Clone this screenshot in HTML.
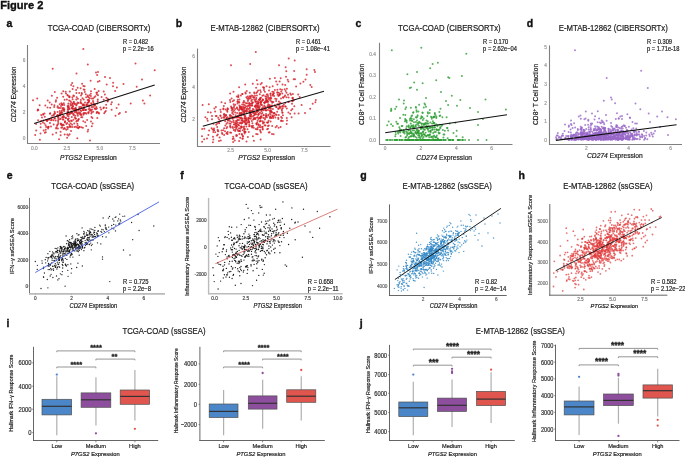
<!DOCTYPE html>
<html><head><meta charset="utf-8"><title>Figure 2</title>
<style>
html,body{margin:0;padding:0;background:#fff;}
body{width:685px;height:458px;overflow:hidden;}
svg{display:block;font-family:"Liberation Sans", sans-serif;will-change:transform;}
</style></head><body>
<svg width="685" height="458" viewBox="0 0 685 458">
<rect width="685" height="458" fill="#fff"/>
<text x="0.20" y="8.80" font-size="11.1" font-weight="bold" fill="#111" stroke="#111" stroke-width="0.35">Figure 2</text>
<text x="6.50" y="26.60" font-size="10.5" font-weight="bold" fill="#111" stroke="#111" stroke-width="0.35">a</text>
<text x="175.70" y="26.60" font-size="10.5" font-weight="bold" fill="#111" stroke="#111" stroke-width="0.35">b</text>
<text x="355.60" y="26.60" font-size="10.5" font-weight="bold" fill="#111" stroke="#111" stroke-width="0.35">c</text>
<text x="526.80" y="26.60" font-size="10.5" font-weight="bold" fill="#111" stroke="#111" stroke-width="0.35">d</text>
<text x="6.70" y="178.70" font-size="10.5" font-weight="bold" fill="#111" stroke="#111" stroke-width="0.35">e</text>
<text x="180.30" y="178.60" font-size="10.5" font-weight="bold" fill="#111" stroke="#111" stroke-width="0.35">f</text>
<text x="360.30" y="178.50" font-size="10.5" font-weight="bold" fill="#111" stroke="#111" stroke-width="0.35">g</text>
<text x="518.50" y="178.50" font-size="10.5" font-weight="bold" fill="#111" stroke="#111" stroke-width="0.35">h</text>
<text x="6.50" y="326.80" font-size="10.5" font-weight="bold" fill="#111" stroke="#111" stroke-width="0.35">i</text>
<text x="359.80" y="326.60" font-size="10.5" font-weight="bold" fill="#111" stroke="#111" stroke-width="0.35">j</text>
<text x="0.00" y="0.00" font-size="7.75" text-anchor="middle" fill="#1a1a1a" stroke="#1a1a1a" stroke-width="0.18" transform="translate(99.00 31.00) scale(1 1.2)">TCGA-COAD (CIBERSORTx)</text>
<text x="0.00" y="0.00" font-size="7.75" text-anchor="middle" fill="#1a1a1a" stroke="#1a1a1a" stroke-width="0.18" transform="translate(265.00 31.00) scale(1 1.2)">E-MTAB-12862 (CIBERSORTx)</text>
<text x="0.00" y="0.00" font-size="7.75" text-anchor="middle" fill="#1a1a1a" stroke="#1a1a1a" stroke-width="0.18" transform="translate(449.40 31.00) scale(1 1.2)">TCGA-COAD (CIBERSORTx)</text>
<text x="0.00" y="0.00" font-size="7.75" text-anchor="middle" fill="#1a1a1a" stroke="#1a1a1a" stroke-width="0.18" transform="translate(613.30 31.00) scale(1 1.2)">E-MTAB-12862 (CIBERSORTx)</text>
<g fill="#d41f28" fill-opacity="0.8"><circle cx="59.8" cy="111.0" r="1.0"/><circle cx="76.6" cy="111.8" r="1.0"/><circle cx="48.5" cy="127.1" r="1.0"/><circle cx="69.3" cy="124.4" r="1.0"/><circle cx="93.4" cy="104.2" r="1.0"/><circle cx="74.8" cy="117.4" r="1.0"/><circle cx="77.0" cy="120.5" r="1.0"/><circle cx="66.0" cy="117.9" r="1.0"/><circle cx="75.0" cy="109.0" r="1.0"/><circle cx="40.5" cy="133.5" r="1.0"/><circle cx="43.2" cy="114.0" r="1.0"/><circle cx="80.6" cy="88.3" r="1.0"/><circle cx="40.7" cy="123.8" r="1.0"/><circle cx="97.1" cy="92.6" r="1.0"/><circle cx="88.6" cy="100.1" r="1.0"/><circle cx="51.0" cy="126.4" r="1.0"/><circle cx="33.0" cy="100.3" r="1.0"/><circle cx="78.7" cy="109.4" r="1.0"/><circle cx="71.3" cy="111.6" r="1.0"/><circle cx="97.7" cy="101.3" r="1.0"/><circle cx="81.6" cy="103.6" r="1.0"/><circle cx="101.6" cy="96.9" r="1.0"/><circle cx="89.1" cy="106.8" r="1.0"/><circle cx="55.6" cy="120.6" r="1.0"/><circle cx="69.6" cy="97.3" r="1.0"/><circle cx="57.5" cy="115.1" r="1.0"/><circle cx="67.2" cy="127.0" r="1.0"/><circle cx="63.5" cy="115.7" r="1.0"/><circle cx="68.7" cy="107.2" r="1.0"/><circle cx="97.8" cy="99.5" r="1.0"/><circle cx="62.8" cy="119.4" r="1.0"/><circle cx="51.0" cy="120.3" r="1.0"/><circle cx="61.3" cy="127.7" r="1.0"/><circle cx="64.1" cy="111.3" r="1.0"/><circle cx="62.2" cy="107.9" r="1.0"/><circle cx="69.8" cy="91.4" r="1.0"/><circle cx="65.0" cy="122.5" r="1.0"/><circle cx="93.3" cy="102.3" r="1.0"/><circle cx="89.7" cy="105.5" r="1.0"/><circle cx="59.0" cy="139.3" r="1.0"/><circle cx="91.0" cy="91.3" r="1.0"/><circle cx="98.7" cy="91.1" r="1.0"/><circle cx="73.1" cy="106.1" r="1.0"/><circle cx="57.6" cy="112.1" r="1.0"/><circle cx="81.1" cy="111.1" r="1.0"/><circle cx="71.6" cy="108.0" r="1.0"/><circle cx="79.3" cy="107.1" r="1.0"/><circle cx="53.7" cy="114.5" r="1.0"/><circle cx="111.6" cy="109.8" r="1.0"/><circle cx="69.6" cy="134.2" r="1.0"/><circle cx="82.9" cy="127.7" r="1.0"/><circle cx="62.3" cy="104.4" r="1.0"/><circle cx="76.1" cy="89.9" r="1.0"/><circle cx="49.4" cy="119.0" r="1.0"/><circle cx="91.5" cy="104.2" r="1.0"/><circle cx="47.9" cy="127.2" r="1.0"/><circle cx="44.8" cy="116.7" r="1.0"/><circle cx="94.1" cy="104.0" r="1.0"/><circle cx="64.4" cy="128.1" r="1.0"/><circle cx="70.4" cy="103.9" r="1.0"/><circle cx="93.2" cy="98.5" r="1.0"/><circle cx="82.5" cy="98.2" r="1.0"/><circle cx="79.3" cy="108.5" r="1.0"/><circle cx="85.6" cy="112.9" r="1.0"/><circle cx="37.9" cy="109.6" r="1.0"/><circle cx="97.3" cy="103.5" r="1.0"/><circle cx="98.0" cy="95.2" r="1.0"/><circle cx="107.6" cy="101.5" r="1.0"/><circle cx="35.2" cy="135.0" r="1.0"/><circle cx="58.1" cy="120.6" r="1.0"/><circle cx="63.4" cy="128.9" r="1.0"/><circle cx="105.0" cy="111.9" r="1.0"/><circle cx="84.1" cy="112.9" r="1.0"/><circle cx="106.3" cy="108.1" r="1.0"/><circle cx="82.1" cy="83.8" r="1.0"/><circle cx="62.0" cy="125.2" r="1.0"/><circle cx="50.0" cy="123.1" r="1.0"/><circle cx="63.4" cy="110.1" r="1.0"/><circle cx="99.5" cy="80.9" r="1.0"/><circle cx="58.2" cy="115.4" r="1.0"/><circle cx="41.2" cy="115.0" r="1.0"/><circle cx="79.0" cy="112.3" r="1.0"/><circle cx="99.0" cy="113.6" r="1.0"/><circle cx="118.6" cy="104.5" r="1.0"/><circle cx="96.8" cy="94.2" r="1.0"/><circle cx="91.7" cy="107.0" r="1.0"/><circle cx="41.1" cy="121.1" r="1.0"/><circle cx="67.0" cy="113.8" r="1.0"/><circle cx="66.9" cy="99.6" r="1.0"/><circle cx="76.4" cy="93.0" r="1.0"/><circle cx="56.8" cy="116.0" r="1.0"/><circle cx="88.4" cy="112.3" r="1.0"/><circle cx="96.9" cy="108.5" r="1.0"/><circle cx="75.9" cy="126.8" r="1.0"/><circle cx="68.5" cy="116.2" r="1.0"/><circle cx="77.3" cy="103.7" r="1.0"/><circle cx="80.8" cy="103.0" r="1.0"/><circle cx="88.4" cy="113.2" r="1.0"/><circle cx="58.0" cy="116.4" r="1.0"/><circle cx="100.3" cy="107.6" r="1.0"/><circle cx="74.4" cy="110.7" r="1.0"/><circle cx="70.5" cy="101.3" r="1.0"/><circle cx="86.4" cy="104.5" r="1.0"/><circle cx="60.9" cy="123.4" r="1.0"/><circle cx="89.8" cy="110.8" r="1.0"/><circle cx="150.1" cy="95.4" r="1.0"/><circle cx="81.7" cy="107.6" r="1.0"/><circle cx="77.4" cy="113.9" r="1.0"/><circle cx="64.9" cy="128.7" r="1.0"/><circle cx="101.1" cy="109.5" r="1.0"/><circle cx="94.4" cy="97.3" r="1.0"/><circle cx="45.8" cy="132.3" r="1.0"/><circle cx="91.5" cy="117.1" r="1.0"/><circle cx="61.3" cy="112.1" r="1.0"/><circle cx="51.9" cy="95.8" r="1.0"/><circle cx="72.1" cy="108.5" r="1.0"/><circle cx="61.2" cy="124.4" r="1.0"/><circle cx="94.8" cy="108.4" r="1.0"/><circle cx="50.2" cy="113.3" r="1.0"/><circle cx="49.7" cy="102.4" r="1.0"/><circle cx="56.0" cy="100.2" r="1.0"/><circle cx="70.8" cy="123.5" r="1.0"/><circle cx="84.2" cy="113.6" r="1.0"/><circle cx="53.3" cy="120.3" r="1.0"/><circle cx="60.0" cy="115.5" r="1.0"/><circle cx="44.5" cy="113.5" r="1.0"/><circle cx="69.7" cy="108.9" r="1.0"/><circle cx="54.5" cy="118.5" r="1.0"/><circle cx="113.1" cy="82.8" r="1.0"/><circle cx="108.6" cy="99.7" r="1.0"/><circle cx="56.2" cy="132.7" r="1.0"/><circle cx="75.8" cy="110.6" r="1.0"/><circle cx="81.0" cy="114.3" r="1.0"/><circle cx="63.2" cy="116.7" r="1.0"/><circle cx="66.0" cy="93.4" r="1.0"/><circle cx="85.0" cy="102.4" r="1.0"/><circle cx="68.2" cy="127.3" r="1.0"/><circle cx="67.7" cy="111.6" r="1.0"/><circle cx="72.6" cy="106.6" r="1.0"/><circle cx="95.9" cy="109.3" r="1.0"/><circle cx="68.4" cy="103.5" r="1.0"/><circle cx="80.3" cy="114.6" r="1.0"/><circle cx="77.6" cy="102.6" r="1.0"/><circle cx="86.3" cy="113.8" r="1.0"/><circle cx="69.6" cy="121.4" r="1.0"/><circle cx="64.2" cy="104.9" r="1.0"/><circle cx="60.6" cy="131.7" r="1.0"/><circle cx="77.6" cy="87.8" r="1.0"/><circle cx="75.8" cy="112.3" r="1.0"/><circle cx="68.5" cy="135.4" r="1.0"/><circle cx="77.3" cy="123.7" r="1.0"/><circle cx="116.6" cy="108.0" r="1.0"/><circle cx="87.7" cy="131.4" r="1.0"/><circle cx="39.6" cy="105.2" r="1.0"/><circle cx="97.1" cy="75.0" r="1.0"/><circle cx="75.9" cy="118.4" r="1.0"/><circle cx="54.6" cy="111.8" r="1.0"/><circle cx="97.9" cy="81.7" r="1.0"/><circle cx="71.8" cy="116.9" r="1.0"/><circle cx="91.9" cy="98.4" r="1.0"/><circle cx="62.0" cy="104.2" r="1.0"/><circle cx="92.6" cy="123.4" r="1.0"/><circle cx="68.1" cy="109.7" r="1.0"/><circle cx="90.8" cy="93.8" r="1.0"/><circle cx="88.3" cy="105.5" r="1.0"/><circle cx="52.1" cy="115.8" r="1.0"/><circle cx="81.9" cy="94.0" r="1.0"/><circle cx="72.2" cy="112.5" r="1.0"/><circle cx="78.4" cy="113.4" r="1.0"/><circle cx="67.4" cy="113.8" r="1.0"/><circle cx="95.2" cy="104.4" r="1.0"/><circle cx="53.7" cy="115.4" r="1.0"/><circle cx="91.3" cy="113.6" r="1.0"/><circle cx="75.7" cy="110.3" r="1.0"/><circle cx="119.9" cy="113.0" r="1.0"/><circle cx="54.8" cy="92.1" r="1.0"/><circle cx="90.8" cy="109.8" r="1.0"/><circle cx="63.4" cy="119.4" r="1.0"/><circle cx="55.8" cy="101.7" r="1.0"/><circle cx="93.0" cy="107.1" r="1.0"/><circle cx="84.3" cy="105.8" r="1.0"/><circle cx="43.7" cy="130.5" r="1.0"/><circle cx="51.3" cy="117.8" r="1.0"/><circle cx="84.0" cy="104.4" r="1.0"/><circle cx="57.7" cy="106.3" r="1.0"/><circle cx="97.5" cy="112.2" r="1.0"/><circle cx="103.9" cy="107.4" r="1.0"/><circle cx="71.0" cy="130.9" r="1.0"/><circle cx="73.9" cy="101.7" r="1.0"/><circle cx="73.9" cy="115.3" r="1.0"/><circle cx="68.0" cy="119.0" r="1.0"/><circle cx="72.7" cy="108.4" r="1.0"/><circle cx="69.1" cy="100.5" r="1.0"/><circle cx="81.2" cy="117.3" r="1.0"/><circle cx="67.3" cy="134.4" r="1.0"/><circle cx="63.8" cy="125.2" r="1.0"/><circle cx="67.9" cy="107.3" r="1.0"/><circle cx="62.2" cy="112.5" r="1.0"/><circle cx="71.9" cy="120.9" r="1.0"/><circle cx="83.3" cy="104.9" r="1.0"/><circle cx="111.1" cy="104.2" r="1.0"/><circle cx="43.5" cy="120.4" r="1.0"/><circle cx="48.1" cy="128.6" r="1.0"/><circle cx="72.1" cy="127.1" r="1.0"/><circle cx="74.0" cy="109.1" r="1.0"/><circle cx="72.6" cy="106.7" r="1.0"/><circle cx="107.7" cy="101.0" r="1.0"/><circle cx="39.9" cy="139.7" r="1.0"/><circle cx="70.6" cy="105.4" r="1.0"/><circle cx="50.1" cy="107.7" r="1.0"/><circle cx="67.9" cy="119.8" r="1.0"/><circle cx="82.8" cy="110.1" r="1.0"/><circle cx="46.9" cy="120.8" r="1.0"/><circle cx="92.2" cy="109.6" r="1.0"/><circle cx="57.9" cy="116.6" r="1.0"/><circle cx="54.2" cy="107.1" r="1.0"/><circle cx="43.2" cy="114.8" r="1.0"/><circle cx="60.6" cy="135.3" r="1.0"/><circle cx="59.8" cy="119.2" r="1.0"/><circle cx="88.6" cy="109.2" r="1.0"/><circle cx="44.8" cy="132.7" r="1.0"/><circle cx="77.3" cy="138.2" r="1.0"/><circle cx="88.8" cy="97.6" r="1.0"/><circle cx="68.8" cy="108.8" r="1.0"/><circle cx="87.5" cy="102.7" r="1.0"/><circle cx="60.7" cy="118.8" r="1.0"/><circle cx="81.0" cy="95.6" r="1.0"/><circle cx="67.3" cy="94.9" r="1.0"/><circle cx="113.0" cy="86.2" r="1.0"/><circle cx="68.2" cy="105.5" r="1.0"/><circle cx="67.9" cy="95.4" r="1.0"/><circle cx="80.8" cy="107.0" r="1.0"/><circle cx="63.7" cy="107.9" r="1.0"/><circle cx="69.8" cy="126.1" r="1.0"/><circle cx="79.6" cy="113.6" r="1.0"/><circle cx="89.5" cy="95.3" r="1.0"/><circle cx="62.5" cy="104.9" r="1.0"/><circle cx="74.5" cy="103.9" r="1.0"/><circle cx="70.3" cy="113.0" r="1.0"/><circle cx="86.2" cy="126.1" r="1.0"/><circle cx="88.5" cy="112.5" r="1.0"/><circle cx="80.8" cy="99.9" r="1.0"/><circle cx="78.3" cy="127.7" r="1.0"/><circle cx="106.3" cy="97.7" r="1.0"/><circle cx="57.4" cy="124.8" r="1.0"/><circle cx="103.4" cy="108.2" r="1.0"/><circle cx="83.3" cy="121.2" r="1.0"/><circle cx="45.3" cy="105.6" r="1.0"/><circle cx="75.8" cy="108.9" r="1.0"/><circle cx="47.5" cy="119.7" r="1.0"/><circle cx="71.2" cy="85.0" r="1.0"/><circle cx="36.2" cy="130.6" r="1.0"/><circle cx="86.8" cy="104.7" r="1.0"/><circle cx="58.9" cy="108.1" r="1.0"/><circle cx="103.7" cy="99.8" r="1.0"/><circle cx="60.1" cy="114.0" r="1.0"/><circle cx="74.4" cy="126.9" r="1.0"/><circle cx="48.5" cy="126.7" r="1.0"/><circle cx="71.1" cy="120.6" r="1.0"/><circle cx="74.2" cy="123.5" r="1.0"/><circle cx="82.7" cy="105.3" r="1.0"/><circle cx="118.8" cy="114.0" r="1.0"/><circle cx="103.7" cy="91.4" r="1.0"/><circle cx="87.9" cy="96.8" r="1.0"/><circle cx="67.5" cy="115.7" r="1.0"/><circle cx="68.3" cy="112.4" r="1.0"/><circle cx="67.9" cy="109.0" r="1.0"/><circle cx="57.9" cy="128.6" r="1.0"/><circle cx="85.9" cy="109.9" r="1.0"/><circle cx="72.6" cy="99.3" r="1.0"/><circle cx="83.4" cy="110.2" r="1.0"/><circle cx="69.2" cy="97.0" r="1.0"/><circle cx="80.6" cy="101.9" r="1.0"/><circle cx="106.1" cy="104.7" r="1.0"/><circle cx="80.3" cy="113.0" r="1.0"/><circle cx="90.9" cy="96.1" r="1.0"/><circle cx="58.4" cy="117.6" r="1.0"/><circle cx="71.3" cy="102.4" r="1.0"/><circle cx="67.1" cy="137.8" r="1.0"/><circle cx="83.3" cy="113.4" r="1.0"/><circle cx="79.6" cy="126.9" r="1.0"/><circle cx="61.9" cy="110.5" r="1.0"/><circle cx="80.7" cy="110.2" r="1.0"/><circle cx="76.7" cy="97.2" r="1.0"/><circle cx="45.7" cy="129.8" r="1.0"/><circle cx="74.0" cy="96.0" r="1.0"/><circle cx="96.4" cy="92.7" r="1.0"/><circle cx="58.3" cy="123.7" r="1.0"/><circle cx="94.7" cy="89.0" r="1.0"/><circle cx="87.6" cy="95.5" r="1.0"/><circle cx="78.0" cy="120.7" r="1.0"/><circle cx="83.0" cy="104.6" r="1.0"/><circle cx="60.2" cy="114.3" r="1.0"/><circle cx="87.9" cy="102.8" r="1.0"/><circle cx="48.9" cy="119.7" r="1.0"/><circle cx="54.4" cy="105.2" r="1.0"/><circle cx="84.9" cy="109.9" r="1.0"/><circle cx="54.9" cy="113.0" r="1.0"/><circle cx="111.9" cy="102.3" r="1.0"/><circle cx="81.3" cy="115.2" r="1.0"/><circle cx="91.8" cy="126.3" r="1.0"/><circle cx="93.0" cy="101.1" r="1.0"/><circle cx="68.0" cy="114.3" r="1.0"/><circle cx="75.7" cy="108.2" r="1.0"/><circle cx="84.0" cy="108.1" r="1.0"/><circle cx="75.4" cy="118.4" r="1.0"/><circle cx="104.2" cy="113.3" r="1.0"/><circle cx="94.3" cy="105.5" r="1.0"/><circle cx="79.4" cy="126.9" r="1.0"/><circle cx="98.7" cy="112.8" r="1.0"/><circle cx="76.8" cy="109.9" r="1.0"/><circle cx="89.7" cy="108.8" r="1.0"/><circle cx="78.4" cy="110.0" r="1.0"/><circle cx="70.5" cy="126.7" r="1.0"/><circle cx="58.2" cy="122.1" r="1.0"/><circle cx="62.2" cy="127.2" r="1.0"/><circle cx="76.3" cy="99.6" r="1.0"/><circle cx="83.1" cy="109.1" r="1.0"/><circle cx="36.1" cy="124.1" r="1.0"/><circle cx="67.6" cy="106.2" r="1.0"/><circle cx="85.8" cy="94.3" r="1.0"/><circle cx="72.1" cy="124.7" r="1.0"/><circle cx="54.7" cy="113.7" r="1.0"/><circle cx="56.4" cy="127.4" r="1.0"/><circle cx="105.8" cy="111.0" r="1.0"/><circle cx="45.6" cy="125.2" r="1.0"/><circle cx="68.7" cy="121.1" r="1.0"/><circle cx="89.9" cy="98.2" r="1.0"/><circle cx="38.1" cy="120.2" r="1.0"/><circle cx="87.1" cy="120.1" r="1.0"/><circle cx="46.2" cy="127.0" r="1.0"/><circle cx="93.2" cy="111.7" r="1.0"/><circle cx="123.5" cy="84.0" r="1.0"/><circle cx="51.7" cy="104.4" r="1.0"/><circle cx="73.4" cy="86.3" r="1.0"/><circle cx="81.4" cy="127.3" r="1.0"/><circle cx="64.2" cy="117.1" r="1.0"/><circle cx="84.6" cy="86.2" r="1.0"/><circle cx="61.6" cy="113.7" r="1.0"/><circle cx="64.2" cy="109.8" r="1.0"/><circle cx="59.6" cy="114.2" r="1.0"/><circle cx="73.7" cy="113.9" r="1.0"/><circle cx="83.3" cy="86.0" r="1.0"/><circle cx="92.4" cy="118.1" r="1.0"/><circle cx="72.6" cy="89.0" r="1.0"/><circle cx="54.9" cy="118.3" r="1.0"/><circle cx="65.7" cy="91.7" r="1.0"/><circle cx="65.1" cy="121.2" r="1.0"/><circle cx="67.3" cy="114.3" r="1.0"/><circle cx="85.2" cy="122.2" r="1.0"/><circle cx="71.9" cy="112.9" r="1.0"/><circle cx="76.2" cy="104.6" r="1.0"/><circle cx="75.4" cy="108.0" r="1.0"/><circle cx="72.8" cy="108.8" r="1.0"/><circle cx="65.7" cy="118.1" r="1.0"/><circle cx="87.7" cy="99.9" r="1.0"/><circle cx="72.7" cy="103.6" r="1.0"/><circle cx="72.2" cy="82.9" r="1.0"/><circle cx="53.7" cy="124.6" r="1.0"/><circle cx="61.3" cy="103.3" r="1.0"/><circle cx="63.2" cy="96.7" r="1.0"/><circle cx="84.6" cy="89.8" r="1.0"/><circle cx="42.0" cy="117.5" r="1.0"/><circle cx="87.5" cy="105.4" r="1.0"/><circle cx="76.3" cy="105.6" r="1.0"/><circle cx="61.0" cy="106.1" r="1.0"/><circle cx="58.3" cy="119.0" r="1.0"/><circle cx="83.3" cy="105.6" r="1.0"/><circle cx="77.9" cy="98.8" r="1.0"/><circle cx="37.6" cy="110.5" r="1.0"/><circle cx="61.2" cy="112.8" r="1.0"/><circle cx="57.1" cy="125.8" r="1.0"/><circle cx="72.6" cy="104.0" r="1.0"/><circle cx="62.2" cy="117.2" r="1.0"/><circle cx="82.3" cy="117.3" r="1.0"/><circle cx="64.3" cy="109.3" r="1.0"/><circle cx="68.8" cy="118.5" r="1.0"/><circle cx="96.6" cy="113.1" r="1.0"/><circle cx="69.5" cy="114.0" r="1.0"/><circle cx="64.7" cy="134.4" r="1.0"/><circle cx="74.5" cy="111.9" r="1.0"/><circle cx="50.0" cy="113.7" r="1.0"/><circle cx="44.5" cy="123.5" r="1.0"/><circle cx="73.2" cy="114.6" r="1.0"/><circle cx="62.9" cy="117.4" r="1.0"/><circle cx="47.5" cy="107.4" r="1.0"/><circle cx="90.6" cy="80.8" r="1.0"/><circle cx="142.9" cy="100.6" r="1.0"/><circle cx="77.7" cy="125.6" r="1.0"/><circle cx="63.8" cy="103.2" r="1.0"/><circle cx="69.9" cy="126.9" r="1.0"/><circle cx="63.0" cy="124.5" r="1.0"/><circle cx="89.2" cy="100.4" r="1.0"/><circle cx="47.1" cy="121.0" r="1.0"/><circle cx="78.4" cy="119.6" r="1.0"/><circle cx="73.8" cy="102.8" r="1.0"/><circle cx="52.7" cy="134.5" r="1.0"/><circle cx="84.8" cy="92.0" r="1.0"/><circle cx="67.2" cy="123.0" r="1.0"/><circle cx="107.7" cy="98.8" r="1.0"/><circle cx="94.9" cy="108.5" r="1.0"/><circle cx="72.4" cy="97.3" r="1.0"/><circle cx="66.5" cy="124.1" r="1.0"/><circle cx="60.9" cy="124.2" r="1.0"/><circle cx="60.2" cy="108.1" r="1.0"/><circle cx="79.2" cy="93.0" r="1.0"/><circle cx="47.1" cy="120.4" r="1.0"/><circle cx="91.2" cy="103.2" r="1.0"/><circle cx="86.2" cy="97.3" r="1.0"/><circle cx="71.0" cy="112.7" r="1.0"/><circle cx="115.1" cy="91.0" r="1.0"/><circle cx="115.5" cy="115.7" r="1.0"/><circle cx="78.8" cy="119.0" r="1.0"/><circle cx="104.9" cy="94.5" r="1.0"/><circle cx="68.0" cy="111.6" r="1.0"/><circle cx="62.3" cy="125.2" r="1.0"/><circle cx="91.8" cy="112.3" r="1.0"/><circle cx="38.3" cy="109.9" r="1.0"/><circle cx="91.0" cy="121.6" r="1.0"/><circle cx="73.4" cy="119.8" r="1.0"/><circle cx="64.6" cy="99.7" r="1.0"/><circle cx="75.0" cy="103.7" r="1.0"/><circle cx="75.4" cy="115.8" r="1.0"/><circle cx="96.3" cy="107.0" r="1.0"/><circle cx="88.8" cy="102.0" r="1.0"/><circle cx="77.1" cy="127.6" r="1.0"/><circle cx="69.4" cy="96.2" r="1.0"/><circle cx="56.1" cy="128.5" r="1.0"/><circle cx="77.1" cy="112.9" r="1.0"/><circle cx="91.1" cy="110.7" r="1.0"/><circle cx="73.4" cy="95.5" r="1.0"/><circle cx="42.9" cy="122.4" r="1.0"/><circle cx="83.8" cy="108.3" r="1.0"/><circle cx="57.1" cy="97.8" r="1.0"/><circle cx="64.9" cy="121.7" r="1.0"/><circle cx="40.6" cy="127.2" r="1.0"/><circle cx="59.7" cy="104.2" r="1.0"/><circle cx="76.3" cy="121.6" r="1.0"/><circle cx="71.9" cy="112.5" r="1.0"/><circle cx="78.7" cy="103.1" r="1.0"/><circle cx="60.0" cy="113.0" r="1.0"/><circle cx="83.7" cy="99.6" r="1.0"/><circle cx="46.2" cy="120.1" r="1.0"/><circle cx="62.9" cy="109.0" r="1.0"/><circle cx="67.6" cy="128.9" r="1.0"/><circle cx="63.2" cy="91.3" r="1.0"/><circle cx="69.7" cy="114.2" r="1.0"/><circle cx="83.7" cy="89.6" r="1.0"/><circle cx="97.3" cy="117.9" r="1.0"/><circle cx="51.6" cy="119.8" r="1.0"/><circle cx="68.8" cy="106.9" r="1.0"/><circle cx="37.2" cy="98.4" r="1.0"/><circle cx="106.7" cy="84.6" r="1.0"/><circle cx="97.0" cy="112.0" r="1.0"/><circle cx="81.7" cy="93.0" r="1.0"/><circle cx="95.4" cy="96.2" r="1.0"/><circle cx="88.9" cy="101.6" r="1.0"/><circle cx="61.6" cy="93.5" r="1.0"/><circle cx="86.4" cy="105.5" r="1.0"/><circle cx="94.8" cy="105.5" r="1.0"/><circle cx="88.1" cy="129.8" r="1.0"/><circle cx="71.8" cy="105.0" r="1.0"/><circle cx="66.3" cy="129.8" r="1.0"/><circle cx="116.9" cy="87.5" r="1.0"/><circle cx="78.4" cy="128.3" r="1.0"/><circle cx="83.4" cy="114.8" r="1.0"/><circle cx="47.7" cy="100.5" r="1.0"/><circle cx="85.9" cy="109.7" r="1.0"/><circle cx="77.9" cy="115.8" r="1.0"/><circle cx="57.6" cy="107.5" r="1.0"/><circle cx="83.3" cy="49.0" r="1.0"/><circle cx="87.8" cy="64.4" r="1.0"/><circle cx="52.7" cy="68.8" r="1.0"/><circle cx="76.5" cy="73.4" r="1.0"/><circle cx="135.5" cy="63.5" r="1.0"/><circle cx="154.7" cy="70.3" r="1.0"/><circle cx="142.0" cy="79.6" r="1.0"/><circle cx="136.7" cy="86.8" r="1.0"/><circle cx="130.7" cy="103.6" r="1.0"/><circle cx="144.4" cy="103.6" r="1.0"/><circle cx="125.9" cy="112.0" r="1.0"/><circle cx="90.0" cy="140.5" r="1.0"/><circle cx="96.0" cy="72.5" r="1.0"/><circle cx="98.0" cy="72.0" r="1.0"/><circle cx="110.0" cy="78.0" r="1.0"/><circle cx="105.0" cy="77.0" r="1.0"/></g>
<line x1="27.50" y1="45.00" x2="27.50" y2="144.00" stroke="#808080" stroke-width="1.1"/>
<line x1="27.00" y1="143.50" x2="160.00" y2="143.50" stroke="#808080" stroke-width="1.1"/>
<line x1="34.10" y1="123.60" x2="154.70" y2="85.10" stroke="#111" stroke-width="1.1"/>
<text x="34.40" y="149.60" font-size="4.8" text-anchor="middle" fill="#999" stroke="#999" stroke-width="0.18">0.0</text>
<text x="66.80" y="149.60" font-size="4.8" text-anchor="middle" fill="#999" stroke="#999" stroke-width="0.18">2.5</text>
<text x="99.80" y="149.60" font-size="4.8" text-anchor="middle" fill="#999" stroke="#999" stroke-width="0.18">5.0</text>
<text x="132.30" y="149.60" font-size="4.8" text-anchor="middle" fill="#999" stroke="#999" stroke-width="0.18">7.5</text>
<text x="25.40" y="140.23" font-size="4.8" text-anchor="end" fill="#999" stroke="#999" stroke-width="0.18">0</text>
<text x="25.40" y="114.13" font-size="4.8" text-anchor="end" fill="#999" stroke="#999" stroke-width="0.18">2</text>
<text x="25.40" y="87.73" font-size="4.8" text-anchor="end" fill="#999" stroke="#999" stroke-width="0.18">4</text>
<text x="25.40" y="61.63" font-size="4.8" text-anchor="end" fill="#999" stroke="#999" stroke-width="0.18">6</text>
<text x="88.40" y="159.75" font-size="6.7" text-anchor="middle" fill="#1a1a1a" stroke="#1a1a1a" stroke-width="0.18"><tspan font-style="italic">PTGS2</tspan> Expression</text>
<text x="16.50" y="94.30" font-size="6.7" text-anchor="middle" fill="#1a1a1a" stroke="#1a1a1a" stroke-width="0.18" transform="rotate(-90 16.50 94.30)"><tspan font-style="italic">CD274</tspan> Expression</text>
<text x="0.00" y="0.00" font-size="5.75" fill="#1a1a1a" stroke="#1a1a1a" stroke-width="0.18" transform="translate(123.10 44.35) scale(1 1.1)">R = 0.482</text>
<text x="0.00" y="0.00" font-size="5.75" fill="#1a1a1a" stroke="#1a1a1a" stroke-width="0.18" transform="translate(123.10 51.35) scale(1 1.1)">p = 2.2e−16</text>
<g fill="#d41f28" fill-opacity="0.8"><circle cx="258.2" cy="115.1" r="1.0"/><circle cx="243.0" cy="136.4" r="1.0"/><circle cx="245.3" cy="118.4" r="1.0"/><circle cx="202.0" cy="136.2" r="1.0"/><circle cx="292.7" cy="101.1" r="1.0"/><circle cx="278.6" cy="127.8" r="1.0"/><circle cx="247.2" cy="98.6" r="1.0"/><circle cx="270.7" cy="95.4" r="1.0"/><circle cx="260.2" cy="90.3" r="1.0"/><circle cx="242.3" cy="123.0" r="1.0"/><circle cx="275.1" cy="105.7" r="1.0"/><circle cx="247.5" cy="129.3" r="1.0"/><circle cx="247.1" cy="103.3" r="1.0"/><circle cx="237.2" cy="120.2" r="1.0"/><circle cx="263.9" cy="88.1" r="1.0"/><circle cx="252.1" cy="103.6" r="1.0"/><circle cx="265.8" cy="98.7" r="1.0"/><circle cx="241.2" cy="109.3" r="1.0"/><circle cx="256.9" cy="129.3" r="1.0"/><circle cx="235.1" cy="109.0" r="1.0"/><circle cx="272.2" cy="126.0" r="1.0"/><circle cx="258.2" cy="106.9" r="1.0"/><circle cx="261.2" cy="102.3" r="1.0"/><circle cx="263.0" cy="123.4" r="1.0"/><circle cx="232.6" cy="126.7" r="1.0"/><circle cx="270.9" cy="108.7" r="1.0"/><circle cx="298.2" cy="94.5" r="1.0"/><circle cx="219.1" cy="119.6" r="1.0"/><circle cx="217.2" cy="123.4" r="1.0"/><circle cx="222.0" cy="133.1" r="1.0"/><circle cx="272.2" cy="102.7" r="1.0"/><circle cx="256.9" cy="80.3" r="1.0"/><circle cx="277.2" cy="111.7" r="1.0"/><circle cx="269.6" cy="87.3" r="1.0"/><circle cx="258.7" cy="125.3" r="1.0"/><circle cx="260.2" cy="118.0" r="1.0"/><circle cx="250.5" cy="96.7" r="1.0"/><circle cx="272.7" cy="95.5" r="1.0"/><circle cx="230.0" cy="99.9" r="1.0"/><circle cx="245.2" cy="107.5" r="1.0"/><circle cx="259.4" cy="117.9" r="1.0"/><circle cx="292.7" cy="98.8" r="1.0"/><circle cx="237.8" cy="122.8" r="1.0"/><circle cx="231.1" cy="106.6" r="1.0"/><circle cx="242.1" cy="108.4" r="1.0"/><circle cx="274.9" cy="90.0" r="1.0"/><circle cx="249.1" cy="122.2" r="1.0"/><circle cx="282.5" cy="106.1" r="1.0"/><circle cx="214.1" cy="130.3" r="1.0"/><circle cx="278.3" cy="108.9" r="1.0"/><circle cx="276.3" cy="107.0" r="1.0"/><circle cx="223.8" cy="106.1" r="1.0"/><circle cx="257.5" cy="109.3" r="1.0"/><circle cx="280.2" cy="89.2" r="1.0"/><circle cx="256.1" cy="108.9" r="1.0"/><circle cx="275.6" cy="127.3" r="1.0"/><circle cx="305.0" cy="113.0" r="1.0"/><circle cx="260.0" cy="112.5" r="1.0"/><circle cx="248.2" cy="99.7" r="1.0"/><circle cx="237.7" cy="117.3" r="1.0"/><circle cx="268.0" cy="125.9" r="1.0"/><circle cx="250.0" cy="112.0" r="1.0"/><circle cx="250.4" cy="116.5" r="1.0"/><circle cx="251.9" cy="105.6" r="1.0"/><circle cx="268.1" cy="97.4" r="1.0"/><circle cx="231.4" cy="116.0" r="1.0"/><circle cx="221.5" cy="130.6" r="1.0"/><circle cx="202.1" cy="141.7" r="1.0"/><circle cx="279.8" cy="108.3" r="1.0"/><circle cx="255.8" cy="112.6" r="1.0"/><circle cx="286.5" cy="97.3" r="1.0"/><circle cx="254.0" cy="117.9" r="1.0"/><circle cx="238.3" cy="125.1" r="1.0"/><circle cx="264.4" cy="102.8" r="1.0"/><circle cx="252.5" cy="102.6" r="1.0"/><circle cx="227.4" cy="117.3" r="1.0"/><circle cx="235.2" cy="130.9" r="1.0"/><circle cx="292.0" cy="103.8" r="1.0"/><circle cx="261.8" cy="83.0" r="1.0"/><circle cx="263.1" cy="122.5" r="1.0"/><circle cx="248.3" cy="118.5" r="1.0"/><circle cx="239.4" cy="105.6" r="1.0"/><circle cx="273.2" cy="117.9" r="1.0"/><circle cx="251.9" cy="116.7" r="1.0"/><circle cx="237.9" cy="101.5" r="1.0"/><circle cx="251.3" cy="101.0" r="1.0"/><circle cx="234.8" cy="140.6" r="1.0"/><circle cx="258.2" cy="103.4" r="1.0"/><circle cx="278.3" cy="108.3" r="1.0"/><circle cx="236.3" cy="135.0" r="1.0"/><circle cx="284.7" cy="89.2" r="1.0"/><circle cx="239.9" cy="123.2" r="1.0"/><circle cx="257.5" cy="111.6" r="1.0"/><circle cx="236.3" cy="128.5" r="1.0"/><circle cx="249.4" cy="103.9" r="1.0"/><circle cx="255.2" cy="100.6" r="1.0"/><circle cx="244.9" cy="105.3" r="1.0"/><circle cx="239.1" cy="87.3" r="1.0"/><circle cx="239.7" cy="108.9" r="1.0"/><circle cx="236.6" cy="121.4" r="1.0"/><circle cx="220.6" cy="115.9" r="1.0"/><circle cx="248.6" cy="109.1" r="1.0"/><circle cx="262.8" cy="99.7" r="1.0"/><circle cx="273.6" cy="134.2" r="1.0"/><circle cx="268.0" cy="96.1" r="1.0"/><circle cx="306.7" cy="69.2" r="1.0"/><circle cx="261.0" cy="97.8" r="1.0"/><circle cx="244.4" cy="121.5" r="1.0"/><circle cx="294.2" cy="71.1" r="1.0"/><circle cx="231.8" cy="108.0" r="1.0"/><circle cx="274.9" cy="78.1" r="1.0"/><circle cx="233.7" cy="104.2" r="1.0"/><circle cx="261.7" cy="111.0" r="1.0"/><circle cx="273.4" cy="101.9" r="1.0"/><circle cx="250.8" cy="103.8" r="1.0"/><circle cx="233.5" cy="120.7" r="1.0"/><circle cx="290.1" cy="113.8" r="1.0"/><circle cx="270.5" cy="93.5" r="1.0"/><circle cx="255.2" cy="117.9" r="1.0"/><circle cx="238.2" cy="96.8" r="1.0"/><circle cx="253.2" cy="116.1" r="1.0"/><circle cx="250.7" cy="105.5" r="1.0"/><circle cx="269.7" cy="108.0" r="1.0"/><circle cx="271.2" cy="98.5" r="1.0"/><circle cx="239.9" cy="106.9" r="1.0"/><circle cx="242.4" cy="138.8" r="1.0"/><circle cx="242.8" cy="121.2" r="1.0"/><circle cx="225.3" cy="125.4" r="1.0"/><circle cx="241.5" cy="120.5" r="1.0"/><circle cx="252.2" cy="110.8" r="1.0"/><circle cx="269.0" cy="90.5" r="1.0"/><circle cx="282.4" cy="112.7" r="1.0"/><circle cx="236.9" cy="108.2" r="1.0"/><circle cx="266.0" cy="110.5" r="1.0"/><circle cx="244.7" cy="121.1" r="1.0"/><circle cx="298.6" cy="113.6" r="1.0"/><circle cx="253.1" cy="119.4" r="1.0"/><circle cx="264.9" cy="119.6" r="1.0"/><circle cx="234.2" cy="110.5" r="1.0"/><circle cx="236.8" cy="96.5" r="1.0"/><circle cx="258.5" cy="101.7" r="1.0"/><circle cx="246.0" cy="103.3" r="1.0"/><circle cx="261.7" cy="117.4" r="1.0"/><circle cx="220.8" cy="111.9" r="1.0"/><circle cx="268.3" cy="115.6" r="1.0"/><circle cx="234.9" cy="127.3" r="1.0"/><circle cx="291.0" cy="94.8" r="1.0"/><circle cx="248.0" cy="119.8" r="1.0"/><circle cx="277.6" cy="94.7" r="1.0"/><circle cx="224.3" cy="117.7" r="1.0"/><circle cx="263.3" cy="110.3" r="1.0"/><circle cx="235.2" cy="123.1" r="1.0"/><circle cx="243.8" cy="110.9" r="1.0"/><circle cx="254.7" cy="106.5" r="1.0"/><circle cx="247.4" cy="111.1" r="1.0"/><circle cx="259.8" cy="94.3" r="1.0"/><circle cx="270.2" cy="111.8" r="1.0"/><circle cx="268.1" cy="122.3" r="1.0"/><circle cx="252.3" cy="126.7" r="1.0"/><circle cx="225.0" cy="131.2" r="1.0"/><circle cx="237.0" cy="126.7" r="1.0"/><circle cx="250.0" cy="112.9" r="1.0"/><circle cx="208.8" cy="104.3" r="1.0"/><circle cx="270.3" cy="117.1" r="1.0"/><circle cx="249.0" cy="121.9" r="1.0"/><circle cx="248.8" cy="118.2" r="1.0"/><circle cx="274.5" cy="115.5" r="1.0"/><circle cx="268.5" cy="114.7" r="1.0"/><circle cx="258.9" cy="99.8" r="1.0"/><circle cx="232.8" cy="101.2" r="1.0"/><circle cx="260.8" cy="116.5" r="1.0"/><circle cx="261.6" cy="108.4" r="1.0"/><circle cx="235.3" cy="104.8" r="1.0"/><circle cx="276.5" cy="98.9" r="1.0"/><circle cx="265.0" cy="108.7" r="1.0"/><circle cx="212.0" cy="119.2" r="1.0"/><circle cx="256.8" cy="110.4" r="1.0"/><circle cx="227.1" cy="126.9" r="1.0"/><circle cx="278.5" cy="96.0" r="1.0"/><circle cx="271.4" cy="112.2" r="1.0"/><circle cx="230.6" cy="123.7" r="1.0"/><circle cx="235.2" cy="112.5" r="1.0"/><circle cx="256.4" cy="123.4" r="1.0"/><circle cx="249.1" cy="103.1" r="1.0"/><circle cx="286.8" cy="108.4" r="1.0"/><circle cx="270.0" cy="116.9" r="1.0"/><circle cx="248.1" cy="105.5" r="1.0"/><circle cx="266.5" cy="98.2" r="1.0"/><circle cx="210.7" cy="112.6" r="1.0"/><circle cx="260.8" cy="91.9" r="1.0"/><circle cx="272.7" cy="116.3" r="1.0"/><circle cx="250.3" cy="114.6" r="1.0"/><circle cx="239.0" cy="128.2" r="1.0"/><circle cx="266.3" cy="115.5" r="1.0"/><circle cx="296.1" cy="86.5" r="1.0"/><circle cx="258.6" cy="105.3" r="1.0"/><circle cx="230.2" cy="114.9" r="1.0"/><circle cx="285.1" cy="95.5" r="1.0"/><circle cx="214.0" cy="128.4" r="1.0"/><circle cx="264.9" cy="91.8" r="1.0"/><circle cx="241.7" cy="126.5" r="1.0"/><circle cx="274.1" cy="96.1" r="1.0"/><circle cx="236.0" cy="123.5" r="1.0"/><circle cx="282.5" cy="112.5" r="1.0"/><circle cx="260.6" cy="84.3" r="1.0"/><circle cx="217.2" cy="127.0" r="1.0"/><circle cx="212.0" cy="115.9" r="1.0"/><circle cx="247.4" cy="122.4" r="1.0"/><circle cx="281.9" cy="110.7" r="1.0"/><circle cx="256.9" cy="95.5" r="1.0"/><circle cx="255.6" cy="105.3" r="1.0"/><circle cx="249.1" cy="111.6" r="1.0"/><circle cx="270.0" cy="100.1" r="1.0"/><circle cx="262.2" cy="100.8" r="1.0"/><circle cx="260.2" cy="98.7" r="1.0"/><circle cx="233.1" cy="111.8" r="1.0"/><circle cx="279.6" cy="94.4" r="1.0"/><circle cx="283.3" cy="97.7" r="1.0"/><circle cx="226.3" cy="118.2" r="1.0"/><circle cx="303.4" cy="81.7" r="1.0"/><circle cx="269.6" cy="132.2" r="1.0"/><circle cx="243.7" cy="104.4" r="1.0"/><circle cx="213.4" cy="123.8" r="1.0"/><circle cx="268.2" cy="104.3" r="1.0"/><circle cx="266.1" cy="110.3" r="1.0"/><circle cx="241.4" cy="123.6" r="1.0"/><circle cx="215.9" cy="116.1" r="1.0"/><circle cx="278.2" cy="117.8" r="1.0"/><circle cx="241.6" cy="127.2" r="1.0"/><circle cx="244.1" cy="126.5" r="1.0"/><circle cx="315.0" cy="72.1" r="1.0"/><circle cx="299.7" cy="96.9" r="1.0"/><circle cx="274.6" cy="105.2" r="1.0"/><circle cx="244.4" cy="131.7" r="1.0"/><circle cx="268.1" cy="106.3" r="1.0"/><circle cx="205.4" cy="117.2" r="1.0"/><circle cx="256.5" cy="124.1" r="1.0"/><circle cx="237.9" cy="116.2" r="1.0"/><circle cx="226.7" cy="118.3" r="1.0"/><circle cx="220.3" cy="115.4" r="1.0"/><circle cx="265.4" cy="96.6" r="1.0"/><circle cx="256.1" cy="87.7" r="1.0"/><circle cx="257.6" cy="110.9" r="1.0"/><circle cx="272.2" cy="105.9" r="1.0"/><circle cx="236.1" cy="125.5" r="1.0"/><circle cx="227.7" cy="109.0" r="1.0"/><circle cx="216.2" cy="124.7" r="1.0"/><circle cx="247.0" cy="108.8" r="1.0"/><circle cx="270.4" cy="98.5" r="1.0"/><circle cx="251.0" cy="114.9" r="1.0"/><circle cx="267.9" cy="109.9" r="1.0"/><circle cx="228.9" cy="118.3" r="1.0"/><circle cx="244.1" cy="113.7" r="1.0"/><circle cx="237.8" cy="116.7" r="1.0"/><circle cx="227.5" cy="122.5" r="1.0"/><circle cx="293.9" cy="99.9" r="1.0"/><circle cx="272.4" cy="91.8" r="1.0"/><circle cx="237.9" cy="124.6" r="1.0"/><circle cx="237.8" cy="116.3" r="1.0"/><circle cx="253.0" cy="112.4" r="1.0"/><circle cx="223.3" cy="109.2" r="1.0"/><circle cx="263.5" cy="115.3" r="1.0"/><circle cx="226.5" cy="123.8" r="1.0"/><circle cx="246.3" cy="120.7" r="1.0"/><circle cx="232.3" cy="109.5" r="1.0"/><circle cx="243.9" cy="107.7" r="1.0"/><circle cx="225.7" cy="116.0" r="1.0"/><circle cx="220.5" cy="121.1" r="1.0"/><circle cx="233.5" cy="91.8" r="1.0"/><circle cx="239.6" cy="113.0" r="1.0"/><circle cx="247.9" cy="136.9" r="1.0"/><circle cx="255.7" cy="128.9" r="1.0"/><circle cx="286.8" cy="118.1" r="1.0"/><circle cx="271.5" cy="111.6" r="1.0"/><circle cx="248.8" cy="131.9" r="1.0"/><circle cx="269.7" cy="107.0" r="1.0"/><circle cx="239.4" cy="134.0" r="1.0"/><circle cx="285.2" cy="102.9" r="1.0"/><circle cx="265.9" cy="116.0" r="1.0"/><circle cx="225.2" cy="115.5" r="1.0"/><circle cx="270.3" cy="105.5" r="1.0"/><circle cx="271.6" cy="118.1" r="1.0"/><circle cx="238.2" cy="130.9" r="1.0"/><circle cx="244.0" cy="121.9" r="1.0"/><circle cx="212.9" cy="142.2" r="1.0"/><circle cx="231.4" cy="107.9" r="1.0"/><circle cx="233.9" cy="107.5" r="1.0"/><circle cx="265.0" cy="109.9" r="1.0"/><circle cx="260.6" cy="139.6" r="1.0"/><circle cx="310.3" cy="84.9" r="1.0"/><circle cx="245.7" cy="93.6" r="1.0"/><circle cx="278.8" cy="114.9" r="1.0"/><circle cx="255.9" cy="106.1" r="1.0"/><circle cx="260.0" cy="99.7" r="1.0"/><circle cx="229.4" cy="119.8" r="1.0"/><circle cx="213.3" cy="139.5" r="1.0"/><circle cx="237.8" cy="120.0" r="1.0"/><circle cx="270.5" cy="114.8" r="1.0"/><circle cx="288.0" cy="94.8" r="1.0"/><circle cx="267.1" cy="129.2" r="1.0"/><circle cx="264.8" cy="102.7" r="1.0"/><circle cx="236.2" cy="117.2" r="1.0"/><circle cx="287.0" cy="120.6" r="1.0"/><circle cx="282.9" cy="115.2" r="1.0"/><circle cx="242.8" cy="109.5" r="1.0"/><circle cx="253.2" cy="97.3" r="1.0"/><circle cx="232.9" cy="108.9" r="1.0"/><circle cx="285.6" cy="67.2" r="1.0"/><circle cx="262.9" cy="107.3" r="1.0"/><circle cx="252.1" cy="127.5" r="1.0"/><circle cx="262.9" cy="109.2" r="1.0"/><circle cx="263.6" cy="118.1" r="1.0"/><circle cx="227.6" cy="108.2" r="1.0"/><circle cx="226.7" cy="133.1" r="1.0"/><circle cx="217.0" cy="135.6" r="1.0"/><circle cx="264.0" cy="87.4" r="1.0"/><circle cx="301.6" cy="105.0" r="1.0"/><circle cx="217.8" cy="134.4" r="1.0"/><circle cx="257.1" cy="101.3" r="1.0"/><circle cx="263.0" cy="87.3" r="1.0"/><circle cx="233.1" cy="141.9" r="1.0"/><circle cx="258.5" cy="124.3" r="1.0"/><circle cx="230.7" cy="127.6" r="1.0"/><circle cx="279.8" cy="94.7" r="1.0"/><circle cx="241.5" cy="113.5" r="1.0"/><circle cx="256.3" cy="98.0" r="1.0"/><circle cx="268.8" cy="125.5" r="1.0"/><circle cx="245.0" cy="116.8" r="1.0"/><circle cx="215.9" cy="107.0" r="1.0"/><circle cx="242.8" cy="138.4" r="1.0"/><circle cx="270.5" cy="94.1" r="1.0"/><circle cx="252.4" cy="123.2" r="1.0"/><circle cx="259.1" cy="107.5" r="1.0"/><circle cx="231.1" cy="132.7" r="1.0"/><circle cx="257.2" cy="103.8" r="1.0"/><circle cx="269.7" cy="98.0" r="1.0"/><circle cx="255.0" cy="114.1" r="1.0"/><circle cx="295.0" cy="79.3" r="1.0"/><circle cx="249.7" cy="126.1" r="1.0"/><circle cx="231.9" cy="107.7" r="1.0"/><circle cx="219.6" cy="137.5" r="1.0"/><circle cx="278.8" cy="92.8" r="1.0"/><circle cx="252.9" cy="102.6" r="1.0"/><circle cx="275.8" cy="114.2" r="1.0"/><circle cx="264.0" cy="90.0" r="1.0"/><circle cx="288.9" cy="101.7" r="1.0"/><circle cx="281.3" cy="120.4" r="1.0"/><circle cx="246.1" cy="118.9" r="1.0"/><circle cx="260.0" cy="99.4" r="1.0"/><circle cx="277.4" cy="104.3" r="1.0"/><circle cx="227.7" cy="109.6" r="1.0"/><circle cx="285.2" cy="85.0" r="1.0"/><circle cx="280.1" cy="93.8" r="1.0"/><circle cx="275.2" cy="98.8" r="1.0"/><circle cx="249.9" cy="111.0" r="1.0"/><circle cx="260.6" cy="104.3" r="1.0"/><circle cx="230.3" cy="102.1" r="1.0"/><circle cx="255.4" cy="119.0" r="1.0"/><circle cx="241.6" cy="118.5" r="1.0"/><circle cx="256.0" cy="101.8" r="1.0"/><circle cx="243.6" cy="127.5" r="1.0"/><circle cx="260.2" cy="98.0" r="1.0"/><circle cx="279.4" cy="103.6" r="1.0"/><circle cx="226.2" cy="115.1" r="1.0"/><circle cx="274.0" cy="113.1" r="1.0"/><circle cx="211.6" cy="128.3" r="1.0"/><circle cx="208.0" cy="112.2" r="1.0"/><circle cx="251.6" cy="126.1" r="1.0"/><circle cx="254.3" cy="99.6" r="1.0"/><circle cx="263.6" cy="95.3" r="1.0"/><circle cx="218.9" cy="122.2" r="1.0"/><circle cx="252.9" cy="136.2" r="1.0"/><circle cx="256.9" cy="124.6" r="1.0"/><circle cx="281.0" cy="98.6" r="1.0"/><circle cx="252.0" cy="99.8" r="1.0"/><circle cx="265.5" cy="125.4" r="1.0"/><circle cx="233.3" cy="114.3" r="1.0"/><circle cx="250.2" cy="110.4" r="1.0"/><circle cx="244.6" cy="133.5" r="1.0"/><circle cx="269.2" cy="105.0" r="1.0"/><circle cx="233.0" cy="128.1" r="1.0"/><circle cx="236.3" cy="136.1" r="1.0"/><circle cx="266.5" cy="86.3" r="1.0"/><circle cx="292.4" cy="109.0" r="1.0"/><circle cx="262.4" cy="126.9" r="1.0"/><circle cx="260.7" cy="127.3" r="1.0"/><circle cx="246.8" cy="90.9" r="1.0"/><circle cx="277.5" cy="92.6" r="1.0"/><circle cx="265.7" cy="101.7" r="1.0"/><circle cx="291.2" cy="110.3" r="1.0"/><circle cx="261.2" cy="105.1" r="1.0"/><circle cx="233.9" cy="117.7" r="1.0"/><circle cx="242.0" cy="107.0" r="1.0"/><circle cx="233.1" cy="136.7" r="1.0"/><circle cx="227.4" cy="111.8" r="1.0"/><circle cx="281.2" cy="91.4" r="1.0"/><circle cx="271.4" cy="117.5" r="1.0"/><circle cx="227.7" cy="132.1" r="1.0"/><circle cx="292.3" cy="101.3" r="1.0"/><circle cx="259.4" cy="126.9" r="1.0"/><circle cx="233.7" cy="122.2" r="1.0"/><circle cx="262.4" cy="113.1" r="1.0"/><circle cx="252.7" cy="95.8" r="1.0"/><circle cx="237.6" cy="129.8" r="1.0"/><circle cx="212.6" cy="129.5" r="1.0"/><circle cx="255.0" cy="95.8" r="1.0"/><circle cx="260.4" cy="131.2" r="1.0"/><circle cx="266.0" cy="114.0" r="1.0"/><circle cx="267.4" cy="100.8" r="1.0"/><circle cx="244.1" cy="115.6" r="1.0"/><circle cx="256.6" cy="103.6" r="1.0"/><circle cx="236.3" cy="126.7" r="1.0"/><circle cx="246.5" cy="141.5" r="1.0"/><circle cx="283.1" cy="106.6" r="1.0"/><circle cx="223.1" cy="130.3" r="1.0"/><circle cx="259.2" cy="109.8" r="1.0"/><circle cx="258.1" cy="90.4" r="1.0"/><circle cx="239.0" cy="110.5" r="1.0"/><circle cx="244.8" cy="110.2" r="1.0"/><circle cx="224.2" cy="113.9" r="1.0"/><circle cx="236.0" cy="120.9" r="1.0"/><circle cx="254.5" cy="93.4" r="1.0"/><circle cx="261.2" cy="101.6" r="1.0"/><circle cx="235.0" cy="117.6" r="1.0"/><circle cx="242.0" cy="120.4" r="1.0"/><circle cx="256.9" cy="117.4" r="1.0"/><circle cx="249.2" cy="124.3" r="1.0"/><circle cx="245.6" cy="132.1" r="1.0"/><circle cx="282.0" cy="118.0" r="1.0"/><circle cx="243.9" cy="100.9" r="1.0"/><circle cx="282.7" cy="108.2" r="1.0"/><circle cx="278.6" cy="104.7" r="1.0"/><circle cx="231.8" cy="110.4" r="1.0"/><circle cx="276.3" cy="106.9" r="1.0"/><circle cx="240.3" cy="128.7" r="1.0"/><circle cx="312.7" cy="103.7" r="1.0"/><circle cx="245.9" cy="120.4" r="1.0"/><circle cx="234.1" cy="106.1" r="1.0"/><circle cx="213.3" cy="131.9" r="1.0"/><circle cx="226.5" cy="128.2" r="1.0"/><circle cx="241.8" cy="109.8" r="1.0"/><circle cx="232.8" cy="118.8" r="1.0"/><circle cx="227.9" cy="120.0" r="1.0"/><circle cx="239.3" cy="114.3" r="1.0"/><circle cx="249.8" cy="92.8" r="1.0"/><circle cx="285.2" cy="106.5" r="1.0"/><circle cx="217.7" cy="129.7" r="1.0"/><circle cx="242.4" cy="94.0" r="1.0"/><circle cx="233.8" cy="130.0" r="1.0"/><circle cx="227.1" cy="110.4" r="1.0"/><circle cx="234.8" cy="124.5" r="1.0"/><circle cx="269.5" cy="107.6" r="1.0"/><circle cx="250.0" cy="112.6" r="1.0"/><circle cx="242.7" cy="130.2" r="1.0"/><circle cx="267.2" cy="102.0" r="1.0"/><circle cx="260.2" cy="125.3" r="1.0"/><circle cx="249.4" cy="103.6" r="1.0"/><circle cx="262.4" cy="95.7" r="1.0"/><circle cx="236.5" cy="126.6" r="1.0"/><circle cx="267.6" cy="94.6" r="1.0"/><circle cx="264.2" cy="106.9" r="1.0"/><circle cx="245.4" cy="92.6" r="1.0"/><circle cx="228.1" cy="120.4" r="1.0"/><circle cx="286.7" cy="124.0" r="1.0"/><circle cx="256.2" cy="134.1" r="1.0"/><circle cx="240.2" cy="122.5" r="1.0"/><circle cx="272.4" cy="101.8" r="1.0"/><circle cx="244.9" cy="129.1" r="1.0"/><circle cx="259.6" cy="117.7" r="1.0"/><circle cx="272.0" cy="134.0" r="1.0"/><circle cx="237.1" cy="113.1" r="1.0"/><circle cx="252.0" cy="103.4" r="1.0"/><circle cx="257.6" cy="120.8" r="1.0"/><circle cx="256.6" cy="105.5" r="1.0"/><circle cx="266.9" cy="117.3" r="1.0"/><circle cx="276.1" cy="101.0" r="1.0"/><circle cx="272.0" cy="112.4" r="1.0"/><circle cx="259.8" cy="121.6" r="1.0"/><circle cx="246.7" cy="109.3" r="1.0"/><circle cx="238.4" cy="95.3" r="1.0"/><circle cx="242.9" cy="135.9" r="1.0"/><circle cx="268.8" cy="132.5" r="1.0"/><circle cx="246.4" cy="111.9" r="1.0"/><circle cx="227.6" cy="134.1" r="1.0"/><circle cx="267.6" cy="101.0" r="1.0"/><circle cx="237.0" cy="135.6" r="1.0"/><circle cx="237.8" cy="99.8" r="1.0"/><circle cx="249.3" cy="98.6" r="1.0"/><circle cx="264.3" cy="122.5" r="1.0"/><circle cx="202.6" cy="104.9" r="1.0"/><circle cx="230.2" cy="125.8" r="1.0"/><circle cx="257.9" cy="111.5" r="1.0"/><circle cx="246.4" cy="123.3" r="1.0"/><circle cx="235.7" cy="115.3" r="1.0"/><circle cx="242.6" cy="111.6" r="1.0"/><circle cx="283.8" cy="104.8" r="1.0"/><circle cx="244.4" cy="112.1" r="1.0"/><circle cx="269.4" cy="106.2" r="1.0"/><circle cx="271.1" cy="101.3" r="1.0"/><circle cx="244.5" cy="132.0" r="1.0"/><circle cx="263.7" cy="114.9" r="1.0"/><circle cx="244.5" cy="130.1" r="1.0"/><circle cx="241.1" cy="117.6" r="1.0"/><circle cx="230.1" cy="121.3" r="1.0"/><circle cx="272.9" cy="109.1" r="1.0"/><circle cx="245.7" cy="123.9" r="1.0"/><circle cx="242.4" cy="94.0" r="1.0"/><circle cx="230.1" cy="132.4" r="1.0"/><circle cx="292.9" cy="93.9" r="1.0"/><circle cx="270.0" cy="113.2" r="1.0"/><circle cx="251.3" cy="95.5" r="1.0"/><circle cx="239.3" cy="102.6" r="1.0"/><circle cx="221.5" cy="117.9" r="1.0"/><circle cx="260.4" cy="102.3" r="1.0"/><circle cx="260.3" cy="121.1" r="1.0"/><circle cx="224.1" cy="135.0" r="1.0"/><circle cx="279.0" cy="95.2" r="1.0"/><circle cx="270.8" cy="107.1" r="1.0"/><circle cx="233.6" cy="138.4" r="1.0"/><circle cx="242.3" cy="118.6" r="1.0"/><circle cx="245.0" cy="131.7" r="1.0"/><circle cx="257.6" cy="129.3" r="1.0"/><circle cx="251.1" cy="114.5" r="1.0"/><circle cx="219.1" cy="123.2" r="1.0"/><circle cx="285.7" cy="106.5" r="1.0"/><circle cx="260.9" cy="116.7" r="1.0"/><circle cx="281.1" cy="117.0" r="1.0"/><circle cx="281.0" cy="106.7" r="1.0"/><circle cx="249.7" cy="115.8" r="1.0"/><circle cx="261.5" cy="116.3" r="1.0"/><circle cx="269.9" cy="78.7" r="1.0"/><circle cx="270.6" cy="111.0" r="1.0"/><circle cx="250.7" cy="112.5" r="1.0"/><circle cx="241.0" cy="126.6" r="1.0"/><circle cx="254.9" cy="114.7" r="1.0"/><circle cx="237.0" cy="117.6" r="1.0"/><circle cx="242.3" cy="109.6" r="1.0"/><circle cx="256.0" cy="99.2" r="1.0"/><circle cx="232.2" cy="113.1" r="1.0"/><circle cx="242.3" cy="113.5" r="1.0"/><circle cx="253.0" cy="125.8" r="1.0"/><circle cx="260.9" cy="132.4" r="1.0"/><circle cx="294.6" cy="113.6" r="1.0"/><circle cx="258.5" cy="102.8" r="1.0"/><circle cx="223.9" cy="114.4" r="1.0"/><circle cx="257.0" cy="111.8" r="1.0"/><circle cx="241.4" cy="107.9" r="1.0"/><circle cx="262.7" cy="121.3" r="1.0"/><circle cx="239.5" cy="130.8" r="1.0"/><circle cx="239.0" cy="102.0" r="1.0"/><circle cx="243.2" cy="102.5" r="1.0"/><circle cx="240.8" cy="107.2" r="1.0"/><circle cx="215.1" cy="111.5" r="1.0"/><circle cx="239.9" cy="117.5" r="1.0"/><circle cx="253.9" cy="140.8" r="1.0"/><circle cx="279.9" cy="107.4" r="1.0"/><circle cx="247.9" cy="100.9" r="1.0"/><circle cx="246.2" cy="118.0" r="1.0"/><circle cx="266.6" cy="99.9" r="1.0"/><circle cx="265.7" cy="101.1" r="1.0"/><circle cx="288.4" cy="112.5" r="1.0"/><circle cx="266.7" cy="102.0" r="1.0"/><circle cx="253.8" cy="111.4" r="1.0"/><circle cx="282.8" cy="120.9" r="1.0"/><circle cx="286.9" cy="88.7" r="1.0"/><circle cx="244.0" cy="128.8" r="1.0"/><circle cx="257.6" cy="105.6" r="1.0"/><circle cx="218.2" cy="117.7" r="1.0"/><circle cx="246.4" cy="124.2" r="1.0"/><circle cx="235.3" cy="129.8" r="1.0"/><circle cx="249.6" cy="108.4" r="1.0"/><circle cx="243.9" cy="112.8" r="1.0"/><circle cx="250.6" cy="98.6" r="1.0"/><circle cx="252.0" cy="110.9" r="1.0"/><circle cx="264.7" cy="102.6" r="1.0"/><circle cx="259.1" cy="108.6" r="1.0"/><circle cx="242.2" cy="104.6" r="1.0"/><circle cx="226.6" cy="133.4" r="1.0"/><circle cx="280.6" cy="126.9" r="1.0"/><circle cx="284.5" cy="96.5" r="1.0"/><circle cx="244.5" cy="117.9" r="1.0"/><circle cx="266.2" cy="116.2" r="1.0"/><circle cx="221.5" cy="102.3" r="1.0"/><circle cx="220.8" cy="140.4" r="1.0"/><circle cx="248.4" cy="117.7" r="1.0"/><circle cx="285.7" cy="91.1" r="1.0"/><circle cx="231.8" cy="121.9" r="1.0"/><circle cx="236.3" cy="123.3" r="1.0"/><circle cx="288.6" cy="97.4" r="1.0"/><circle cx="213.7" cy="129.9" r="1.0"/><circle cx="268.0" cy="128.8" r="1.0"/><circle cx="264.6" cy="125.2" r="1.0"/><circle cx="249.8" cy="105.5" r="1.0"/><circle cx="258.2" cy="102.9" r="1.0"/><circle cx="310.2" cy="108.8" r="1.0"/><circle cx="230.1" cy="116.9" r="1.0"/><circle cx="247.5" cy="106.7" r="1.0"/><circle cx="249.1" cy="105.8" r="1.0"/><circle cx="239.4" cy="99.4" r="1.0"/><circle cx="225.5" cy="109.6" r="1.0"/><circle cx="288.3" cy="102.1" r="1.0"/><circle cx="258.9" cy="113.8" r="1.0"/><circle cx="216.6" cy="116.1" r="1.0"/><circle cx="239.1" cy="131.1" r="1.0"/><circle cx="262.8" cy="129.4" r="1.0"/><circle cx="262.8" cy="99.6" r="1.0"/><circle cx="223.4" cy="108.4" r="1.0"/><circle cx="252.2" cy="105.5" r="1.0"/><circle cx="259.8" cy="106.6" r="1.0"/><circle cx="262.6" cy="128.8" r="1.0"/><circle cx="262.6" cy="126.8" r="1.0"/><circle cx="215.2" cy="132.3" r="1.0"/><circle cx="293.7" cy="79.3" r="1.0"/><circle cx="258.7" cy="114.3" r="1.0"/><circle cx="292.8" cy="97.7" r="1.0"/><circle cx="315.4" cy="102.2" r="1.0"/><circle cx="250.7" cy="97.0" r="1.0"/><circle cx="272.7" cy="86.2" r="1.0"/><circle cx="250.3" cy="113.3" r="1.0"/><circle cx="232.1" cy="118.2" r="1.0"/><circle cx="290.3" cy="93.4" r="1.0"/><circle cx="244.7" cy="108.1" r="1.0"/><circle cx="224.2" cy="116.0" r="1.0"/><circle cx="244.6" cy="118.8" r="1.0"/><circle cx="229.4" cy="123.5" r="1.0"/><circle cx="257.6" cy="109.6" r="1.0"/><circle cx="245.2" cy="122.4" r="1.0"/><circle cx="231.6" cy="98.4" r="1.0"/><circle cx="267.0" cy="122.4" r="1.0"/><circle cx="240.4" cy="114.8" r="1.0"/><circle cx="269.7" cy="110.6" r="1.0"/><circle cx="281.1" cy="121.1" r="1.0"/><circle cx="246.4" cy="97.2" r="1.0"/><circle cx="240.3" cy="113.2" r="1.0"/><circle cx="258.4" cy="119.1" r="1.0"/><circle cx="273.2" cy="116.5" r="1.0"/><circle cx="254.1" cy="115.3" r="1.0"/><circle cx="257.2" cy="91.9" r="1.0"/><circle cx="253.6" cy="109.5" r="1.0"/><circle cx="260.8" cy="121.1" r="1.0"/><circle cx="267.6" cy="106.0" r="1.0"/><circle cx="239.1" cy="125.5" r="1.0"/><circle cx="243.9" cy="108.9" r="1.0"/><circle cx="255.1" cy="106.3" r="1.0"/><circle cx="239.9" cy="107.3" r="1.0"/><circle cx="257.1" cy="107.0" r="1.0"/><circle cx="265.6" cy="106.9" r="1.0"/><circle cx="253.7" cy="127.7" r="1.0"/><circle cx="241.3" cy="113.0" r="1.0"/><circle cx="237.6" cy="103.5" r="1.0"/><circle cx="291.6" cy="117.3" r="1.0"/><circle cx="273.0" cy="94.5" r="1.0"/><circle cx="230.2" cy="126.8" r="1.0"/><circle cx="236.2" cy="125.2" r="1.0"/><circle cx="294.3" cy="106.3" r="1.0"/><circle cx="286.5" cy="92.7" r="1.0"/><circle cx="256.9" cy="110.3" r="1.0"/><circle cx="278.9" cy="101.4" r="1.0"/><circle cx="222.4" cy="134.1" r="1.0"/><circle cx="254.2" cy="92.4" r="1.0"/><circle cx="270.0" cy="118.2" r="1.0"/><circle cx="214.4" cy="108.5" r="1.0"/><circle cx="237.4" cy="101.8" r="1.0"/><circle cx="270.9" cy="97.3" r="1.0"/><circle cx="278.4" cy="119.0" r="1.0"/><circle cx="241.5" cy="114.9" r="1.0"/><circle cx="260.4" cy="118.7" r="1.0"/><circle cx="288.4" cy="81.5" r="1.0"/><circle cx="246.0" cy="110.8" r="1.0"/><circle cx="225.7" cy="115.3" r="1.0"/><circle cx="252.9" cy="109.1" r="1.0"/><circle cx="245.8" cy="110.9" r="1.0"/><circle cx="282.0" cy="89.7" r="1.0"/><circle cx="257.6" cy="84.2" r="1.0"/><circle cx="237.0" cy="107.5" r="1.0"/><circle cx="305.5" cy="79.6" r="1.0"/><circle cx="243.5" cy="106.4" r="1.0"/><circle cx="264.3" cy="102.6" r="1.0"/><circle cx="268.6" cy="120.7" r="1.0"/><circle cx="270.9" cy="110.5" r="1.0"/><circle cx="257.9" cy="117.3" r="1.0"/><circle cx="266.7" cy="99.9" r="1.0"/><circle cx="249.5" cy="118.6" r="1.0"/><circle cx="249.9" cy="107.5" r="1.0"/><circle cx="250.4" cy="116.6" r="1.0"/><circle cx="257.1" cy="111.2" r="1.0"/><circle cx="240.8" cy="106.4" r="1.0"/><circle cx="282.5" cy="84.4" r="1.0"/><circle cx="287.7" cy="79.7" r="1.0"/><circle cx="207.1" cy="118.8" r="1.0"/><circle cx="254.4" cy="97.4" r="1.0"/><circle cx="239.0" cy="119.9" r="1.0"/><circle cx="262.9" cy="100.1" r="1.0"/><circle cx="240.9" cy="95.5" r="1.0"/><circle cx="246.1" cy="106.2" r="1.0"/><circle cx="240.2" cy="137.8" r="1.0"/><circle cx="277.4" cy="89.7" r="1.0"/><circle cx="280.7" cy="78.3" r="1.0"/><circle cx="260.1" cy="99.1" r="1.0"/><circle cx="269.0" cy="108.3" r="1.0"/><circle cx="251.8" cy="120.9" r="1.0"/><circle cx="257.2" cy="122.4" r="1.0"/><circle cx="238.3" cy="97.0" r="1.0"/><circle cx="254.9" cy="112.9" r="1.0"/><circle cx="238.9" cy="117.4" r="1.0"/><circle cx="262.2" cy="109.3" r="1.0"/><circle cx="271.9" cy="105.6" r="1.0"/><circle cx="260.8" cy="103.0" r="1.0"/><circle cx="279.5" cy="106.2" r="1.0"/><circle cx="311.7" cy="86.9" r="1.0"/><circle cx="209.1" cy="130.5" r="1.0"/><circle cx="254.5" cy="118.8" r="1.0"/><circle cx="242.0" cy="134.8" r="1.0"/><circle cx="244.4" cy="111.2" r="1.0"/><circle cx="225.1" cy="103.2" r="1.0"/><circle cx="255.3" cy="101.8" r="1.0"/><circle cx="248.7" cy="98.1" r="1.0"/><circle cx="240.6" cy="118.5" r="1.0"/><circle cx="248.7" cy="120.5" r="1.0"/><circle cx="241.5" cy="123.0" r="1.0"/><circle cx="204.1" cy="139.2" r="1.0"/><circle cx="277.2" cy="92.5" r="1.0"/><circle cx="247.7" cy="96.6" r="1.0"/><circle cx="233.9" cy="124.6" r="1.0"/><circle cx="260.7" cy="102.3" r="1.0"/><circle cx="240.0" cy="131.2" r="1.0"/><circle cx="207.7" cy="120.8" r="1.0"/><circle cx="273.1" cy="94.1" r="1.0"/><circle cx="218.3" cy="131.3" r="1.0"/><circle cx="249.5" cy="96.2" r="1.0"/><circle cx="256.7" cy="114.3" r="1.0"/><circle cx="283.0" cy="97.3" r="1.0"/><circle cx="279.6" cy="81.6" r="1.0"/><circle cx="257.7" cy="127.5" r="1.0"/><circle cx="237.8" cy="109.4" r="1.0"/><circle cx="245.3" cy="115.9" r="1.0"/><circle cx="277.4" cy="84.5" r="1.0"/><circle cx="292.4" cy="98.1" r="1.0"/><circle cx="265.8" cy="108.3" r="1.0"/><circle cx="240.4" cy="108.4" r="1.0"/><circle cx="276.2" cy="81.6" r="1.0"/><circle cx="246.1" cy="119.8" r="1.0"/><circle cx="245.5" cy="124.3" r="1.0"/><circle cx="248.2" cy="121.5" r="1.0"/><circle cx="266.8" cy="94.5" r="1.0"/><circle cx="260.1" cy="130.1" r="1.0"/><circle cx="275.4" cy="117.5" r="1.0"/><circle cx="281.9" cy="109.3" r="1.0"/><circle cx="265.2" cy="118.1" r="1.0"/><circle cx="204.3" cy="128.8" r="1.0"/><circle cx="217.9" cy="131.1" r="1.0"/><circle cx="257.6" cy="134.2" r="1.0"/><circle cx="252.8" cy="83.7" r="1.0"/><circle cx="300.4" cy="83.4" r="1.0"/><circle cx="253.5" cy="113.2" r="1.0"/><circle cx="250.9" cy="118.8" r="1.0"/><circle cx="274.4" cy="112.9" r="1.0"/><circle cx="276.9" cy="126.1" r="1.0"/><circle cx="249.1" cy="126.3" r="1.0"/><circle cx="264.3" cy="105.5" r="1.0"/><circle cx="229.9" cy="115.5" r="1.0"/><circle cx="234.0" cy="100.3" r="1.0"/><circle cx="280.5" cy="102.7" r="1.0"/><circle cx="224.1" cy="128.3" r="1.0"/><circle cx="273.9" cy="93.4" r="1.0"/><circle cx="268.7" cy="99.1" r="1.0"/><circle cx="270.6" cy="121.4" r="1.0"/><circle cx="273.7" cy="113.5" r="1.0"/><circle cx="266.2" cy="96.4" r="1.0"/><circle cx="208.4" cy="135.1" r="1.0"/><circle cx="232.7" cy="116.9" r="1.0"/><circle cx="241.3" cy="127.4" r="1.0"/><circle cx="273.7" cy="92.1" r="1.0"/><circle cx="230.1" cy="93.6" r="1.0"/><circle cx="239.1" cy="141.0" r="1.0"/><circle cx="246.4" cy="126.4" r="1.0"/><circle cx="282.3" cy="93.5" r="1.0"/><circle cx="223.4" cy="117.5" r="1.0"/><circle cx="225.2" cy="121.2" r="1.0"/><circle cx="267.6" cy="122.7" r="1.0"/><circle cx="261.3" cy="113.7" r="1.0"/><circle cx="244.5" cy="102.2" r="1.0"/><circle cx="220.4" cy="109.7" r="1.0"/><circle cx="245.2" cy="84.6" r="1.0"/><circle cx="232.7" cy="139.1" r="1.0"/><circle cx="257.8" cy="107.1" r="1.0"/><circle cx="262.0" cy="104.9" r="1.0"/><circle cx="286.0" cy="76.8" r="1.0"/><circle cx="253.9" cy="119.1" r="1.0"/><circle cx="256.3" cy="92.9" r="1.0"/><circle cx="241.8" cy="134.0" r="1.0"/><circle cx="253.7" cy="97.5" r="1.0"/><circle cx="276.6" cy="114.9" r="1.0"/><circle cx="213.0" cy="136.8" r="1.0"/><circle cx="268.3" cy="101.8" r="1.0"/><circle cx="242.7" cy="120.3" r="1.0"/><circle cx="255.8" cy="107.3" r="1.0"/><circle cx="261.1" cy="110.5" r="1.0"/><circle cx="272.4" cy="115.4" r="1.0"/><circle cx="259.3" cy="99.7" r="1.0"/><circle cx="255.8" cy="52.0" r="1.0"/><circle cx="231.0" cy="65.2" r="1.0"/><circle cx="250.2" cy="64.0" r="1.0"/><circle cx="279.0" cy="65.2" r="1.0"/><circle cx="288.7" cy="58.5" r="1.0"/><circle cx="294.7" cy="60.4" r="1.0"/><circle cx="314.4" cy="70.0" r="1.0"/><circle cx="306.7" cy="74.8" r="1.0"/><circle cx="286.3" cy="71.2" r="1.0"/><circle cx="315.8" cy="100.0" r="1.0"/><circle cx="202.2" cy="128.9" r="1.0"/><circle cx="207.0" cy="138.5" r="1.0"/><circle cx="219.0" cy="140.9" r="1.0"/></g>
<line x1="197.50" y1="48.60" x2="197.50" y2="147.00" stroke="#808080" stroke-width="1.1"/>
<line x1="197.00" y1="146.50" x2="330.50" y2="146.50" stroke="#808080" stroke-width="1.1"/>
<line x1="202.80" y1="126.30" x2="324.00" y2="91.20" stroke="#111" stroke-width="1.1"/>
<text x="230.60" y="151.60" font-size="4.8" text-anchor="middle" fill="#999" stroke="#999" stroke-width="0.18">2.5</text>
<text x="267.60" y="151.60" font-size="4.8" text-anchor="middle" fill="#999" stroke="#999" stroke-width="0.18">5.0</text>
<text x="304.30" y="151.60" font-size="4.8" text-anchor="middle" fill="#999" stroke="#999" stroke-width="0.18">7.5</text>
<text x="194.80" y="120.73" font-size="4.8" text-anchor="end" fill="#999" stroke="#999" stroke-width="0.18">2</text>
<text x="194.80" y="89.33" font-size="4.8" text-anchor="end" fill="#999" stroke="#999" stroke-width="0.18">4</text>
<text x="194.80" y="57.63" font-size="4.8" text-anchor="end" fill="#999" stroke="#999" stroke-width="0.18">6</text>
<text x="266.60" y="159.75" font-size="6.7" text-anchor="middle" fill="#1a1a1a" stroke="#1a1a1a" stroke-width="0.18"><tspan font-style="italic">PTGS2</tspan> Expression</text>
<text x="186.20" y="94.50" font-size="6.7" text-anchor="middle" fill="#1a1a1a" stroke="#1a1a1a" stroke-width="0.18" transform="rotate(-90 186.20 94.50)"><tspan font-style="italic">CD274</tspan> Expression</text>
<text x="0.00" y="0.00" font-size="5.75" fill="#1a1a1a" stroke="#1a1a1a" stroke-width="0.18" transform="translate(296.00 44.35) scale(1 1.1)">R = 0.461</text>
<text x="0.00" y="0.00" font-size="5.75" fill="#1a1a1a" stroke="#1a1a1a" stroke-width="0.18" transform="translate(296.00 51.35) scale(1 1.1)">p = 1.08e−41</text>
<g fill="#2e9e34" fill-opacity="0.8"><circle cx="395.4" cy="140.0" r="1.0"/><circle cx="457.9" cy="140.0" r="1.0"/><circle cx="406.1" cy="107.2" r="1.0"/><circle cx="431.3" cy="127.3" r="1.0"/><circle cx="428.8" cy="140.0" r="1.0"/><circle cx="428.5" cy="123.5" r="1.0"/><circle cx="406.7" cy="122.4" r="1.0"/><circle cx="427.2" cy="140.0" r="1.0"/><circle cx="421.8" cy="135.1" r="1.0"/><circle cx="423.2" cy="140.0" r="1.0"/><circle cx="410.2" cy="130.6" r="1.0"/><circle cx="410.9" cy="131.5" r="1.0"/><circle cx="428.0" cy="129.7" r="1.0"/><circle cx="432.9" cy="121.3" r="1.0"/><circle cx="442.4" cy="117.3" r="1.0"/><circle cx="416.0" cy="107.8" r="1.0"/><circle cx="443.5" cy="140.0" r="1.0"/><circle cx="431.7" cy="117.3" r="1.0"/><circle cx="424.1" cy="134.2" r="1.0"/><circle cx="432.1" cy="140.0" r="1.0"/><circle cx="425.0" cy="140.0" r="1.0"/><circle cx="432.6" cy="129.8" r="1.0"/><circle cx="417.2" cy="140.0" r="1.0"/><circle cx="411.4" cy="140.0" r="1.0"/><circle cx="415.9" cy="122.1" r="1.0"/><circle cx="408.4" cy="126.3" r="1.0"/><circle cx="423.0" cy="131.4" r="1.0"/><circle cx="413.4" cy="127.5" r="1.0"/><circle cx="443.6" cy="140.0" r="1.0"/><circle cx="440.2" cy="115.4" r="1.0"/><circle cx="413.4" cy="127.0" r="1.0"/><circle cx="406.2" cy="140.0" r="1.0"/><circle cx="423.8" cy="107.4" r="1.0"/><circle cx="418.3" cy="130.8" r="1.0"/><circle cx="449.2" cy="140.0" r="1.0"/><circle cx="419.0" cy="137.5" r="1.0"/><circle cx="422.1" cy="140.0" r="1.0"/><circle cx="447.4" cy="127.9" r="1.0"/><circle cx="422.3" cy="116.9" r="1.0"/><circle cx="469.0" cy="140.0" r="1.0"/><circle cx="437.7" cy="138.6" r="1.0"/><circle cx="430.6" cy="132.5" r="1.0"/><circle cx="410.3" cy="128.0" r="1.0"/><circle cx="432.9" cy="127.7" r="1.0"/><circle cx="416.5" cy="129.9" r="1.0"/><circle cx="424.5" cy="103.4" r="1.0"/><circle cx="431.2" cy="137.3" r="1.0"/><circle cx="423.6" cy="140.0" r="1.0"/><circle cx="418.4" cy="123.3" r="1.0"/><circle cx="400.2" cy="132.6" r="1.0"/><circle cx="452.4" cy="140.0" r="1.0"/><circle cx="425.8" cy="140.0" r="1.0"/><circle cx="418.0" cy="124.7" r="1.0"/><circle cx="437.4" cy="140.0" r="1.0"/><circle cx="410.0" cy="119.1" r="1.0"/><circle cx="395.7" cy="134.2" r="1.0"/><circle cx="418.4" cy="133.5" r="1.0"/><circle cx="439.1" cy="140.0" r="1.0"/><circle cx="422.0" cy="140.0" r="1.0"/><circle cx="432.3" cy="129.5" r="1.0"/><circle cx="413.1" cy="112.7" r="1.0"/><circle cx="404.7" cy="131.7" r="1.0"/><circle cx="437.8" cy="138.8" r="1.0"/><circle cx="445.5" cy="140.0" r="1.0"/><circle cx="435.8" cy="132.0" r="1.0"/><circle cx="424.2" cy="140.0" r="1.0"/><circle cx="436.6" cy="129.3" r="1.0"/><circle cx="413.6" cy="136.4" r="1.0"/><circle cx="396.3" cy="121.8" r="1.0"/><circle cx="412.7" cy="130.4" r="1.0"/><circle cx="421.9" cy="123.4" r="1.0"/><circle cx="405.7" cy="140.0" r="1.0"/><circle cx="427.0" cy="127.5" r="1.0"/><circle cx="402.1" cy="140.0" r="1.0"/><circle cx="406.6" cy="140.0" r="1.0"/><circle cx="417.7" cy="140.0" r="1.0"/><circle cx="434.0" cy="136.4" r="1.0"/><circle cx="399.9" cy="140.0" r="1.0"/><circle cx="430.9" cy="140.0" r="1.0"/><circle cx="427.0" cy="127.9" r="1.0"/><circle cx="433.7" cy="123.2" r="1.0"/><circle cx="418.3" cy="132.7" r="1.0"/><circle cx="418.4" cy="132.9" r="1.0"/><circle cx="452.1" cy="140.0" r="1.0"/><circle cx="424.8" cy="129.8" r="1.0"/><circle cx="395.6" cy="132.0" r="1.0"/><circle cx="396.8" cy="140.0" r="1.0"/><circle cx="415.3" cy="136.8" r="1.0"/><circle cx="419.1" cy="121.8" r="1.0"/><circle cx="410.8" cy="132.8" r="1.0"/><circle cx="434.6" cy="117.1" r="1.0"/><circle cx="430.8" cy="130.5" r="1.0"/><circle cx="421.4" cy="133.3" r="1.0"/><circle cx="462.7" cy="137.2" r="1.0"/><circle cx="408.1" cy="140.0" r="1.0"/><circle cx="438.7" cy="130.3" r="1.0"/><circle cx="394.4" cy="140.0" r="1.0"/><circle cx="429.2" cy="137.3" r="1.0"/><circle cx="435.5" cy="115.2" r="1.0"/><circle cx="410.9" cy="107.8" r="1.0"/><circle cx="399.9" cy="131.1" r="1.0"/><circle cx="397.2" cy="123.8" r="1.0"/><circle cx="424.9" cy="140.0" r="1.0"/><circle cx="417.1" cy="129.6" r="1.0"/><circle cx="411.8" cy="136.1" r="1.0"/><circle cx="422.2" cy="126.7" r="1.0"/><circle cx="442.9" cy="130.1" r="1.0"/><circle cx="432.1" cy="123.6" r="1.0"/><circle cx="391.1" cy="124.2" r="1.0"/><circle cx="412.1" cy="115.5" r="1.0"/><circle cx="423.6" cy="125.1" r="1.0"/><circle cx="413.2" cy="140.0" r="1.0"/><circle cx="411.6" cy="126.4" r="1.0"/><circle cx="435.8" cy="137.1" r="1.0"/><circle cx="420.3" cy="137.5" r="1.0"/><circle cx="412.5" cy="125.8" r="1.0"/><circle cx="401.4" cy="130.1" r="1.0"/><circle cx="434.4" cy="131.9" r="1.0"/><circle cx="455.4" cy="122.8" r="1.0"/><circle cx="409.3" cy="133.1" r="1.0"/><circle cx="436.1" cy="140.0" r="1.0"/><circle cx="421.5" cy="117.8" r="1.0"/><circle cx="405.3" cy="114.9" r="1.0"/><circle cx="459.0" cy="140.0" r="1.0"/><circle cx="425.6" cy="132.8" r="1.0"/><circle cx="387.4" cy="140.0" r="1.0"/><circle cx="410.5" cy="136.2" r="1.0"/><circle cx="424.2" cy="129.6" r="1.0"/><circle cx="434.1" cy="140.0" r="1.0"/><circle cx="457.0" cy="105.7" r="1.0"/><circle cx="419.1" cy="104.8" r="1.0"/><circle cx="410.3" cy="126.9" r="1.0"/><circle cx="427.0" cy="140.0" r="1.0"/><circle cx="445.6" cy="140.0" r="1.0"/><circle cx="432.4" cy="136.6" r="1.0"/><circle cx="434.8" cy="114.1" r="1.0"/><circle cx="422.7" cy="138.2" r="1.0"/><circle cx="458.6" cy="140.0" r="1.0"/><circle cx="414.2" cy="127.9" r="1.0"/><circle cx="397.2" cy="140.0" r="1.0"/><circle cx="417.7" cy="140.0" r="1.0"/><circle cx="428.6" cy="140.0" r="1.0"/><circle cx="444.1" cy="140.0" r="1.0"/><circle cx="437.6" cy="129.9" r="1.0"/><circle cx="413.1" cy="133.6" r="1.0"/><circle cx="436.5" cy="140.0" r="1.0"/><circle cx="401.7" cy="125.9" r="1.0"/><circle cx="420.0" cy="133.3" r="1.0"/><circle cx="416.7" cy="117.5" r="1.0"/><circle cx="402.4" cy="125.9" r="1.0"/><circle cx="422.3" cy="140.0" r="1.0"/><circle cx="408.5" cy="130.6" r="1.0"/><circle cx="412.4" cy="140.0" r="1.0"/><circle cx="425.0" cy="123.7" r="1.0"/><circle cx="407.5" cy="140.0" r="1.0"/><circle cx="387.2" cy="125.2" r="1.0"/><circle cx="410.7" cy="123.6" r="1.0"/><circle cx="458.7" cy="140.0" r="1.0"/><circle cx="437.6" cy="140.0" r="1.0"/><circle cx="430.1" cy="130.9" r="1.0"/><circle cx="435.4" cy="137.4" r="1.0"/><circle cx="409.5" cy="140.0" r="1.0"/><circle cx="437.4" cy="126.2" r="1.0"/><circle cx="434.8" cy="112.9" r="1.0"/><circle cx="421.5" cy="140.0" r="1.0"/><circle cx="433.1" cy="133.0" r="1.0"/><circle cx="413.2" cy="140.0" r="1.0"/><circle cx="423.4" cy="134.2" r="1.0"/><circle cx="405.8" cy="119.9" r="1.0"/><circle cx="411.4" cy="116.3" r="1.0"/><circle cx="422.5" cy="112.5" r="1.0"/><circle cx="440.2" cy="127.3" r="1.0"/><circle cx="427.5" cy="140.0" r="1.0"/><circle cx="429.7" cy="127.9" r="1.0"/><circle cx="439.6" cy="115.9" r="1.0"/><circle cx="430.6" cy="131.3" r="1.0"/><circle cx="434.9" cy="140.0" r="1.0"/><circle cx="434.6" cy="129.4" r="1.0"/><circle cx="425.2" cy="135.5" r="1.0"/><circle cx="419.0" cy="125.9" r="1.0"/><circle cx="444.9" cy="130.7" r="1.0"/><circle cx="420.9" cy="128.3" r="1.0"/><circle cx="411.7" cy="118.7" r="1.0"/><circle cx="399.1" cy="131.8" r="1.0"/><circle cx="433.3" cy="117.5" r="1.0"/><circle cx="420.4" cy="140.0" r="1.0"/><circle cx="403.7" cy="103.5" r="1.0"/><circle cx="403.5" cy="132.5" r="1.0"/><circle cx="434.0" cy="116.7" r="1.0"/><circle cx="395.1" cy="109.0" r="1.0"/><circle cx="425.7" cy="140.0" r="1.0"/><circle cx="407.1" cy="133.9" r="1.0"/><circle cx="416.5" cy="133.4" r="1.0"/><circle cx="436.4" cy="116.8" r="1.0"/><circle cx="446.6" cy="117.3" r="1.0"/><circle cx="396.4" cy="106.7" r="1.0"/><circle cx="405.4" cy="137.5" r="1.0"/><circle cx="456.7" cy="130.8" r="1.0"/><circle cx="406.1" cy="140.0" r="1.0"/><circle cx="449.7" cy="123.4" r="1.0"/><circle cx="448.1" cy="130.6" r="1.0"/><circle cx="422.2" cy="135.5" r="1.0"/><circle cx="408.8" cy="140.0" r="1.0"/><circle cx="392.3" cy="140.0" r="1.0"/><circle cx="427.3" cy="116.1" r="1.0"/><circle cx="443.4" cy="137.6" r="1.0"/><circle cx="453.1" cy="140.0" r="1.0"/><circle cx="456.4" cy="136.3" r="1.0"/><circle cx="398.0" cy="123.7" r="1.0"/><circle cx="453.2" cy="140.0" r="1.0"/><circle cx="414.0" cy="135.1" r="1.0"/><circle cx="404.6" cy="133.5" r="1.0"/><circle cx="422.6" cy="113.0" r="1.0"/><circle cx="439.5" cy="140.0" r="1.0"/><circle cx="423.2" cy="128.8" r="1.0"/><circle cx="427.3" cy="123.6" r="1.0"/><circle cx="413.2" cy="136.1" r="1.0"/><circle cx="390.8" cy="140.0" r="1.0"/><circle cx="415.5" cy="131.7" r="1.0"/><circle cx="399.8" cy="140.0" r="1.0"/><circle cx="424.8" cy="124.6" r="1.0"/><circle cx="415.2" cy="140.0" r="1.0"/><circle cx="414.0" cy="122.3" r="1.0"/><circle cx="411.5" cy="125.4" r="1.0"/><circle cx="437.8" cy="125.1" r="1.0"/><circle cx="408.7" cy="140.0" r="1.0"/><circle cx="395.3" cy="136.3" r="1.0"/><circle cx="418.4" cy="131.8" r="1.0"/><circle cx="396.3" cy="140.0" r="1.0"/><circle cx="427.2" cy="127.2" r="1.0"/><circle cx="433.0" cy="138.1" r="1.0"/><circle cx="431.8" cy="118.7" r="1.0"/><circle cx="427.8" cy="112.3" r="1.0"/><circle cx="440.5" cy="127.9" r="1.0"/><circle cx="415.8" cy="107.0" r="1.0"/><circle cx="428.6" cy="131.4" r="1.0"/><circle cx="423.6" cy="137.1" r="1.0"/><circle cx="426.6" cy="136.1" r="1.0"/><circle cx="428.0" cy="128.2" r="1.0"/><circle cx="416.5" cy="110.3" r="1.0"/><circle cx="417.4" cy="132.3" r="1.0"/><circle cx="421.5" cy="136.5" r="1.0"/><circle cx="388.7" cy="121.5" r="1.0"/><circle cx="394.9" cy="140.0" r="1.0"/><circle cx="422.9" cy="140.0" r="1.0"/><circle cx="424.4" cy="140.0" r="1.0"/><circle cx="415.1" cy="132.9" r="1.0"/><circle cx="417.5" cy="131.6" r="1.0"/><circle cx="413.5" cy="140.0" r="1.0"/><circle cx="450.1" cy="140.0" r="1.0"/><circle cx="441.2" cy="140.0" r="1.0"/><circle cx="400.0" cy="117.9" r="1.0"/><circle cx="411.7" cy="133.1" r="1.0"/><circle cx="442.4" cy="125.0" r="1.0"/><circle cx="420.6" cy="140.0" r="1.0"/><circle cx="399.9" cy="129.1" r="1.0"/><circle cx="424.5" cy="124.3" r="1.0"/><circle cx="413.8" cy="119.3" r="1.0"/><circle cx="419.5" cy="136.1" r="1.0"/><circle cx="428.3" cy="135.4" r="1.0"/><circle cx="413.7" cy="135.7" r="1.0"/><circle cx="426.9" cy="127.4" r="1.0"/><circle cx="416.7" cy="137.7" r="1.0"/><circle cx="431.4" cy="140.0" r="1.0"/><circle cx="416.7" cy="133.7" r="1.0"/><circle cx="401.0" cy="130.5" r="1.0"/><circle cx="408.1" cy="133.4" r="1.0"/><circle cx="422.5" cy="140.0" r="1.0"/><circle cx="431.4" cy="136.7" r="1.0"/><circle cx="435.9" cy="140.0" r="1.0"/><circle cx="399.2" cy="140.0" r="1.0"/><circle cx="440.9" cy="140.0" r="1.0"/><circle cx="430.7" cy="127.4" r="1.0"/><circle cx="421.9" cy="128.2" r="1.0"/><circle cx="415.8" cy="126.5" r="1.0"/><circle cx="426.6" cy="125.6" r="1.0"/><circle cx="436.1" cy="124.3" r="1.0"/><circle cx="416.7" cy="111.8" r="1.0"/><circle cx="416.0" cy="140.0" r="1.0"/><circle cx="415.3" cy="140.0" r="1.0"/><circle cx="411.0" cy="136.4" r="1.0"/><circle cx="422.5" cy="126.9" r="1.0"/><circle cx="418.4" cy="111.6" r="1.0"/><circle cx="427.7" cy="134.9" r="1.0"/><circle cx="423.3" cy="131.8" r="1.0"/><circle cx="413.9" cy="134.8" r="1.0"/><circle cx="411.7" cy="120.5" r="1.0"/><circle cx="462.8" cy="140.0" r="1.0"/><circle cx="416.4" cy="140.0" r="1.0"/><circle cx="427.6" cy="129.1" r="1.0"/><circle cx="426.9" cy="140.0" r="1.0"/><circle cx="400.6" cy="136.0" r="1.0"/><circle cx="407.0" cy="132.6" r="1.0"/><circle cx="438.6" cy="140.0" r="1.0"/><circle cx="419.5" cy="140.0" r="1.0"/><circle cx="418.2" cy="135.6" r="1.0"/><circle cx="424.5" cy="140.0" r="1.0"/><circle cx="433.7" cy="122.9" r="1.0"/><circle cx="405.2" cy="119.1" r="1.0"/><circle cx="400.8" cy="130.4" r="1.0"/><circle cx="406.8" cy="140.0" r="1.0"/><circle cx="434.4" cy="123.1" r="1.0"/><circle cx="438.6" cy="140.0" r="1.0"/><circle cx="425.2" cy="127.5" r="1.0"/><circle cx="409.1" cy="136.9" r="1.0"/><circle cx="421.0" cy="128.9" r="1.0"/><circle cx="432.9" cy="140.0" r="1.0"/><circle cx="443.5" cy="134.4" r="1.0"/><circle cx="408.6" cy="127.2" r="1.0"/><circle cx="444.4" cy="134.5" r="1.0"/><circle cx="417.4" cy="123.1" r="1.0"/><circle cx="411.4" cy="140.0" r="1.0"/><circle cx="430.1" cy="127.2" r="1.0"/><circle cx="422.6" cy="132.6" r="1.0"/><circle cx="436.9" cy="140.0" r="1.0"/><circle cx="406.7" cy="126.3" r="1.0"/><circle cx="421.0" cy="133.8" r="1.0"/><circle cx="462.6" cy="140.0" r="1.0"/><circle cx="434.4" cy="140.0" r="1.0"/><circle cx="436.3" cy="118.1" r="1.0"/><circle cx="407.4" cy="140.0" r="1.0"/><circle cx="389.7" cy="140.0" r="1.0"/><circle cx="386.2" cy="140.0" r="1.0"/><circle cx="422.0" cy="140.0" r="1.0"/><circle cx="415.9" cy="117.2" r="1.0"/><circle cx="417.4" cy="116.4" r="1.0"/><circle cx="425.5" cy="122.9" r="1.0"/><circle cx="436.4" cy="136.9" r="1.0"/><circle cx="457.7" cy="140.0" r="1.0"/><circle cx="417.8" cy="140.0" r="1.0"/><circle cx="424.0" cy="140.0" r="1.0"/><circle cx="448.6" cy="140.0" r="1.0"/><circle cx="429.9" cy="134.6" r="1.0"/><circle cx="414.5" cy="128.1" r="1.0"/><circle cx="409.0" cy="140.0" r="1.0"/><circle cx="413.4" cy="127.2" r="1.0"/><circle cx="439.4" cy="112.0" r="1.0"/><circle cx="423.7" cy="118.4" r="1.0"/><circle cx="409.8" cy="140.0" r="1.0"/><circle cx="428.9" cy="140.0" r="1.0"/><circle cx="410.8" cy="132.9" r="1.0"/><circle cx="412.3" cy="121.0" r="1.0"/><circle cx="447.1" cy="127.9" r="1.0"/><circle cx="426.6" cy="123.2" r="1.0"/><circle cx="413.3" cy="127.5" r="1.0"/><circle cx="441.0" cy="140.0" r="1.0"/><circle cx="406.5" cy="121.0" r="1.0"/><circle cx="439.4" cy="129.3" r="1.0"/><circle cx="413.4" cy="125.3" r="1.0"/><circle cx="428.9" cy="135.2" r="1.0"/><circle cx="441.1" cy="140.0" r="1.0"/><circle cx="426.0" cy="127.6" r="1.0"/><circle cx="449.9" cy="140.0" r="1.0"/><circle cx="426.5" cy="120.5" r="1.0"/><circle cx="406.2" cy="128.2" r="1.0"/><circle cx="404.9" cy="121.2" r="1.0"/><circle cx="428.7" cy="126.2" r="1.0"/><circle cx="433.9" cy="140.0" r="1.0"/><circle cx="437.8" cy="140.0" r="1.0"/><circle cx="411.3" cy="140.0" r="1.0"/><circle cx="403.6" cy="130.0" r="1.0"/><circle cx="417.9" cy="140.0" r="1.0"/><circle cx="407.5" cy="140.0" r="1.0"/><circle cx="441.9" cy="140.0" r="1.0"/><circle cx="420.2" cy="122.8" r="1.0"/><circle cx="424.0" cy="140.0" r="1.0"/><circle cx="405.2" cy="140.0" r="1.0"/><circle cx="435.0" cy="127.2" r="1.0"/><circle cx="434.0" cy="135.5" r="1.0"/><circle cx="421.0" cy="127.0" r="1.0"/><circle cx="423.6" cy="140.0" r="1.0"/><circle cx="406.1" cy="137.0" r="1.0"/><circle cx="407.1" cy="135.6" r="1.0"/><circle cx="409.1" cy="134.1" r="1.0"/><circle cx="403.5" cy="130.9" r="1.0"/><circle cx="448.1" cy="105.0" r="1.0"/><circle cx="439.0" cy="133.6" r="1.0"/><circle cx="397.9" cy="132.0" r="1.0"/><circle cx="417.0" cy="140.0" r="1.0"/><circle cx="434.8" cy="140.0" r="1.0"/><circle cx="426.2" cy="136.6" r="1.0"/><circle cx="426.0" cy="106.7" r="1.0"/><circle cx="433.7" cy="116.7" r="1.0"/><circle cx="403.3" cy="114.7" r="1.0"/><circle cx="387.6" cy="140.0" r="1.0"/><circle cx="414.0" cy="130.3" r="1.0"/><circle cx="435.3" cy="140.0" r="1.0"/><circle cx="420.6" cy="118.6" r="1.0"/><circle cx="411.6" cy="140.0" r="1.0"/><circle cx="417.0" cy="120.6" r="1.0"/><circle cx="415.9" cy="140.0" r="1.0"/><circle cx="401.5" cy="140.0" r="1.0"/><circle cx="440.5" cy="108.7" r="1.0"/><circle cx="447.7" cy="138.3" r="1.0"/><circle cx="429.8" cy="109.9" r="1.0"/><circle cx="408.4" cy="138.3" r="1.0"/><circle cx="403.2" cy="131.9" r="1.0"/><circle cx="420.7" cy="140.0" r="1.0"/><circle cx="410.8" cy="140.0" r="1.0"/><circle cx="421.4" cy="127.1" r="1.0"/><circle cx="425.2" cy="104.7" r="1.0"/><circle cx="421.4" cy="116.2" r="1.0"/><circle cx="439.9" cy="124.8" r="1.0"/><circle cx="420.3" cy="139.1" r="1.0"/><circle cx="438.5" cy="132.6" r="1.0"/><circle cx="417.7" cy="140.0" r="1.0"/><circle cx="415.9" cy="132.6" r="1.0"/><circle cx="423.8" cy="140.0" r="1.0"/><circle cx="428.6" cy="140.0" r="1.0"/><circle cx="428.1" cy="140.0" r="1.0"/><circle cx="396.6" cy="140.0" r="1.0"/><circle cx="421.7" cy="124.0" r="1.0"/><circle cx="434.4" cy="127.3" r="1.0"/><circle cx="436.6" cy="129.9" r="1.0"/><circle cx="410.6" cy="117.9" r="1.0"/><circle cx="417.3" cy="140.0" r="1.0"/><circle cx="428.9" cy="140.0" r="1.0"/><circle cx="419.3" cy="122.5" r="1.0"/><circle cx="416.1" cy="124.7" r="1.0"/><circle cx="424.5" cy="134.7" r="1.0"/><circle cx="437.4" cy="140.0" r="1.0"/><circle cx="439.7" cy="133.1" r="1.0"/><circle cx="392.8" cy="125.9" r="1.0"/><circle cx="415.3" cy="126.0" r="1.0"/><circle cx="391.2" cy="108.7" r="1.0"/><circle cx="410.1" cy="120.4" r="1.0"/><circle cx="398.2" cy="133.6" r="1.0"/><circle cx="412.1" cy="134.0" r="1.0"/><circle cx="423.6" cy="123.7" r="1.0"/><circle cx="427.7" cy="121.3" r="1.0"/><circle cx="430.0" cy="140.0" r="1.0"/><circle cx="429.6" cy="113.1" r="1.0"/><circle cx="465.1" cy="140.0" r="1.0"/><circle cx="417.6" cy="115.2" r="1.0"/><circle cx="419.0" cy="130.7" r="1.0"/><circle cx="408.5" cy="129.9" r="1.0"/><circle cx="406.4" cy="120.5" r="1.0"/><circle cx="415.8" cy="140.0" r="1.0"/><circle cx="441.5" cy="125.9" r="1.0"/><circle cx="421.6" cy="126.3" r="1.0"/><circle cx="460.6" cy="140.0" r="1.0"/><circle cx="408.7" cy="125.4" r="1.0"/><circle cx="436.9" cy="140.0" r="1.0"/><circle cx="401.9" cy="140.0" r="1.0"/><circle cx="406.5" cy="131.6" r="1.0"/><circle cx="435.6" cy="140.0" r="1.0"/><circle cx="435.0" cy="140.0" r="1.0"/><circle cx="399.3" cy="127.3" r="1.0"/><circle cx="405.4" cy="108.9" r="1.0"/><circle cx="428.0" cy="113.6" r="1.0"/><circle cx="432.7" cy="140.0" r="1.0"/><circle cx="423.5" cy="140.0" r="1.0"/><circle cx="436.8" cy="135.6" r="1.0"/><circle cx="431.0" cy="116.8" r="1.0"/><circle cx="440.5" cy="140.0" r="1.0"/><circle cx="450.3" cy="140.0" r="1.0"/><circle cx="462.4" cy="140.0" r="1.0"/><circle cx="419.1" cy="135.0" r="1.0"/><circle cx="404.1" cy="140.0" r="1.0"/><circle cx="430.4" cy="122.5" r="1.0"/><circle cx="429.8" cy="135.1" r="1.0"/><circle cx="434.7" cy="125.2" r="1.0"/><circle cx="418.4" cy="132.6" r="1.0"/><circle cx="433.9" cy="140.0" r="1.0"/><circle cx="432.7" cy="127.0" r="1.0"/><circle cx="427.8" cy="140.0" r="1.0"/><circle cx="422.8" cy="119.9" r="1.0"/><circle cx="413.5" cy="112.2" r="1.0"/><circle cx="418.1" cy="130.5" r="1.0"/><circle cx="453.5" cy="132.9" r="1.0"/><circle cx="391.8" cy="50.3" r="1.0"/><circle cx="421.3" cy="47.7" r="1.0"/><circle cx="466.3" cy="53.7" r="1.0"/><circle cx="432.6" cy="64.0" r="1.0"/><circle cx="437.9" cy="62.8" r="1.0"/><circle cx="430.2" cy="68.3" r="1.0"/><circle cx="407.4" cy="74.3" r="1.0"/><circle cx="417.0" cy="72.0" r="1.0"/><circle cx="448.2" cy="77.2" r="1.0"/><circle cx="449.4" cy="77.9" r="1.0"/><circle cx="461.9" cy="76.0" r="1.0"/><circle cx="414.1" cy="82.5" r="1.0"/><circle cx="422.6" cy="83.2" r="1.0"/><circle cx="436.2" cy="80.3" r="1.0"/><circle cx="409.8" cy="88.0" r="1.0"/><circle cx="411.0" cy="87.5" r="1.0"/><circle cx="417.0" cy="89.7" r="1.0"/><circle cx="441.0" cy="92.1" r="1.0"/><circle cx="399.0" cy="99.6" r="1.0"/><circle cx="485.5" cy="99.6" r="1.0"/><circle cx="505.9" cy="109.6" r="1.0"/><circle cx="391.3" cy="110.1" r="1.0"/><circle cx="451.8" cy="95.7" r="1.0"/><circle cx="460.3" cy="100.0" r="1.0"/><circle cx="391.0" cy="111.0" r="1.0"/><circle cx="404.0" cy="100.5" r="1.0"/><circle cx="426.0" cy="98.0" r="1.0"/><circle cx="446.0" cy="101.0" r="1.0"/><circle cx="470.0" cy="108.0" r="1.0"/><circle cx="478.0" cy="112.0" r="1.0"/><circle cx="483.0" cy="119.0" r="1.0"/><circle cx="478.0" cy="139.9" r="1.0"/><circle cx="486.5" cy="139.9" r="1.0"/><circle cx="478.0" cy="125.0" r="1.0"/></g>
<line x1="379.50" y1="42.80" x2="379.50" y2="145.00" stroke="#808080" stroke-width="1.1"/>
<line x1="379.00" y1="144.50" x2="512.50" y2="144.50" stroke="#808080" stroke-width="1.1"/>
<line x1="385.20" y1="132.80" x2="507.00" y2="114.80" stroke="#111" stroke-width="1.1"/>
<text x="385.20" y="149.90" font-size="4.8" text-anchor="middle" fill="#999" stroke="#999" stroke-width="0.18">0</text>
<text x="420.90" y="149.90" font-size="4.8" text-anchor="middle" fill="#999" stroke="#999" stroke-width="0.18">2</text>
<text x="456.30" y="149.90" font-size="4.8" text-anchor="middle" fill="#999" stroke="#999" stroke-width="0.18">4</text>
<text x="491.70" y="149.90" font-size="4.8" text-anchor="middle" fill="#999" stroke="#999" stroke-width="0.18">6</text>
<text x="375.80" y="141.73" font-size="4.8" text-anchor="end" fill="#999" stroke="#999" stroke-width="0.18">0.0</text>
<text x="375.80" y="120.13" font-size="4.8" text-anchor="end" fill="#999" stroke="#999" stroke-width="0.18">0.1</text>
<text x="375.80" y="98.83" font-size="4.8" text-anchor="end" fill="#999" stroke="#999" stroke-width="0.18">0.2</text>
<text x="375.80" y="77.23" font-size="4.8" text-anchor="end" fill="#999" stroke="#999" stroke-width="0.18">0.3</text>
<text x="375.80" y="55.93" font-size="4.8" text-anchor="end" fill="#999" stroke="#999" stroke-width="0.18">0.4</text>
<text x="444.20" y="159.75" font-size="6.7" text-anchor="middle" fill="#1a1a1a" stroke="#1a1a1a" stroke-width="0.18"><tspan font-style="italic">CD274</tspan> Expression</text>
<text x="363.60" y="94.40" font-size="6.7" text-anchor="middle" fill="#1a1a1a" stroke="#1a1a1a" stroke-width="0.18" transform="rotate(-90 363.60 94.40)">CD8<tspan dy="-2" font-size="4.5">+</tspan><tspan dy="2"> T Cell Fraction</tspan></text>
<text x="0.00" y="0.00" font-size="5.75" fill="#1a1a1a" stroke="#1a1a1a" stroke-width="0.18" transform="translate(483.10 44.35) scale(1 1.1)">R = 0.170</text>
<text x="0.00" y="0.00" font-size="5.75" fill="#1a1a1a" stroke="#1a1a1a" stroke-width="0.18" transform="translate(483.10 51.35) scale(1 1.1)">p = 2.62e−04</text>
<g fill="#9868c8" fill-opacity="0.8"><circle cx="588.1" cy="137.3" r="1.0"/><circle cx="597.6" cy="129.9" r="1.0"/><circle cx="634.4" cy="135.8" r="1.0"/><circle cx="614.3" cy="136.5" r="1.0"/><circle cx="568.3" cy="139.0" r="1.0"/><circle cx="601.0" cy="130.9" r="1.0"/><circle cx="588.7" cy="139.7" r="1.0"/><circle cx="604.1" cy="139.7" r="1.0"/><circle cx="569.0" cy="139.7" r="1.0"/><circle cx="606.0" cy="133.1" r="1.0"/><circle cx="605.8" cy="139.3" r="1.0"/><circle cx="632.6" cy="136.2" r="1.0"/><circle cx="607.5" cy="138.6" r="1.0"/><circle cx="611.3" cy="137.4" r="1.0"/><circle cx="571.3" cy="139.5" r="1.0"/><circle cx="646.2" cy="135.4" r="1.0"/><circle cx="562.8" cy="133.7" r="1.0"/><circle cx="623.2" cy="137.9" r="1.0"/><circle cx="594.5" cy="138.2" r="1.0"/><circle cx="583.5" cy="132.8" r="1.0"/><circle cx="588.0" cy="138.4" r="1.0"/><circle cx="587.7" cy="137.7" r="1.0"/><circle cx="608.7" cy="137.6" r="1.0"/><circle cx="598.9" cy="137.0" r="1.0"/><circle cx="630.8" cy="133.4" r="1.0"/><circle cx="564.5" cy="131.1" r="1.0"/><circle cx="601.1" cy="132.7" r="1.0"/><circle cx="583.3" cy="129.8" r="1.0"/><circle cx="616.7" cy="126.8" r="1.0"/><circle cx="558.8" cy="137.7" r="1.0"/><circle cx="594.3" cy="138.9" r="1.0"/><circle cx="605.3" cy="135.1" r="1.0"/><circle cx="571.5" cy="137.5" r="1.0"/><circle cx="620.8" cy="136.1" r="1.0"/><circle cx="604.7" cy="138.3" r="1.0"/><circle cx="621.3" cy="137.4" r="1.0"/><circle cx="620.3" cy="137.6" r="1.0"/><circle cx="581.5" cy="137.2" r="1.0"/><circle cx="585.2" cy="137.2" r="1.0"/><circle cx="597.1" cy="137.3" r="1.0"/><circle cx="616.1" cy="135.4" r="1.0"/><circle cx="618.2" cy="138.9" r="1.0"/><circle cx="586.9" cy="134.5" r="1.0"/><circle cx="589.0" cy="136.2" r="1.0"/><circle cx="585.2" cy="124.9" r="1.0"/><circle cx="589.5" cy="139.3" r="1.0"/><circle cx="596.4" cy="135.5" r="1.0"/><circle cx="598.5" cy="138.7" r="1.0"/><circle cx="642.3" cy="134.9" r="1.0"/><circle cx="591.0" cy="136.5" r="1.0"/><circle cx="595.4" cy="133.1" r="1.0"/><circle cx="610.3" cy="139.8" r="1.0"/><circle cx="582.1" cy="134.9" r="1.0"/><circle cx="593.8" cy="139.2" r="1.0"/><circle cx="601.4" cy="135.0" r="1.0"/><circle cx="616.6" cy="133.2" r="1.0"/><circle cx="574.8" cy="139.2" r="1.0"/><circle cx="628.6" cy="137.3" r="1.0"/><circle cx="594.1" cy="139.0" r="1.0"/><circle cx="604.5" cy="137.5" r="1.0"/><circle cx="618.1" cy="136.4" r="1.0"/><circle cx="614.3" cy="138.1" r="1.0"/><circle cx="622.3" cy="136.6" r="1.0"/><circle cx="604.6" cy="129.9" r="1.0"/><circle cx="600.7" cy="139.4" r="1.0"/><circle cx="607.5" cy="139.3" r="1.0"/><circle cx="581.2" cy="128.9" r="1.0"/><circle cx="625.4" cy="137.4" r="1.0"/><circle cx="585.6" cy="136.5" r="1.0"/><circle cx="575.9" cy="133.4" r="1.0"/><circle cx="642.3" cy="137.3" r="1.0"/><circle cx="598.4" cy="138.9" r="1.0"/><circle cx="577.6" cy="138.1" r="1.0"/><circle cx="638.2" cy="134.4" r="1.0"/><circle cx="594.5" cy="133.2" r="1.0"/><circle cx="622.4" cy="134.5" r="1.0"/><circle cx="584.5" cy="133.8" r="1.0"/><circle cx="596.2" cy="138.4" r="1.0"/><circle cx="567.4" cy="138.9" r="1.0"/><circle cx="563.0" cy="135.7" r="1.0"/><circle cx="581.6" cy="135.0" r="1.0"/><circle cx="599.6" cy="135.4" r="1.0"/><circle cx="617.1" cy="135.1" r="1.0"/><circle cx="649.7" cy="135.9" r="1.0"/><circle cx="580.5" cy="138.1" r="1.0"/><circle cx="621.3" cy="139.7" r="1.0"/><circle cx="589.0" cy="135.6" r="1.0"/><circle cx="598.1" cy="132.7" r="1.0"/><circle cx="571.5" cy="125.1" r="1.0"/><circle cx="571.6" cy="138.5" r="1.0"/><circle cx="585.6" cy="137.7" r="1.0"/><circle cx="577.3" cy="132.6" r="1.0"/><circle cx="601.1" cy="129.6" r="1.0"/><circle cx="587.1" cy="136.7" r="1.0"/><circle cx="626.1" cy="138.5" r="1.0"/><circle cx="604.2" cy="138.4" r="1.0"/><circle cx="604.4" cy="134.6" r="1.0"/><circle cx="623.9" cy="125.2" r="1.0"/><circle cx="611.5" cy="139.3" r="1.0"/><circle cx="600.4" cy="129.1" r="1.0"/><circle cx="599.3" cy="136.4" r="1.0"/><circle cx="598.7" cy="133.3" r="1.0"/><circle cx="622.7" cy="128.4" r="1.0"/><circle cx="616.8" cy="137.8" r="1.0"/><circle cx="608.5" cy="138.8" r="1.0"/><circle cx="617.1" cy="138.1" r="1.0"/><circle cx="590.2" cy="136.7" r="1.0"/><circle cx="611.4" cy="139.2" r="1.0"/><circle cx="572.9" cy="135.6" r="1.0"/><circle cx="628.1" cy="133.6" r="1.0"/><circle cx="602.9" cy="139.8" r="1.0"/><circle cx="604.8" cy="138.1" r="1.0"/><circle cx="613.1" cy="137.2" r="1.0"/><circle cx="600.9" cy="123.3" r="1.0"/><circle cx="596.1" cy="129.9" r="1.0"/><circle cx="624.9" cy="138.5" r="1.0"/><circle cx="603.4" cy="132.8" r="1.0"/><circle cx="582.8" cy="133.9" r="1.0"/><circle cx="609.9" cy="139.1" r="1.0"/><circle cx="567.0" cy="139.3" r="1.0"/><circle cx="634.2" cy="139.4" r="1.0"/><circle cx="597.7" cy="129.2" r="1.0"/><circle cx="602.1" cy="122.3" r="1.0"/><circle cx="646.3" cy="132.5" r="1.0"/><circle cx="644.2" cy="139.7" r="1.0"/><circle cx="603.5" cy="138.7" r="1.0"/><circle cx="613.6" cy="138.7" r="1.0"/><circle cx="622.9" cy="132.0" r="1.0"/><circle cx="634.8" cy="134.2" r="1.0"/><circle cx="598.5" cy="138.5" r="1.0"/><circle cx="603.8" cy="138.2" r="1.0"/><circle cx="625.6" cy="138.6" r="1.0"/><circle cx="606.5" cy="132.8" r="1.0"/><circle cx="616.2" cy="127.1" r="1.0"/><circle cx="613.3" cy="138.0" r="1.0"/><circle cx="578.4" cy="138.9" r="1.0"/><circle cx="584.0" cy="130.4" r="1.0"/><circle cx="595.9" cy="137.8" r="1.0"/><circle cx="627.9" cy="135.5" r="1.0"/><circle cx="579.0" cy="139.3" r="1.0"/><circle cx="625.8" cy="131.7" r="1.0"/><circle cx="621.1" cy="128.5" r="1.0"/><circle cx="600.0" cy="133.6" r="1.0"/><circle cx="601.0" cy="136.7" r="1.0"/><circle cx="602.8" cy="133.6" r="1.0"/><circle cx="583.9" cy="133.2" r="1.0"/><circle cx="595.5" cy="139.4" r="1.0"/><circle cx="600.2" cy="131.3" r="1.0"/><circle cx="613.4" cy="132.6" r="1.0"/><circle cx="617.0" cy="135.0" r="1.0"/><circle cx="586.3" cy="135.5" r="1.0"/><circle cx="617.6" cy="139.7" r="1.0"/><circle cx="585.6" cy="118.4" r="1.0"/><circle cx="597.8" cy="134.7" r="1.0"/><circle cx="608.5" cy="132.5" r="1.0"/><circle cx="600.7" cy="138.2" r="1.0"/><circle cx="598.6" cy="137.6" r="1.0"/><circle cx="606.5" cy="134.6" r="1.0"/><circle cx="590.1" cy="135.0" r="1.0"/><circle cx="588.1" cy="124.8" r="1.0"/><circle cx="597.1" cy="126.4" r="1.0"/><circle cx="620.4" cy="138.9" r="1.0"/><circle cx="599.1" cy="129.1" r="1.0"/><circle cx="639.2" cy="134.6" r="1.0"/><circle cx="605.4" cy="138.2" r="1.0"/><circle cx="592.3" cy="137.6" r="1.0"/><circle cx="634.4" cy="130.7" r="1.0"/><circle cx="601.3" cy="136.3" r="1.0"/><circle cx="592.4" cy="139.0" r="1.0"/><circle cx="583.7" cy="132.4" r="1.0"/><circle cx="627.6" cy="136.2" r="1.0"/><circle cx="621.2" cy="131.0" r="1.0"/><circle cx="614.6" cy="136.5" r="1.0"/><circle cx="609.7" cy="138.0" r="1.0"/><circle cx="629.9" cy="137.8" r="1.0"/><circle cx="617.6" cy="135.1" r="1.0"/><circle cx="576.5" cy="138.5" r="1.0"/><circle cx="616.5" cy="138.8" r="1.0"/><circle cx="598.9" cy="134.3" r="1.0"/><circle cx="616.4" cy="134.4" r="1.0"/><circle cx="601.7" cy="126.8" r="1.0"/><circle cx="632.3" cy="133.7" r="1.0"/><circle cx="621.9" cy="139.5" r="1.0"/><circle cx="598.7" cy="137.2" r="1.0"/><circle cx="593.7" cy="138.7" r="1.0"/><circle cx="605.7" cy="139.4" r="1.0"/><circle cx="575.5" cy="137.9" r="1.0"/><circle cx="607.3" cy="135.5" r="1.0"/><circle cx="596.5" cy="136.1" r="1.0"/><circle cx="594.1" cy="128.7" r="1.0"/><circle cx="582.7" cy="136.6" r="1.0"/><circle cx="587.6" cy="133.6" r="1.0"/><circle cx="623.3" cy="133.6" r="1.0"/><circle cx="627.8" cy="132.7" r="1.0"/><circle cx="611.2" cy="131.4" r="1.0"/><circle cx="600.2" cy="138.3" r="1.0"/><circle cx="583.6" cy="138.5" r="1.0"/><circle cx="615.5" cy="139.7" r="1.0"/><circle cx="633.3" cy="128.2" r="1.0"/><circle cx="568.8" cy="126.8" r="1.0"/><circle cx="624.6" cy="132.7" r="1.0"/><circle cx="557.8" cy="132.9" r="1.0"/><circle cx="594.3" cy="138.5" r="1.0"/><circle cx="608.8" cy="136.4" r="1.0"/><circle cx="573.8" cy="136.1" r="1.0"/><circle cx="570.8" cy="132.6" r="1.0"/><circle cx="604.8" cy="131.0" r="1.0"/><circle cx="618.7" cy="139.7" r="1.0"/><circle cx="591.6" cy="134.8" r="1.0"/><circle cx="628.0" cy="136.9" r="1.0"/><circle cx="585.5" cy="138.0" r="1.0"/><circle cx="636.2" cy="128.6" r="1.0"/><circle cx="603.5" cy="139.8" r="1.0"/><circle cx="605.8" cy="138.7" r="1.0"/><circle cx="613.4" cy="138.5" r="1.0"/><circle cx="607.6" cy="138.1" r="1.0"/><circle cx="645.3" cy="138.5" r="1.0"/><circle cx="612.1" cy="138.6" r="1.0"/><circle cx="597.8" cy="135.3" r="1.0"/><circle cx="577.6" cy="136.4" r="1.0"/><circle cx="586.0" cy="137.8" r="1.0"/><circle cx="601.3" cy="130.3" r="1.0"/><circle cx="599.1" cy="118.5" r="1.0"/><circle cx="600.3" cy="134.0" r="1.0"/><circle cx="611.0" cy="135.4" r="1.0"/><circle cx="574.1" cy="134.8" r="1.0"/><circle cx="580.6" cy="134.6" r="1.0"/><circle cx="623.6" cy="138.3" r="1.0"/><circle cx="617.9" cy="131.4" r="1.0"/><circle cx="590.4" cy="138.8" r="1.0"/><circle cx="627.0" cy="139.2" r="1.0"/><circle cx="587.6" cy="135.6" r="1.0"/><circle cx="596.1" cy="139.6" r="1.0"/><circle cx="564.6" cy="139.2" r="1.0"/><circle cx="618.1" cy="133.6" r="1.0"/><circle cx="601.0" cy="136.8" r="1.0"/><circle cx="622.5" cy="135.7" r="1.0"/><circle cx="615.3" cy="135.3" r="1.0"/><circle cx="603.1" cy="128.2" r="1.0"/><circle cx="604.5" cy="135.5" r="1.0"/><circle cx="625.2" cy="132.2" r="1.0"/><circle cx="598.0" cy="135.5" r="1.0"/><circle cx="598.3" cy="139.6" r="1.0"/><circle cx="602.7" cy="121.4" r="1.0"/><circle cx="617.5" cy="134.6" r="1.0"/><circle cx="619.9" cy="131.8" r="1.0"/><circle cx="639.8" cy="139.3" r="1.0"/><circle cx="600.0" cy="136.4" r="1.0"/><circle cx="626.9" cy="136.3" r="1.0"/><circle cx="588.6" cy="129.4" r="1.0"/><circle cx="613.8" cy="128.6" r="1.0"/><circle cx="604.3" cy="134.5" r="1.0"/><circle cx="636.6" cy="133.0" r="1.0"/><circle cx="614.1" cy="138.6" r="1.0"/><circle cx="593.0" cy="138.7" r="1.0"/><circle cx="613.5" cy="132.8" r="1.0"/><circle cx="608.9" cy="136.7" r="1.0"/><circle cx="595.7" cy="133.4" r="1.0"/><circle cx="596.2" cy="139.4" r="1.0"/><circle cx="583.2" cy="133.4" r="1.0"/><circle cx="657.2" cy="116.4" r="1.0"/><circle cx="604.8" cy="137.7" r="1.0"/><circle cx="621.6" cy="139.1" r="1.0"/><circle cx="578.8" cy="116.5" r="1.0"/><circle cx="580.4" cy="129.6" r="1.0"/><circle cx="599.1" cy="134.9" r="1.0"/><circle cx="599.1" cy="135.2" r="1.0"/><circle cx="618.2" cy="133.5" r="1.0"/><circle cx="582.1" cy="136.5" r="1.0"/><circle cx="612.9" cy="134.2" r="1.0"/><circle cx="632.4" cy="135.5" r="1.0"/><circle cx="583.9" cy="129.9" r="1.0"/><circle cx="620.3" cy="138.8" r="1.0"/><circle cx="582.9" cy="138.5" r="1.0"/><circle cx="609.1" cy="132.8" r="1.0"/><circle cx="609.4" cy="132.6" r="1.0"/><circle cx="636.9" cy="123.4" r="1.0"/><circle cx="588.3" cy="120.7" r="1.0"/><circle cx="605.5" cy="136.8" r="1.0"/><circle cx="623.0" cy="131.1" r="1.0"/><circle cx="578.7" cy="139.4" r="1.0"/><circle cx="602.0" cy="134.6" r="1.0"/><circle cx="584.7" cy="136.2" r="1.0"/><circle cx="588.1" cy="138.1" r="1.0"/><circle cx="615.8" cy="119.0" r="1.0"/><circle cx="616.2" cy="137.8" r="1.0"/><circle cx="653.7" cy="133.5" r="1.0"/><circle cx="629.7" cy="139.4" r="1.0"/><circle cx="627.9" cy="130.8" r="1.0"/><circle cx="598.8" cy="132.9" r="1.0"/><circle cx="596.1" cy="138.1" r="1.0"/><circle cx="604.9" cy="128.3" r="1.0"/><circle cx="556.6" cy="139.0" r="1.0"/><circle cx="635.2" cy="123.4" r="1.0"/><circle cx="588.6" cy="137.3" r="1.0"/><circle cx="580.8" cy="118.7" r="1.0"/><circle cx="592.8" cy="136.5" r="1.0"/><circle cx="619.5" cy="134.8" r="1.0"/><circle cx="626.8" cy="130.1" r="1.0"/><circle cx="594.4" cy="138.5" r="1.0"/><circle cx="610.6" cy="139.3" r="1.0"/><circle cx="600.7" cy="135.9" r="1.0"/><circle cx="581.9" cy="137.1" r="1.0"/><circle cx="605.2" cy="127.9" r="1.0"/><circle cx="602.3" cy="136.6" r="1.0"/><circle cx="571.0" cy="137.0" r="1.0"/><circle cx="623.7" cy="132.9" r="1.0"/><circle cx="570.3" cy="135.9" r="1.0"/><circle cx="606.4" cy="135.4" r="1.0"/><circle cx="580.7" cy="132.5" r="1.0"/><circle cx="585.4" cy="138.7" r="1.0"/><circle cx="587.6" cy="138.5" r="1.0"/><circle cx="615.7" cy="138.8" r="1.0"/><circle cx="576.5" cy="132.5" r="1.0"/><circle cx="632.6" cy="137.0" r="1.0"/><circle cx="587.6" cy="138.8" r="1.0"/><circle cx="600.9" cy="136.0" r="1.0"/><circle cx="614.8" cy="137.4" r="1.0"/><circle cx="589.9" cy="135.2" r="1.0"/><circle cx="611.0" cy="122.9" r="1.0"/><circle cx="588.3" cy="119.7" r="1.0"/><circle cx="615.5" cy="136.6" r="1.0"/><circle cx="602.7" cy="135.3" r="1.0"/><circle cx="582.7" cy="136.5" r="1.0"/><circle cx="629.6" cy="137.6" r="1.0"/><circle cx="599.6" cy="136.7" r="1.0"/><circle cx="595.9" cy="138.1" r="1.0"/><circle cx="583.0" cy="132.3" r="1.0"/><circle cx="592.1" cy="139.7" r="1.0"/><circle cx="599.5" cy="136.5" r="1.0"/><circle cx="604.9" cy="130.0" r="1.0"/><circle cx="623.4" cy="134.8" r="1.0"/><circle cx="575.1" cy="127.4" r="1.0"/><circle cx="594.4" cy="136.3" r="1.0"/><circle cx="625.3" cy="134.3" r="1.0"/><circle cx="605.1" cy="136.3" r="1.0"/><circle cx="609.6" cy="133.9" r="1.0"/><circle cx="633.3" cy="138.0" r="1.0"/><circle cx="608.2" cy="135.0" r="1.0"/><circle cx="610.7" cy="131.5" r="1.0"/><circle cx="600.6" cy="137.7" r="1.0"/><circle cx="636.7" cy="135.6" r="1.0"/><circle cx="622.4" cy="133.0" r="1.0"/><circle cx="587.0" cy="137.8" r="1.0"/><circle cx="612.3" cy="136.5" r="1.0"/><circle cx="578.4" cy="138.7" r="1.0"/><circle cx="623.1" cy="136.4" r="1.0"/><circle cx="614.8" cy="132.9" r="1.0"/><circle cx="598.1" cy="133.8" r="1.0"/><circle cx="593.3" cy="136.9" r="1.0"/><circle cx="565.4" cy="137.9" r="1.0"/><circle cx="616.6" cy="138.5" r="1.0"/><circle cx="598.9" cy="134.4" r="1.0"/><circle cx="595.0" cy="126.2" r="1.0"/><circle cx="615.7" cy="131.8" r="1.0"/><circle cx="587.9" cy="139.7" r="1.0"/><circle cx="589.5" cy="139.1" r="1.0"/><circle cx="587.3" cy="136.8" r="1.0"/><circle cx="574.1" cy="123.3" r="1.0"/><circle cx="649.3" cy="134.6" r="1.0"/><circle cx="597.3" cy="137.2" r="1.0"/><circle cx="594.1" cy="130.6" r="1.0"/><circle cx="619.1" cy="134.7" r="1.0"/><circle cx="600.5" cy="132.5" r="1.0"/><circle cx="601.3" cy="139.4" r="1.0"/><circle cx="581.6" cy="133.2" r="1.0"/><circle cx="610.2" cy="129.4" r="1.0"/><circle cx="560.4" cy="138.1" r="1.0"/><circle cx="601.0" cy="139.7" r="1.0"/><circle cx="618.4" cy="129.9" r="1.0"/><circle cx="556.0" cy="137.2" r="1.0"/><circle cx="571.3" cy="136.0" r="1.0"/><circle cx="596.9" cy="136.5" r="1.0"/><circle cx="599.4" cy="138.6" r="1.0"/><circle cx="586.6" cy="138.1" r="1.0"/><circle cx="606.5" cy="139.1" r="1.0"/><circle cx="603.9" cy="137.6" r="1.0"/><circle cx="571.9" cy="137.0" r="1.0"/><circle cx="596.6" cy="137.0" r="1.0"/><circle cx="573.0" cy="135.7" r="1.0"/><circle cx="556.8" cy="135.5" r="1.0"/><circle cx="618.6" cy="118.2" r="1.0"/><circle cx="595.4" cy="137.8" r="1.0"/><circle cx="637.0" cy="134.6" r="1.0"/><circle cx="568.5" cy="137.9" r="1.0"/><circle cx="590.6" cy="125.8" r="1.0"/><circle cx="604.5" cy="134.3" r="1.0"/><circle cx="594.8" cy="138.3" r="1.0"/><circle cx="607.7" cy="139.1" r="1.0"/><circle cx="600.6" cy="137.4" r="1.0"/><circle cx="585.5" cy="135.1" r="1.0"/><circle cx="578.8" cy="137.9" r="1.0"/><circle cx="632.3" cy="139.7" r="1.0"/><circle cx="613.3" cy="138.2" r="1.0"/><circle cx="625.6" cy="139.0" r="1.0"/><circle cx="586.4" cy="139.4" r="1.0"/><circle cx="594.4" cy="138.8" r="1.0"/><circle cx="580.7" cy="126.8" r="1.0"/><circle cx="606.2" cy="135.2" r="1.0"/><circle cx="599.7" cy="131.3" r="1.0"/><circle cx="607.5" cy="135.4" r="1.0"/><circle cx="633.8" cy="139.1" r="1.0"/><circle cx="581.9" cy="137.4" r="1.0"/><circle cx="570.6" cy="129.6" r="1.0"/><circle cx="620.7" cy="135.9" r="1.0"/><circle cx="589.8" cy="134.5" r="1.0"/><circle cx="597.2" cy="134.8" r="1.0"/><circle cx="601.4" cy="135.8" r="1.0"/><circle cx="631.6" cy="134.8" r="1.0"/><circle cx="598.1" cy="139.6" r="1.0"/><circle cx="588.7" cy="127.3" r="1.0"/><circle cx="575.0" cy="135.9" r="1.0"/><circle cx="604.2" cy="124.3" r="1.0"/><circle cx="581.6" cy="139.1" r="1.0"/><circle cx="598.2" cy="137.6" r="1.0"/><circle cx="612.1" cy="127.1" r="1.0"/><circle cx="584.4" cy="137.2" r="1.0"/><circle cx="612.1" cy="137.9" r="1.0"/><circle cx="634.1" cy="131.7" r="1.0"/><circle cx="568.9" cy="125.6" r="1.0"/><circle cx="626.0" cy="136.8" r="1.0"/><circle cx="641.8" cy="134.2" r="1.0"/><circle cx="586.9" cy="134.1" r="1.0"/><circle cx="611.0" cy="137.4" r="1.0"/><circle cx="571.3" cy="136.4" r="1.0"/><circle cx="605.5" cy="137.7" r="1.0"/><circle cx="592.2" cy="138.2" r="1.0"/><circle cx="604.8" cy="138.3" r="1.0"/><circle cx="580.4" cy="134.0" r="1.0"/><circle cx="582.2" cy="138.8" r="1.0"/><circle cx="589.7" cy="135.5" r="1.0"/><circle cx="584.4" cy="135.5" r="1.0"/><circle cx="586.2" cy="135.0" r="1.0"/><circle cx="594.4" cy="135.4" r="1.0"/><circle cx="576.2" cy="138.2" r="1.0"/><circle cx="595.5" cy="134.3" r="1.0"/><circle cx="608.0" cy="139.3" r="1.0"/><circle cx="602.2" cy="133.2" r="1.0"/><circle cx="583.3" cy="137.7" r="1.0"/><circle cx="575.8" cy="139.7" r="1.0"/><circle cx="571.2" cy="134.7" r="1.0"/><circle cx="581.0" cy="139.0" r="1.0"/><circle cx="583.0" cy="134.1" r="1.0"/><circle cx="604.8" cy="137.8" r="1.0"/><circle cx="572.6" cy="127.9" r="1.0"/><circle cx="618.7" cy="139.2" r="1.0"/><circle cx="581.5" cy="138.0" r="1.0"/><circle cx="611.6" cy="134.0" r="1.0"/><circle cx="619.7" cy="128.0" r="1.0"/><circle cx="573.5" cy="139.7" r="1.0"/><circle cx="619.5" cy="133.1" r="1.0"/><circle cx="642.0" cy="136.5" r="1.0"/><circle cx="589.7" cy="131.7" r="1.0"/><circle cx="610.5" cy="133.7" r="1.0"/><circle cx="596.4" cy="132.4" r="1.0"/><circle cx="600.9" cy="134.9" r="1.0"/><circle cx="595.6" cy="128.3" r="1.0"/><circle cx="589.5" cy="137.0" r="1.0"/><circle cx="614.2" cy="135.8" r="1.0"/><circle cx="617.5" cy="135.1" r="1.0"/><circle cx="600.0" cy="134.4" r="1.0"/><circle cx="630.4" cy="135.7" r="1.0"/><circle cx="622.0" cy="118.9" r="1.0"/><circle cx="614.4" cy="135.5" r="1.0"/><circle cx="586.1" cy="136.8" r="1.0"/><circle cx="638.6" cy="131.7" r="1.0"/><circle cx="627.0" cy="130.5" r="1.0"/><circle cx="557.7" cy="135.4" r="1.0"/><circle cx="578.5" cy="137.3" r="1.0"/><circle cx="591.2" cy="136.8" r="1.0"/><circle cx="619.5" cy="138.2" r="1.0"/><circle cx="625.7" cy="135.5" r="1.0"/><circle cx="595.1" cy="116.3" r="1.0"/><circle cx="605.8" cy="139.6" r="1.0"/><circle cx="614.9" cy="138.0" r="1.0"/><circle cx="575.5" cy="137.0" r="1.0"/><circle cx="612.8" cy="139.1" r="1.0"/><circle cx="594.9" cy="138.6" r="1.0"/><circle cx="604.7" cy="134.3" r="1.0"/><circle cx="600.1" cy="134.1" r="1.0"/><circle cx="577.5" cy="139.0" r="1.0"/><circle cx="581.2" cy="128.6" r="1.0"/><circle cx="601.9" cy="137.5" r="1.0"/><circle cx="603.7" cy="128.4" r="1.0"/><circle cx="595.9" cy="139.1" r="1.0"/><circle cx="622.4" cy="126.2" r="1.0"/><circle cx="594.0" cy="138.6" r="1.0"/><circle cx="576.8" cy="139.5" r="1.0"/><circle cx="594.2" cy="137.0" r="1.0"/><circle cx="597.6" cy="122.2" r="1.0"/><circle cx="598.5" cy="132.5" r="1.0"/><circle cx="624.4" cy="134.5" r="1.0"/><circle cx="611.3" cy="133.4" r="1.0"/><circle cx="622.2" cy="139.7" r="1.0"/><circle cx="613.6" cy="138.8" r="1.0"/><circle cx="597.9" cy="129.4" r="1.0"/><circle cx="621.9" cy="135.6" r="1.0"/><circle cx="596.0" cy="137.9" r="1.0"/><circle cx="606.2" cy="136.8" r="1.0"/><circle cx="581.2" cy="138.9" r="1.0"/><circle cx="603.2" cy="136.1" r="1.0"/><circle cx="594.7" cy="129.7" r="1.0"/><circle cx="608.7" cy="128.9" r="1.0"/><circle cx="637.6" cy="139.1" r="1.0"/><circle cx="648.7" cy="113.4" r="1.0"/><circle cx="621.6" cy="130.4" r="1.0"/><circle cx="600.7" cy="136.0" r="1.0"/><circle cx="617.8" cy="135.3" r="1.0"/><circle cx="605.9" cy="131.4" r="1.0"/><circle cx="589.1" cy="137.3" r="1.0"/><circle cx="600.0" cy="137.8" r="1.0"/><circle cx="596.3" cy="130.6" r="1.0"/><circle cx="589.2" cy="131.6" r="1.0"/><circle cx="628.9" cy="126.8" r="1.0"/><circle cx="590.5" cy="129.2" r="1.0"/><circle cx="591.4" cy="124.4" r="1.0"/><circle cx="615.4" cy="131.5" r="1.0"/><circle cx="587.4" cy="134.1" r="1.0"/><circle cx="578.3" cy="134.7" r="1.0"/><circle cx="584.3" cy="136.6" r="1.0"/><circle cx="611.0" cy="139.2" r="1.0"/><circle cx="608.9" cy="138.4" r="1.0"/><circle cx="607.3" cy="134.2" r="1.0"/><circle cx="592.1" cy="136.2" r="1.0"/><circle cx="583.1" cy="139.5" r="1.0"/><circle cx="619.5" cy="134.8" r="1.0"/><circle cx="572.5" cy="139.5" r="1.0"/><circle cx="597.1" cy="137.4" r="1.0"/><circle cx="574.9" cy="139.8" r="1.0"/><circle cx="593.3" cy="138.8" r="1.0"/><circle cx="598.4" cy="138.7" r="1.0"/><circle cx="626.0" cy="127.8" r="1.0"/><circle cx="628.8" cy="139.6" r="1.0"/><circle cx="583.8" cy="138.7" r="1.0"/><circle cx="607.4" cy="137.8" r="1.0"/><circle cx="617.6" cy="138.3" r="1.0"/><circle cx="586.2" cy="129.0" r="1.0"/><circle cx="599.8" cy="139.0" r="1.0"/><circle cx="611.4" cy="130.5" r="1.0"/><circle cx="599.1" cy="138.2" r="1.0"/><circle cx="586.9" cy="138.9" r="1.0"/><circle cx="605.4" cy="138.6" r="1.0"/><circle cx="603.8" cy="131.7" r="1.0"/><circle cx="571.7" cy="138.3" r="1.0"/><circle cx="628.8" cy="137.1" r="1.0"/><circle cx="606.2" cy="136.0" r="1.0"/><circle cx="585.1" cy="133.3" r="1.0"/><circle cx="636.1" cy="135.0" r="1.0"/><circle cx="633.5" cy="131.1" r="1.0"/><circle cx="607.2" cy="138.8" r="1.0"/><circle cx="568.1" cy="136.1" r="1.0"/><circle cx="597.1" cy="136.1" r="1.0"/><circle cx="623.0" cy="139.5" r="1.0"/><circle cx="609.7" cy="136.8" r="1.0"/><circle cx="595.2" cy="138.1" r="1.0"/><circle cx="587.1" cy="137.5" r="1.0"/><circle cx="618.4" cy="139.6" r="1.0"/><circle cx="597.7" cy="136.2" r="1.0"/><circle cx="608.4" cy="134.4" r="1.0"/><circle cx="611.8" cy="136.7" r="1.0"/><circle cx="634.7" cy="138.1" r="1.0"/><circle cx="605.6" cy="135.3" r="1.0"/><circle cx="607.1" cy="138.7" r="1.0"/><circle cx="566.2" cy="136.0" r="1.0"/><circle cx="624.2" cy="126.0" r="1.0"/><circle cx="619.7" cy="138.2" r="1.0"/><circle cx="601.7" cy="132.0" r="1.0"/><circle cx="556.5" cy="139.3" r="1.0"/><circle cx="590.7" cy="137.7" r="1.0"/><circle cx="603.5" cy="139.4" r="1.0"/><circle cx="643.9" cy="131.1" r="1.0"/><circle cx="613.8" cy="137.1" r="1.0"/><circle cx="617.8" cy="135.3" r="1.0"/><circle cx="618.4" cy="139.2" r="1.0"/><circle cx="628.7" cy="134.8" r="1.0"/><circle cx="579.2" cy="137.5" r="1.0"/><circle cx="584.9" cy="138.6" r="1.0"/><circle cx="578.3" cy="133.4" r="1.0"/><circle cx="596.2" cy="139.4" r="1.0"/><circle cx="594.8" cy="133.8" r="1.0"/><circle cx="603.9" cy="134.7" r="1.0"/><circle cx="581.3" cy="139.3" r="1.0"/><circle cx="603.7" cy="122.7" r="1.0"/><circle cx="584.7" cy="130.6" r="1.0"/><circle cx="644.1" cy="136.1" r="1.0"/><circle cx="591.2" cy="137.9" r="1.0"/><circle cx="652.8" cy="136.6" r="1.0"/><circle cx="634.5" cy="135.1" r="1.0"/><circle cx="577.8" cy="129.0" r="1.0"/><circle cx="620.9" cy="131.8" r="1.0"/><circle cx="613.9" cy="135.1" r="1.0"/><circle cx="571.0" cy="120.5" r="1.0"/><circle cx="613.9" cy="138.7" r="1.0"/><circle cx="599.9" cy="129.3" r="1.0"/><circle cx="608.7" cy="130.5" r="1.0"/><circle cx="584.6" cy="138.5" r="1.0"/><circle cx="600.5" cy="139.8" r="1.0"/><circle cx="610.0" cy="135.9" r="1.0"/><circle cx="598.1" cy="126.9" r="1.0"/><circle cx="589.5" cy="138.6" r="1.0"/><circle cx="598.5" cy="138.5" r="1.0"/><circle cx="582.1" cy="135.2" r="1.0"/><circle cx="608.5" cy="139.3" r="1.0"/><circle cx="631.9" cy="136.3" r="1.0"/><circle cx="602.9" cy="128.3" r="1.0"/><circle cx="611.2" cy="125.9" r="1.0"/><circle cx="618.8" cy="118.8" r="1.0"/><circle cx="576.8" cy="135.1" r="1.0"/><circle cx="647.3" cy="139.2" r="1.0"/><circle cx="579.2" cy="136.8" r="1.0"/><circle cx="611.0" cy="134.7" r="1.0"/><circle cx="608.2" cy="138.1" r="1.0"/><circle cx="627.9" cy="139.6" r="1.0"/><circle cx="601.4" cy="137.4" r="1.0"/><circle cx="573.4" cy="134.8" r="1.0"/><circle cx="608.1" cy="138.1" r="1.0"/><circle cx="597.6" cy="133.4" r="1.0"/><circle cx="592.3" cy="134.9" r="1.0"/><circle cx="632.8" cy="139.1" r="1.0"/><circle cx="595.9" cy="139.7" r="1.0"/><circle cx="592.5" cy="137.4" r="1.0"/><circle cx="586.3" cy="132.7" r="1.0"/><circle cx="584.3" cy="131.2" r="1.0"/><circle cx="590.4" cy="139.0" r="1.0"/><circle cx="613.4" cy="130.1" r="1.0"/><circle cx="575.0" cy="139.5" r="1.0"/><circle cx="597.2" cy="136.8" r="1.0"/><circle cx="572.1" cy="138.8" r="1.0"/><circle cx="598.0" cy="133.8" r="1.0"/><circle cx="604.6" cy="138.1" r="1.0"/><circle cx="576.6" cy="137.1" r="1.0"/><circle cx="589.8" cy="133.1" r="1.0"/><circle cx="603.4" cy="137.4" r="1.0"/><circle cx="616.7" cy="137.9" r="1.0"/><circle cx="620.3" cy="116.5" r="1.0"/><circle cx="599.0" cy="134.5" r="1.0"/><circle cx="581.2" cy="139.2" r="1.0"/><circle cx="568.6" cy="132.1" r="1.0"/><circle cx="616.8" cy="138.0" r="1.0"/><circle cx="629.1" cy="138.8" r="1.0"/><circle cx="608.5" cy="130.9" r="1.0"/><circle cx="632.5" cy="122.0" r="1.0"/><circle cx="592.0" cy="139.0" r="1.0"/><circle cx="593.3" cy="138.1" r="1.0"/><circle cx="632.6" cy="136.1" r="1.0"/><circle cx="580.9" cy="136.7" r="1.0"/><circle cx="613.2" cy="130.0" r="1.0"/><circle cx="608.9" cy="138.9" r="1.0"/><circle cx="604.2" cy="137.2" r="1.0"/><circle cx="635.9" cy="131.4" r="1.0"/><circle cx="583.5" cy="138.0" r="1.0"/><circle cx="592.5" cy="139.5" r="1.0"/><circle cx="559.2" cy="136.8" r="1.0"/><circle cx="580.1" cy="134.0" r="1.0"/><circle cx="590.8" cy="128.1" r="1.0"/><circle cx="593.3" cy="133.7" r="1.0"/><circle cx="597.0" cy="136.4" r="1.0"/><circle cx="607.1" cy="137.9" r="1.0"/><circle cx="587.7" cy="132.5" r="1.0"/><circle cx="561.3" cy="136.7" r="1.0"/><circle cx="604.2" cy="129.9" r="1.0"/><circle cx="609.6" cy="136.9" r="1.0"/><circle cx="577.8" cy="138.1" r="1.0"/><circle cx="585.3" cy="139.1" r="1.0"/><circle cx="636.5" cy="139.1" r="1.0"/><circle cx="621.7" cy="127.0" r="1.0"/><circle cx="623.0" cy="137.3" r="1.0"/><circle cx="614.6" cy="128.7" r="1.0"/><circle cx="604.1" cy="135.9" r="1.0"/><circle cx="590.9" cy="123.5" r="1.0"/><circle cx="612.6" cy="134.5" r="1.0"/><circle cx="597.1" cy="136.0" r="1.0"/><circle cx="592.3" cy="139.8" r="1.0"/><circle cx="600.9" cy="138.8" r="1.0"/><circle cx="599.5" cy="136.7" r="1.0"/><circle cx="619.0" cy="136.3" r="1.0"/><circle cx="581.8" cy="127.4" r="1.0"/><circle cx="651.2" cy="132.7" r="1.0"/><circle cx="580.8" cy="136.3" r="1.0"/><circle cx="592.5" cy="138.5" r="1.0"/><circle cx="620.1" cy="132.9" r="1.0"/><circle cx="584.3" cy="139.3" r="1.0"/><circle cx="591.4" cy="138.7" r="1.0"/><circle cx="601.7" cy="120.4" r="1.0"/><circle cx="590.9" cy="129.8" r="1.0"/><circle cx="581.7" cy="127.9" r="1.0"/><circle cx="596.1" cy="132.9" r="1.0"/><circle cx="611.2" cy="137.1" r="1.0"/><circle cx="614.0" cy="136.2" r="1.0"/><circle cx="631.4" cy="134.3" r="1.0"/><circle cx="630.2" cy="135.8" r="1.0"/><circle cx="621.9" cy="135.0" r="1.0"/><circle cx="600.4" cy="132.9" r="1.0"/><circle cx="622.2" cy="133.5" r="1.0"/><circle cx="581.1" cy="132.8" r="1.0"/><circle cx="599.2" cy="128.6" r="1.0"/><circle cx="630.2" cy="136.8" r="1.0"/><circle cx="617.1" cy="125.5" r="1.0"/><circle cx="573.0" cy="135.8" r="1.0"/><circle cx="589.3" cy="139.5" r="1.0"/><circle cx="619.4" cy="138.9" r="1.0"/><circle cx="613.6" cy="137.1" r="1.0"/><circle cx="622.9" cy="138.9" r="1.0"/><circle cx="565.6" cy="138.0" r="1.0"/><circle cx="575.7" cy="139.6" r="1.0"/><circle cx="596.2" cy="138.4" r="1.0"/><circle cx="581.6" cy="131.0" r="1.0"/><circle cx="600.7" cy="132.7" r="1.0"/><circle cx="601.6" cy="134.3" r="1.0"/><circle cx="608.4" cy="128.7" r="1.0"/><circle cx="598.8" cy="131.5" r="1.0"/><circle cx="612.8" cy="138.8" r="1.0"/><circle cx="617.2" cy="129.7" r="1.0"/><circle cx="604.6" cy="129.8" r="1.0"/><circle cx="576.9" cy="136.9" r="1.0"/><circle cx="627.5" cy="138.1" r="1.0"/><circle cx="605.9" cy="137.9" r="1.0"/><circle cx="610.1" cy="137.5" r="1.0"/><circle cx="605.0" cy="128.3" r="1.0"/><circle cx="569.1" cy="139.7" r="1.0"/><circle cx="613.2" cy="134.0" r="1.0"/><circle cx="588.3" cy="134.6" r="1.0"/><circle cx="577.0" cy="138.4" r="1.0"/><circle cx="627.4" cy="114.2" r="1.0"/><circle cx="595.4" cy="137.5" r="1.0"/><circle cx="607.3" cy="135.2" r="1.0"/><circle cx="619.5" cy="134.0" r="1.0"/><circle cx="634.1" cy="132.0" r="1.0"/><circle cx="565.0" cy="124.4" r="1.0"/><circle cx="586.5" cy="138.3" r="1.0"/><circle cx="615.1" cy="138.1" r="1.0"/><circle cx="588.0" cy="136.6" r="1.0"/><circle cx="604.4" cy="135.6" r="1.0"/><circle cx="606.0" cy="136.7" r="1.0"/><circle cx="617.5" cy="130.5" r="1.0"/><circle cx="606.1" cy="136.7" r="1.0"/><circle cx="592.6" cy="134.6" r="1.0"/><circle cx="605.8" cy="138.9" r="1.0"/><circle cx="600.8" cy="137.3" r="1.0"/><circle cx="591.3" cy="135.9" r="1.0"/><circle cx="606.6" cy="139.6" r="1.0"/><circle cx="608.7" cy="139.3" r="1.0"/><circle cx="581.1" cy="139.4" r="1.0"/><circle cx="622.2" cy="138.7" r="1.0"/><circle cx="618.2" cy="137.6" r="1.0"/><circle cx="617.3" cy="136.1" r="1.0"/><circle cx="603.8" cy="127.4" r="1.0"/><circle cx="599.0" cy="133.1" r="1.0"/><circle cx="581.3" cy="129.4" r="1.0"/><circle cx="613.2" cy="137.0" r="1.0"/><circle cx="571.2" cy="139.8" r="1.0"/><circle cx="626.2" cy="132.9" r="1.0"/><circle cx="609.2" cy="138.2" r="1.0"/><circle cx="591.3" cy="139.4" r="1.0"/><circle cx="630.1" cy="132.4" r="1.0"/><circle cx="610.7" cy="132.4" r="1.0"/><circle cx="608.2" cy="137.6" r="1.0"/><circle cx="575.2" cy="139.5" r="1.0"/><circle cx="612.0" cy="138.2" r="1.0"/><circle cx="629.8" cy="117.4" r="1.0"/><circle cx="623.6" cy="137.1" r="1.0"/><circle cx="575.4" cy="134.4" r="1.0"/><circle cx="629.4" cy="139.5" r="1.0"/><circle cx="618.4" cy="138.5" r="1.0"/><circle cx="593.6" cy="129.9" r="1.0"/><circle cx="571.0" cy="124.1" r="1.0"/><circle cx="582.9" cy="139.4" r="1.0"/><circle cx="589.5" cy="138.3" r="1.0"/><circle cx="606.6" cy="120.8" r="1.0"/><circle cx="612.2" cy="139.7" r="1.0"/><circle cx="586.1" cy="137.2" r="1.0"/><circle cx="568.0" cy="136.2" r="1.0"/><circle cx="592.6" cy="131.9" r="1.0"/><circle cx="574.1" cy="135.1" r="1.0"/><circle cx="627.7" cy="139.2" r="1.0"/><circle cx="576.0" cy="136.1" r="1.0"/><circle cx="610.4" cy="134.5" r="1.0"/><circle cx="617.3" cy="138.9" r="1.0"/><circle cx="580.8" cy="132.6" r="1.0"/><circle cx="620.8" cy="135.3" r="1.0"/><circle cx="597.6" cy="138.3" r="1.0"/><circle cx="584.4" cy="119.2" r="1.0"/><circle cx="581.3" cy="139.4" r="1.0"/><circle cx="602.5" cy="138.2" r="1.0"/><circle cx="621.9" cy="135.5" r="1.0"/><circle cx="562.0" cy="135.5" r="1.0"/><circle cx="612.6" cy="128.8" r="1.0"/><circle cx="597.1" cy="137.1" r="1.0"/><circle cx="584.9" cy="138.3" r="1.0"/><circle cx="598.0" cy="138.8" r="1.0"/><circle cx="599.9" cy="122.4" r="1.0"/><circle cx="599.0" cy="127.6" r="1.0"/><circle cx="616.5" cy="139.1" r="1.0"/><circle cx="582.0" cy="133.1" r="1.0"/><circle cx="640.0" cy="136.2" r="1.0"/><circle cx="618.2" cy="127.6" r="1.0"/><circle cx="588.2" cy="139.7" r="1.0"/><circle cx="561.4" cy="138.8" r="1.0"/><circle cx="599.9" cy="135.7" r="1.0"/><circle cx="592.1" cy="123.4" r="1.0"/><circle cx="615.4" cy="130.0" r="1.0"/><circle cx="615.0" cy="135.3" r="1.0"/><circle cx="639.1" cy="131.7" r="1.0"/><circle cx="597.9" cy="138.9" r="1.0"/><circle cx="616.5" cy="126.4" r="1.0"/><circle cx="592.1" cy="138.1" r="1.0"/><circle cx="593.1" cy="139.2" r="1.0"/><circle cx="631.6" cy="129.4" r="1.0"/><circle cx="598.0" cy="136.6" r="1.0"/><circle cx="598.6" cy="133.4" r="1.0"/><circle cx="593.7" cy="134.0" r="1.0"/><circle cx="607.4" cy="138.7" r="1.0"/><circle cx="612.9" cy="130.4" r="1.0"/><circle cx="598.5" cy="136.8" r="1.0"/><circle cx="577.9" cy="129.9" r="1.0"/><circle cx="607.9" cy="139.4" r="1.0"/><circle cx="584.4" cy="135.9" r="1.0"/><circle cx="593.9" cy="137.5" r="1.0"/><circle cx="605.4" cy="138.7" r="1.0"/><circle cx="606.2" cy="137.3" r="1.0"/><circle cx="635.5" cy="138.8" r="1.0"/><circle cx="617.3" cy="139.7" r="1.0"/><circle cx="640.3" cy="137.3" r="1.0"/><circle cx="652.0" cy="134.4" r="1.0"/><circle cx="582.2" cy="138.3" r="1.0"/><circle cx="589.7" cy="135.2" r="1.0"/><circle cx="606.0" cy="114.9" r="1.0"/><circle cx="619.9" cy="131.9" r="1.0"/><circle cx="590.6" cy="136.5" r="1.0"/><circle cx="594.5" cy="119.4" r="1.0"/><circle cx="622.5" cy="139.3" r="1.0"/><circle cx="582.9" cy="137.5" r="1.0"/><circle cx="605.0" cy="133.1" r="1.0"/><circle cx="622.6" cy="138.5" r="1.0"/><circle cx="595.3" cy="139.0" r="1.0"/><circle cx="616.3" cy="125.3" r="1.0"/><circle cx="598.2" cy="133.6" r="1.0"/><circle cx="568.4" cy="139.4" r="1.0"/><circle cx="589.4" cy="139.0" r="1.0"/><circle cx="596.1" cy="138.7" r="1.0"/><circle cx="593.4" cy="139.7" r="1.0"/><circle cx="600.6" cy="134.2" r="1.0"/><circle cx="608.0" cy="134.9" r="1.0"/><circle cx="605.7" cy="136.9" r="1.0"/><circle cx="603.4" cy="134.2" r="1.0"/><circle cx="591.0" cy="131.4" r="1.0"/><circle cx="595.2" cy="133.4" r="1.0"/><circle cx="592.0" cy="137.1" r="1.0"/><circle cx="587.6" cy="139.0" r="1.0"/><circle cx="627.0" cy="137.4" r="1.0"/><circle cx="575.0" cy="50.3" r="1.0"/><circle cx="641.1" cy="70.7" r="1.0"/><circle cx="606.7" cy="77.9" r="1.0"/><circle cx="647.8" cy="88.0" r="1.0"/><circle cx="611.0" cy="97.6" r="1.0"/><circle cx="611.8" cy="99.6" r="1.0"/><circle cx="603.8" cy="100.8" r="1.0"/><circle cx="615.1" cy="103.2" r="1.0"/><circle cx="635.5" cy="103.6" r="1.0"/><circle cx="640.3" cy="109.2" r="1.0"/><circle cx="662.0" cy="111.6" r="1.0"/><circle cx="597.8" cy="111.3" r="1.0"/><circle cx="585.8" cy="111.6" r="1.0"/><circle cx="667.5" cy="117.3" r="1.0"/><circle cx="675.9" cy="119.3" r="1.0"/><circle cx="617.0" cy="113.2" r="1.0"/><circle cx="580.5" cy="115.6" r="1.0"/><circle cx="630.0" cy="118.0" r="1.0"/><circle cx="650.0" cy="122.0" r="1.0"/><circle cx="660.0" cy="127.0" r="1.0"/><circle cx="655.0" cy="131.0" r="1.0"/><circle cx="668.0" cy="135.0" r="1.0"/><circle cx="645.0" cy="138.0" r="1.0"/><circle cx="622.0" cy="116.0" r="1.0"/><circle cx="592.0" cy="113.5" r="1.0"/><circle cx="625.0" cy="126.0" r="1.0"/></g>
<line x1="549.50" y1="45.40" x2="549.50" y2="145.00" stroke="#808080" stroke-width="1.1"/>
<line x1="549.00" y1="144.50" x2="682.00" y2="144.50" stroke="#808080" stroke-width="1.1"/>
<line x1="555.90" y1="140.40" x2="676.50" y2="124.70" stroke="#111" stroke-width="1.1"/>
<text x="586.40" y="150.20" font-size="4.8" text-anchor="middle" fill="#999" stroke="#999" stroke-width="0.18">2</text>
<text x="628.60" y="150.20" font-size="4.8" text-anchor="middle" fill="#999" stroke="#999" stroke-width="0.18">4</text>
<text x="670.60" y="150.20" font-size="4.8" text-anchor="middle" fill="#999" stroke="#999" stroke-width="0.18">6</text>
<text x="547.00" y="141.53" font-size="4.8" text-anchor="end" fill="#999" stroke="#999" stroke-width="0.18">0</text>
<text x="547.00" y="123.13" font-size="4.8" text-anchor="end" fill="#999" stroke="#999" stroke-width="0.18">1</text>
<text x="547.00" y="104.53" font-size="4.8" text-anchor="end" fill="#999" stroke="#999" stroke-width="0.18">2</text>
<text x="547.00" y="86.13" font-size="4.8" text-anchor="end" fill="#999" stroke="#999" stroke-width="0.18">3</text>
<text x="547.00" y="67.43" font-size="4.8" text-anchor="end" fill="#999" stroke="#999" stroke-width="0.18">4</text>
<text x="547.00" y="48.73" font-size="4.8" text-anchor="end" fill="#999" stroke="#999" stroke-width="0.18">5</text>
<text x="614.90" y="158.40" font-size="6.7" text-anchor="middle" fill="#1a1a1a" stroke="#1a1a1a" stroke-width="0.18"><tspan font-style="italic">CD274</tspan> Expression</text>
<text x="538.40" y="94.40" font-size="6.7" text-anchor="middle" fill="#1a1a1a" stroke="#1a1a1a" stroke-width="0.18" transform="rotate(-90 538.40 94.40)">CD8<tspan dy="-2" font-size="4.5">+</tspan><tspan dy="2"> T Cell Fraction</tspan></text>
<text x="0.00" y="0.00" font-size="5.75" fill="#1a1a1a" stroke="#1a1a1a" stroke-width="0.18" transform="translate(647.00 44.35) scale(1 1.1)">R = 0.309</text>
<text x="0.00" y="0.00" font-size="5.75" fill="#1a1a1a" stroke="#1a1a1a" stroke-width="0.18" transform="translate(647.00 51.35) scale(1 1.1)">p = 1.71e-18</text>
<text x="0.00" y="0.00" font-size="7.75" text-anchor="middle" fill="#1a1a1a" stroke="#1a1a1a" stroke-width="0.18" transform="translate(92.70 189.10) scale(1 1.2)">TCGA-COAD (ssGSEA)</text>
<text x="0.00" y="0.00" font-size="7.75" text-anchor="middle" fill="#1a1a1a" stroke="#1a1a1a" stroke-width="0.18" transform="translate(266.00 189.10) scale(1 1.2)">TCGA-COAD (ssGSEA)</text>
<text x="0.00" y="0.00" font-size="7.75" text-anchor="middle" fill="#1a1a1a" stroke="#1a1a1a" stroke-width="0.18" transform="translate(447.20 189.10) scale(1 1.2)">E-MTAB-12862 (ssGSEA)</text>
<text x="0.00" y="0.00" font-size="7.75" text-anchor="middle" fill="#1a1a1a" stroke="#1a1a1a" stroke-width="0.18" transform="translate(607.90 189.10) scale(1 1.2)">E-MTAB-12862 (ssGSEA)</text>
<g fill="#111" fill-opacity="0.95"><circle cx="56.2" cy="260.0" r="0.66"/><circle cx="53.0" cy="266.1" r="0.66"/><circle cx="55.8" cy="256.5" r="0.66"/><circle cx="55.2" cy="248.4" r="0.66"/><circle cx="75.7" cy="247.9" r="0.66"/><circle cx="84.8" cy="247.5" r="0.66"/><circle cx="71.9" cy="246.5" r="0.66"/><circle cx="75.4" cy="243.4" r="0.66"/><circle cx="80.7" cy="240.5" r="0.66"/><circle cx="37.4" cy="265.3" r="0.66"/><circle cx="92.0" cy="240.0" r="0.66"/><circle cx="75.4" cy="239.6" r="0.66"/><circle cx="87.6" cy="230.6" r="0.66"/><circle cx="58.0" cy="256.3" r="0.66"/><circle cx="51.2" cy="269.9" r="0.66"/><circle cx="66.8" cy="255.3" r="0.66"/><circle cx="108.9" cy="232.8" r="0.66"/><circle cx="60.5" cy="252.8" r="0.66"/><circle cx="113.7" cy="224.4" r="0.66"/><circle cx="62.2" cy="249.0" r="0.66"/><circle cx="70.0" cy="245.9" r="0.66"/><circle cx="61.6" cy="248.5" r="0.66"/><circle cx="56.0" cy="251.5" r="0.66"/><circle cx="77.4" cy="238.8" r="0.66"/><circle cx="106.7" cy="229.6" r="0.66"/><circle cx="65.8" cy="265.4" r="0.66"/><circle cx="62.7" cy="258.4" r="0.66"/><circle cx="76.4" cy="245.4" r="0.66"/><circle cx="57.8" cy="279.9" r="0.66"/><circle cx="68.1" cy="253.6" r="0.66"/><circle cx="103.1" cy="218.0" r="0.66"/><circle cx="76.9" cy="233.7" r="0.66"/><circle cx="60.8" cy="253.0" r="0.66"/><circle cx="61.9" cy="259.4" r="0.66"/><circle cx="48.6" cy="257.7" r="0.66"/><circle cx="43.5" cy="268.6" r="0.66"/><circle cx="87.4" cy="243.6" r="0.66"/><circle cx="78.6" cy="244.4" r="0.66"/><circle cx="106.1" cy="237.0" r="0.66"/><circle cx="72.4" cy="248.1" r="0.66"/><circle cx="97.1" cy="234.2" r="0.66"/><circle cx="71.7" cy="245.0" r="0.66"/><circle cx="94.9" cy="230.3" r="0.66"/><circle cx="115.2" cy="217.4" r="0.66"/><circle cx="88.6" cy="237.6" r="0.66"/><circle cx="53.1" cy="260.6" r="0.66"/><circle cx="57.7" cy="250.5" r="0.66"/><circle cx="71.3" cy="253.4" r="0.66"/><circle cx="59.1" cy="259.5" r="0.66"/><circle cx="93.2" cy="239.9" r="0.66"/><circle cx="53.9" cy="253.9" r="0.66"/><circle cx="78.1" cy="247.9" r="0.66"/><circle cx="57.4" cy="267.6" r="0.66"/><circle cx="79.1" cy="246.1" r="0.66"/><circle cx="54.7" cy="265.5" r="0.66"/><circle cx="90.7" cy="243.1" r="0.66"/><circle cx="90.3" cy="232.2" r="0.66"/><circle cx="119.1" cy="224.5" r="0.66"/><circle cx="92.3" cy="237.2" r="0.66"/><circle cx="97.2" cy="235.7" r="0.66"/><circle cx="53.2" cy="256.8" r="0.66"/><circle cx="90.1" cy="236.2" r="0.66"/><circle cx="101.9" cy="229.5" r="0.66"/><circle cx="94.5" cy="236.3" r="0.66"/><circle cx="108.4" cy="218.1" r="0.66"/><circle cx="94.1" cy="230.9" r="0.66"/><circle cx="82.6" cy="238.7" r="0.66"/><circle cx="80.0" cy="243.4" r="0.66"/><circle cx="76.4" cy="246.1" r="0.66"/><circle cx="86.5" cy="232.9" r="0.66"/><circle cx="80.8" cy="248.1" r="0.66"/><circle cx="60.8" cy="255.3" r="0.66"/><circle cx="95.1" cy="237.0" r="0.66"/><circle cx="113.9" cy="221.0" r="0.66"/><circle cx="59.2" cy="260.4" r="0.66"/><circle cx="59.0" cy="278.7" r="0.66"/><circle cx="88.4" cy="240.9" r="0.66"/><circle cx="67.9" cy="264.7" r="0.66"/><circle cx="87.7" cy="237.5" r="0.66"/><circle cx="94.6" cy="234.4" r="0.66"/><circle cx="51.8" cy="262.9" r="0.66"/><circle cx="75.1" cy="240.5" r="0.66"/><circle cx="75.1" cy="243.1" r="0.66"/><circle cx="71.5" cy="244.0" r="0.66"/><circle cx="58.6" cy="264.5" r="0.66"/><circle cx="67.0" cy="248.6" r="0.66"/><circle cx="58.3" cy="257.2" r="0.66"/><circle cx="67.9" cy="249.6" r="0.66"/><circle cx="75.5" cy="241.7" r="0.66"/><circle cx="100.8" cy="243.9" r="0.66"/><circle cx="56.9" cy="269.0" r="0.66"/><circle cx="67.8" cy="270.3" r="0.66"/><circle cx="69.2" cy="244.1" r="0.66"/><circle cx="60.1" cy="246.7" r="0.66"/><circle cx="76.6" cy="247.8" r="0.66"/><circle cx="73.5" cy="250.5" r="0.66"/><circle cx="90.4" cy="232.2" r="0.66"/><circle cx="80.4" cy="243.8" r="0.66"/><circle cx="66.8" cy="250.2" r="0.66"/><circle cx="52.9" cy="277.5" r="0.66"/><circle cx="50.2" cy="276.0" r="0.66"/><circle cx="89.8" cy="239.9" r="0.66"/><circle cx="79.2" cy="255.2" r="0.66"/><circle cx="82.3" cy="248.2" r="0.66"/><circle cx="91.3" cy="249.8" r="0.66"/><circle cx="67.7" cy="250.7" r="0.66"/><circle cx="54.4" cy="258.0" r="0.66"/><circle cx="59.0" cy="266.7" r="0.66"/><circle cx="72.9" cy="257.1" r="0.66"/><circle cx="70.0" cy="242.4" r="0.66"/><circle cx="73.7" cy="244.4" r="0.66"/><circle cx="52.3" cy="254.2" r="0.66"/><circle cx="73.2" cy="247.1" r="0.66"/><circle cx="69.4" cy="251.0" r="0.66"/><circle cx="78.1" cy="249.8" r="0.66"/><circle cx="62.8" cy="262.2" r="0.66"/><circle cx="68.3" cy="243.6" r="0.66"/><circle cx="81.9" cy="237.3" r="0.66"/><circle cx="98.1" cy="231.1" r="0.66"/><circle cx="60.0" cy="256.8" r="0.66"/><circle cx="61.3" cy="249.2" r="0.66"/><circle cx="105.5" cy="227.8" r="0.66"/><circle cx="89.1" cy="244.2" r="0.66"/><circle cx="50.1" cy="257.2" r="0.66"/><circle cx="97.3" cy="233.6" r="0.66"/><circle cx="75.9" cy="242.9" r="0.66"/><circle cx="122.9" cy="216.3" r="0.66"/><circle cx="90.7" cy="232.7" r="0.66"/><circle cx="74.7" cy="243.4" r="0.66"/><circle cx="42.2" cy="263.2" r="0.66"/><circle cx="63.8" cy="251.5" r="0.66"/><circle cx="57.8" cy="256.6" r="0.66"/><circle cx="43.5" cy="267.2" r="0.66"/><circle cx="93.6" cy="232.9" r="0.66"/><circle cx="65.2" cy="248.8" r="0.66"/><circle cx="48.0" cy="257.7" r="0.66"/><circle cx="50.7" cy="256.3" r="0.66"/><circle cx="67.5" cy="248.5" r="0.66"/><circle cx="78.9" cy="246.5" r="0.66"/><circle cx="69.7" cy="249.9" r="0.66"/><circle cx="108.7" cy="227.1" r="0.66"/><circle cx="116.0" cy="216.8" r="0.66"/><circle cx="70.8" cy="263.9" r="0.66"/><circle cx="92.0" cy="234.7" r="0.66"/><circle cx="120.8" cy="221.1" r="0.66"/><circle cx="74.6" cy="245.1" r="0.66"/><circle cx="55.5" cy="267.4" r="0.66"/><circle cx="69.3" cy="252.5" r="0.66"/><circle cx="77.9" cy="263.2" r="0.66"/><circle cx="48.8" cy="264.5" r="0.66"/><circle cx="103.3" cy="229.8" r="0.66"/><circle cx="56.0" cy="258.4" r="0.66"/><circle cx="77.9" cy="247.7" r="0.66"/><circle cx="72.8" cy="237.8" r="0.66"/><circle cx="61.0" cy="251.2" r="0.66"/><circle cx="62.8" cy="259.8" r="0.66"/><circle cx="63.3" cy="246.9" r="0.66"/><circle cx="72.6" cy="235.8" r="0.66"/><circle cx="50.0" cy="264.5" r="0.66"/><circle cx="84.2" cy="247.9" r="0.66"/><circle cx="68.4" cy="245.3" r="0.66"/><circle cx="70.7" cy="249.0" r="0.66"/><circle cx="79.0" cy="240.0" r="0.66"/><circle cx="84.5" cy="236.2" r="0.66"/><circle cx="71.2" cy="247.2" r="0.66"/><circle cx="79.0" cy="248.9" r="0.66"/><circle cx="77.3" cy="244.2" r="0.66"/><circle cx="65.1" cy="254.3" r="0.66"/><circle cx="60.2" cy="248.5" r="0.66"/><circle cx="59.1" cy="253.1" r="0.66"/><circle cx="104.3" cy="231.6" r="0.66"/><circle cx="71.8" cy="254.7" r="0.66"/><circle cx="55.4" cy="266.8" r="0.66"/><circle cx="111.7" cy="225.5" r="0.66"/><circle cx="44.4" cy="273.0" r="0.66"/><circle cx="91.8" cy="234.5" r="0.66"/><circle cx="67.8" cy="240.6" r="0.66"/><circle cx="59.5" cy="250.2" r="0.66"/><circle cx="82.4" cy="247.4" r="0.66"/><circle cx="67.2" cy="240.8" r="0.66"/><circle cx="69.5" cy="242.3" r="0.66"/><circle cx="49.9" cy="251.3" r="0.66"/><circle cx="67.1" cy="251.3" r="0.66"/><circle cx="79.0" cy="234.7" r="0.66"/><circle cx="82.6" cy="236.8" r="0.66"/><circle cx="70.3" cy="243.0" r="0.66"/><circle cx="64.0" cy="255.8" r="0.66"/><circle cx="119.0" cy="223.7" r="0.66"/><circle cx="37.2" cy="269.4" r="0.66"/><circle cx="65.8" cy="253.0" r="0.66"/><circle cx="63.9" cy="253.7" r="0.66"/><circle cx="81.3" cy="239.3" r="0.66"/><circle cx="57.0" cy="251.5" r="0.66"/><circle cx="57.5" cy="252.6" r="0.66"/><circle cx="69.6" cy="239.7" r="0.66"/><circle cx="87.1" cy="238.8" r="0.66"/><circle cx="89.0" cy="238.9" r="0.66"/><circle cx="73.6" cy="243.3" r="0.66"/><circle cx="63.2" cy="260.2" r="0.66"/><circle cx="75.3" cy="244.4" r="0.66"/><circle cx="71.6" cy="268.7" r="0.66"/><circle cx="97.6" cy="236.3" r="0.66"/><circle cx="70.8" cy="244.1" r="0.66"/><circle cx="84.1" cy="237.3" r="0.66"/><circle cx="89.6" cy="233.5" r="0.66"/><circle cx="86.6" cy="235.1" r="0.66"/><circle cx="68.7" cy="241.6" r="0.66"/><circle cx="56.0" cy="252.7" r="0.66"/><circle cx="47.3" cy="279.5" r="0.66"/><circle cx="51.1" cy="274.3" r="0.66"/><circle cx="80.9" cy="240.4" r="0.66"/><circle cx="88.0" cy="240.0" r="0.66"/><circle cx="64.9" cy="246.9" r="0.66"/><circle cx="83.8" cy="233.8" r="0.66"/><circle cx="56.0" cy="265.2" r="0.66"/><circle cx="72.7" cy="248.2" r="0.66"/><circle cx="105.8" cy="228.9" r="0.66"/><circle cx="72.3" cy="247.2" r="0.66"/><circle cx="102.6" cy="236.7" r="0.66"/><circle cx="78.1" cy="239.1" r="0.66"/><circle cx="70.7" cy="242.5" r="0.66"/><circle cx="105.3" cy="224.9" r="0.66"/><circle cx="70.8" cy="255.3" r="0.66"/><circle cx="70.5" cy="247.3" r="0.66"/><circle cx="78.4" cy="251.7" r="0.66"/><circle cx="52.2" cy="258.3" r="0.66"/><circle cx="83.9" cy="234.0" r="0.66"/><circle cx="79.4" cy="250.3" r="0.66"/><circle cx="54.4" cy="260.4" r="0.66"/><circle cx="86.6" cy="244.2" r="0.66"/><circle cx="46.1" cy="257.4" r="0.66"/><circle cx="69.1" cy="242.6" r="0.66"/><circle cx="69.8" cy="246.9" r="0.66"/><circle cx="83.8" cy="238.6" r="0.66"/><circle cx="69.2" cy="244.8" r="0.66"/><circle cx="69.2" cy="247.4" r="0.66"/><circle cx="47.6" cy="260.9" r="0.66"/><circle cx="85.2" cy="236.5" r="0.66"/><circle cx="57.9" cy="247.8" r="0.66"/><circle cx="61.6" cy="260.7" r="0.66"/><circle cx="61.2" cy="247.7" r="0.66"/><circle cx="87.0" cy="244.6" r="0.66"/><circle cx="59.0" cy="260.5" r="0.66"/><circle cx="53.4" cy="256.1" r="0.66"/><circle cx="89.3" cy="233.1" r="0.66"/><circle cx="76.7" cy="267.5" r="0.66"/><circle cx="74.8" cy="244.0" r="0.66"/><circle cx="77.4" cy="240.9" r="0.66"/><circle cx="78.1" cy="247.7" r="0.66"/><circle cx="94.6" cy="232.4" r="0.66"/><circle cx="57.7" cy="250.3" r="0.66"/><circle cx="72.5" cy="243.6" r="0.66"/><circle cx="77.6" cy="251.0" r="0.66"/><circle cx="57.6" cy="250.3" r="0.66"/><circle cx="62.9" cy="265.5" r="0.66"/><circle cx="84.3" cy="232.8" r="0.66"/><circle cx="59.7" cy="251.6" r="0.66"/><circle cx="53.8" cy="252.9" r="0.66"/><circle cx="87.6" cy="235.2" r="0.66"/><circle cx="115.8" cy="225.1" r="0.66"/><circle cx="105.3" cy="225.8" r="0.66"/><circle cx="68.7" cy="244.7" r="0.66"/><circle cx="71.5" cy="242.9" r="0.66"/><circle cx="63.9" cy="246.4" r="0.66"/><circle cx="80.3" cy="242.1" r="0.66"/><circle cx="79.7" cy="246.2" r="0.66"/><circle cx="89.3" cy="237.7" r="0.66"/><circle cx="98.4" cy="230.8" r="0.66"/><circle cx="69.5" cy="246.8" r="0.66"/><circle cx="61.6" cy="250.6" r="0.66"/><circle cx="53.5" cy="268.9" r="0.66"/><circle cx="52.0" cy="260.1" r="0.66"/><circle cx="89.0" cy="231.1" r="0.66"/><circle cx="78.4" cy="240.3" r="0.66"/><circle cx="52.4" cy="255.7" r="0.66"/><circle cx="66.4" cy="266.0" r="0.66"/><circle cx="67.3" cy="249.0" r="0.66"/><circle cx="86.4" cy="234.9" r="0.66"/><circle cx="68.2" cy="248.5" r="0.66"/><circle cx="62.9" cy="253.8" r="0.66"/><circle cx="62.7" cy="268.0" r="0.66"/><circle cx="65.6" cy="247.8" r="0.66"/><circle cx="113.8" cy="228.9" r="0.66"/><circle cx="67.9" cy="253.2" r="0.66"/><circle cx="100.4" cy="226.1" r="0.66"/><circle cx="55.3" cy="263.7" r="0.66"/><circle cx="68.1" cy="247.2" r="0.66"/><circle cx="57.3" cy="262.2" r="0.66"/><circle cx="52.6" cy="251.9" r="0.66"/><circle cx="81.6" cy="245.0" r="0.66"/><circle cx="59.6" cy="267.2" r="0.66"/><circle cx="93.2" cy="235.9" r="0.66"/><circle cx="81.2" cy="245.1" r="0.66"/><circle cx="81.9" cy="238.0" r="0.66"/><circle cx="43.6" cy="277.2" r="0.66"/><circle cx="50.6" cy="268.3" r="0.66"/><circle cx="79.5" cy="241.4" r="0.66"/><circle cx="74.9" cy="246.5" r="0.66"/><circle cx="112.8" cy="219.0" r="0.66"/><circle cx="65.1" cy="250.7" r="0.66"/><circle cx="66.6" cy="243.7" r="0.66"/><circle cx="45.3" cy="259.7" r="0.66"/><circle cx="80.9" cy="237.4" r="0.66"/><circle cx="56.2" cy="251.3" r="0.66"/><circle cx="73.9" cy="242.0" r="0.66"/><circle cx="60.4" cy="273.8" r="0.66"/><circle cx="81.5" cy="243.0" r="0.66"/><circle cx="71.2" cy="273.1" r="0.66"/><circle cx="72.1" cy="245.2" r="0.66"/><circle cx="75.8" cy="242.5" r="0.66"/><circle cx="85.4" cy="245.6" r="0.66"/><circle cx="51.9" cy="269.2" r="0.66"/><circle cx="75.7" cy="244.1" r="0.66"/><circle cx="72.4" cy="250.0" r="0.66"/><circle cx="61.9" cy="274.7" r="0.66"/><circle cx="82.1" cy="227.9" r="0.66"/><circle cx="77.6" cy="244.2" r="0.66"/><circle cx="74.4" cy="242.0" r="0.66"/><circle cx="87.6" cy="235.0" r="0.66"/><circle cx="62.3" cy="264.5" r="0.66"/><circle cx="80.8" cy="247.0" r="0.66"/><circle cx="66.9" cy="251.2" r="0.66"/><circle cx="92.9" cy="229.6" r="0.66"/><circle cx="81.4" cy="241.4" r="0.66"/><circle cx="109.5" cy="216.5" r="0.66"/><circle cx="48.1" cy="266.0" r="0.66"/><circle cx="96.7" cy="232.9" r="0.66"/><circle cx="75.7" cy="248.8" r="0.66"/><circle cx="66.9" cy="259.4" r="0.66"/><circle cx="83.9" cy="250.7" r="0.66"/><circle cx="74.7" cy="245.7" r="0.66"/><circle cx="79.7" cy="242.6" r="0.66"/><circle cx="83.9" cy="231.4" r="0.66"/><circle cx="60.6" cy="246.3" r="0.66"/><circle cx="48.1" cy="258.9" r="0.66"/><circle cx="98.2" cy="235.3" r="0.66"/><circle cx="61.9" cy="247.4" r="0.66"/><circle cx="71.1" cy="246.9" r="0.66"/><circle cx="93.3" cy="237.0" r="0.66"/><circle cx="65.6" cy="264.5" r="0.66"/><circle cx="85.8" cy="243.9" r="0.66"/><circle cx="77.5" cy="240.4" r="0.66"/><circle cx="80.5" cy="242.7" r="0.66"/><circle cx="49.6" cy="269.6" r="0.66"/><circle cx="49.9" cy="264.8" r="0.66"/><circle cx="89.5" cy="244.7" r="0.66"/><circle cx="86.3" cy="242.3" r="0.66"/><circle cx="78.0" cy="247.2" r="0.66"/><circle cx="51.6" cy="257.3" r="0.66"/><circle cx="79.5" cy="248.2" r="0.66"/><circle cx="106.2" cy="228.0" r="0.66"/><circle cx="68.7" cy="251.6" r="0.66"/><circle cx="82.7" cy="241.3" r="0.66"/><circle cx="90.1" cy="228.9" r="0.66"/><circle cx="60.1" cy="257.0" r="0.66"/><circle cx="76.5" cy="244.5" r="0.66"/><circle cx="70.5" cy="255.0" r="0.66"/><circle cx="90.1" cy="234.5" r="0.66"/><circle cx="87.1" cy="239.4" r="0.66"/><circle cx="82.5" cy="246.4" r="0.66"/><circle cx="63.4" cy="250.0" r="0.66"/><circle cx="73.3" cy="245.1" r="0.66"/><circle cx="62.1" cy="251.5" r="0.66"/><circle cx="97.8" cy="231.1" r="0.66"/><circle cx="71.9" cy="236.6" r="0.66"/><circle cx="115.5" cy="230.9" r="0.66"/><circle cx="51.3" cy="255.9" r="0.66"/><circle cx="50.6" cy="265.0" r="0.66"/><circle cx="45.7" cy="262.8" r="0.66"/><circle cx="74.3" cy="247.5" r="0.66"/><circle cx="91.4" cy="245.6" r="0.66"/><circle cx="80.9" cy="239.9" r="0.66"/><circle cx="69.7" cy="250.8" r="0.66"/><circle cx="91.6" cy="229.1" r="0.66"/><circle cx="95.6" cy="236.3" r="0.66"/><circle cx="55.2" cy="266.6" r="0.66"/><circle cx="80.4" cy="243.8" r="0.66"/><circle cx="76.4" cy="250.8" r="0.66"/><circle cx="52.7" cy="266.4" r="0.66"/><circle cx="59.3" cy="262.7" r="0.66"/><circle cx="59.5" cy="259.4" r="0.66"/><circle cx="68.8" cy="250.9" r="0.66"/><circle cx="94.9" cy="227.4" r="0.66"/><circle cx="61.8" cy="259.2" r="0.66"/><circle cx="63.3" cy="262.2" r="0.66"/><circle cx="79.3" cy="247.3" r="0.66"/><circle cx="48.5" cy="263.4" r="0.66"/><circle cx="62.7" cy="256.0" r="0.66"/><circle cx="64.8" cy="248.7" r="0.66"/><circle cx="111.9" cy="228.2" r="0.66"/><circle cx="80.2" cy="247.8" r="0.66"/><circle cx="73.4" cy="248.9" r="0.66"/><circle cx="78.2" cy="235.1" r="0.66"/><circle cx="119.7" cy="214.1" r="0.66"/><circle cx="63.5" cy="251.5" r="0.66"/><circle cx="48.2" cy="265.4" r="0.66"/><circle cx="72.5" cy="246.0" r="0.66"/><circle cx="65.3" cy="258.3" r="0.66"/><circle cx="78.1" cy="245.3" r="0.66"/><circle cx="62.0" cy="257.8" r="0.66"/><circle cx="84.1" cy="238.4" r="0.66"/><circle cx="77.0" cy="248.7" r="0.66"/><circle cx="119.9" cy="223.0" r="0.66"/><circle cx="59.5" cy="251.1" r="0.66"/><circle cx="75.4" cy="245.5" r="0.66"/><circle cx="57.2" cy="267.0" r="0.66"/><circle cx="71.9" cy="238.7" r="0.66"/><circle cx="90.8" cy="240.6" r="0.66"/><circle cx="81.6" cy="242.5" r="0.66"/><circle cx="89.0" cy="234.8" r="0.66"/><circle cx="51.3" cy="256.5" r="0.66"/><circle cx="118.6" cy="218.8" r="0.66"/><circle cx="48.2" cy="269.6" r="0.66"/><circle cx="74.7" cy="250.9" r="0.66"/><circle cx="69.6" cy="245.9" r="0.66"/><circle cx="65.9" cy="251.6" r="0.66"/><circle cx="42.0" cy="260.8" r="0.66"/><circle cx="58.3" cy="258.3" r="0.66"/><circle cx="43.5" cy="276.9" r="0.66"/><circle cx="51.6" cy="255.1" r="0.66"/><circle cx="72.0" cy="254.2" r="0.66"/><circle cx="117.8" cy="220.9" r="0.66"/><circle cx="85.2" cy="240.6" r="0.66"/><circle cx="68.3" cy="248.3" r="0.66"/><circle cx="87.3" cy="240.2" r="0.66"/><circle cx="64.6" cy="248.5" r="0.66"/><circle cx="101.8" cy="232.3" r="0.66"/><circle cx="49.1" cy="266.2" r="0.66"/><circle cx="68.4" cy="248.3" r="0.66"/><circle cx="62.9" cy="254.1" r="0.66"/><circle cx="79.0" cy="245.5" r="0.66"/><circle cx="81.4" cy="249.6" r="0.66"/><circle cx="75.9" cy="238.9" r="0.66"/><circle cx="92.0" cy="235.9" r="0.66"/><circle cx="66.1" cy="236.0" r="0.66"/><circle cx="60.7" cy="246.7" r="0.66"/><circle cx="75.5" cy="246.8" r="0.66"/><circle cx="69.5" cy="251.5" r="0.66"/><circle cx="99.6" cy="225.1" r="0.66"/><circle cx="47.9" cy="253.7" r="0.66"/><circle cx="56.7" cy="248.7" r="0.66"/><circle cx="89.2" cy="230.9" r="0.66"/><circle cx="60.8" cy="247.6" r="0.66"/><circle cx="70.1" cy="257.0" r="0.66"/><circle cx="64.7" cy="253.3" r="0.66"/><circle cx="57.9" cy="264.0" r="0.66"/><circle cx="85.1" cy="242.7" r="0.66"/><circle cx="86.2" cy="243.2" r="0.66"/><circle cx="71.6" cy="253.3" r="0.66"/><circle cx="97.5" cy="242.8" r="0.66"/><circle cx="58.6" cy="255.1" r="0.66"/><circle cx="74.1" cy="244.2" r="0.66"/><circle cx="56.5" cy="276.0" r="0.66"/><circle cx="89.9" cy="232.2" r="0.66"/><circle cx="58.9" cy="258.7" r="0.66"/><circle cx="58.8" cy="254.8" r="0.66"/><circle cx="62.4" cy="271.6" r="0.66"/><circle cx="82.2" cy="244.0" r="0.66"/><circle cx="92.2" cy="244.3" r="0.66"/><circle cx="65.3" cy="264.2" r="0.66"/><circle cx="101.0" cy="231.5" r="0.66"/><circle cx="63.0" cy="252.1" r="0.66"/><circle cx="64.4" cy="249.7" r="0.66"/><circle cx="59.3" cy="257.5" r="0.66"/><circle cx="71.7" cy="245.0" r="0.66"/><circle cx="120.3" cy="220.0" r="0.66"/><circle cx="55.1" cy="256.9" r="0.66"/><circle cx="79.0" cy="247.2" r="0.66"/><circle cx="53.5" cy="270.3" r="0.66"/><circle cx="67.4" cy="247.3" r="0.66"/><circle cx="35.3" cy="261.5" r="0.66"/><circle cx="109.8" cy="281.6" r="0.66"/><circle cx="65.1" cy="286.2" r="0.66"/><circle cx="68.1" cy="276.3" r="0.66"/><circle cx="123.5" cy="250.0" r="0.66"/><circle cx="130.0" cy="255.0" r="0.66"/><circle cx="132.7" cy="239.7" r="0.66"/><circle cx="153.8" cy="226.0" r="0.66"/><circle cx="139.1" cy="230.5" r="0.66"/><circle cx="138.0" cy="214.5" r="0.66"/><circle cx="131.6" cy="222.5" r="0.66"/><circle cx="124.7" cy="216.1" r="0.66"/><circle cx="102.5" cy="256.9" r="0.66"/><circle cx="102.5" cy="259.2" r="0.66"/><circle cx="82.3" cy="266.0" r="0.66"/><circle cx="47.9" cy="287.8" r="0.66"/><circle cx="41.0" cy="288.5" r="0.66"/></g>
<line x1="29.50" y1="197.90" x2="29.50" y2="294.40" stroke="#666" stroke-width="0.9"/>
<line x1="29.00" y1="293.90" x2="165.00" y2="293.90" stroke="#bbb" stroke-width="1.7"/>
<line x1="35.30" y1="272.50" x2="159.00" y2="201.90" stroke="#3a55e6" stroke-width="0.85"/>
<text x="35.40" y="299.60" font-size="4.7" text-anchor="middle" fill="#444" stroke="#444" stroke-width="0.18">0</text>
<text x="71.50" y="299.60" font-size="4.7" text-anchor="middle" fill="#444" stroke="#444" stroke-width="0.18">2</text>
<text x="107.70" y="299.60" font-size="4.7" text-anchor="middle" fill="#444" stroke="#444" stroke-width="0.18">4</text>
<text x="143.90" y="299.60" font-size="4.7" text-anchor="middle" fill="#444" stroke="#444" stroke-width="0.18">6</text>
<text x="28.00" y="287.69" font-size="4.7" text-anchor="end" fill="#444" stroke="#444" stroke-width="0.18">0</text>
<text x="28.00" y="261.59" font-size="4.7" text-anchor="end" fill="#444" stroke="#444" stroke-width="0.18">2000</text>
<text x="28.00" y="235.29" font-size="4.7" text-anchor="end" fill="#444" stroke="#444" stroke-width="0.18">4000</text>
<text x="28.00" y="209.09" font-size="4.7" text-anchor="end" fill="#444" stroke="#444" stroke-width="0.18">6000</text>
<line x1="35.40" y1="293.90" x2="35.40" y2="295.20" stroke="#999" stroke-width="0.6"/>
<line x1="71.50" y1="293.90" x2="71.50" y2="295.20" stroke="#999" stroke-width="0.6"/>
<line x1="107.70" y1="293.90" x2="107.70" y2="295.20" stroke="#999" stroke-width="0.6"/>
<line x1="143.90" y1="293.90" x2="143.90" y2="295.20" stroke="#999" stroke-width="0.6"/>
<line x1="28.20" y1="286.00" x2="29.50" y2="286.00" stroke="#777" stroke-width="0.6"/>
<line x1="28.20" y1="259.90" x2="29.50" y2="259.90" stroke="#777" stroke-width="0.6"/>
<line x1="28.20" y1="233.60" x2="29.50" y2="233.60" stroke="#777" stroke-width="0.6"/>
<line x1="28.20" y1="207.40" x2="29.50" y2="207.40" stroke="#777" stroke-width="0.6"/>
<text x="0.00" y="0.00" font-size="5.7" text-anchor="middle" fill="#1a1a1a" stroke="#1a1a1a" stroke-width="0.18" transform="translate(93.30 307.80) scale(1 1.12)"><tspan font-style="italic">CD274</tspan> Expression</text>
<text x="14.50" y="245.90" font-size="5.85" text-anchor="middle" fill="#1a1a1a" stroke="#1a1a1a" stroke-width="0.18" transform="rotate(-90 14.50 245.90)">IFN−γ ssGSEA Score</text>
<text x="0.00" y="0.00" font-size="5.85" fill="#1a1a1a" stroke="#1a1a1a" stroke-width="0.18" transform="translate(123.00 283.80) scale(1 1.12)">R = 0.725</text>
<text x="0.00" y="0.00" font-size="5.85" fill="#1a1a1a" stroke="#1a1a1a" stroke-width="0.18" transform="translate(123.00 290.80) scale(1 1.12)">p = 2.2e−8</text>
<g fill="#111" fill-opacity="0.95"><circle cx="270.4" cy="230.8" r="0.68"/><circle cx="283.4" cy="231.5" r="0.68"/><circle cx="249.1" cy="250.8" r="0.68"/><circle cx="269.7" cy="229.0" r="0.68"/><circle cx="275.8" cy="235.8" r="0.68"/><circle cx="263.3" cy="275.1" r="0.68"/><circle cx="278.4" cy="233.9" r="0.68"/><circle cx="256.8" cy="263.8" r="0.68"/><circle cx="261.4" cy="248.3" r="0.68"/><circle cx="254.8" cy="232.6" r="0.68"/><circle cx="232.4" cy="269.0" r="0.68"/><circle cx="236.5" cy="242.3" r="0.68"/><circle cx="258.4" cy="231.5" r="0.68"/><circle cx="241.2" cy="224.6" r="0.68"/><circle cx="274.3" cy="226.1" r="0.68"/><circle cx="274.7" cy="252.7" r="0.68"/><circle cx="283.7" cy="233.5" r="0.68"/><circle cx="251.1" cy="265.9" r="0.68"/><circle cx="276.3" cy="235.3" r="0.68"/><circle cx="235.4" cy="256.9" r="0.68"/><circle cx="237.0" cy="235.2" r="0.68"/><circle cx="253.0" cy="247.9" r="0.68"/><circle cx="256.6" cy="255.8" r="0.68"/><circle cx="223.0" cy="270.2" r="0.68"/><circle cx="220.6" cy="264.8" r="0.68"/><circle cx="257.9" cy="260.9" r="0.68"/><circle cx="236.2" cy="256.6" r="0.68"/><circle cx="273.2" cy="239.6" r="0.68"/><circle cx="258.6" cy="249.3" r="0.68"/><circle cx="257.1" cy="258.6" r="0.68"/><circle cx="255.3" cy="248.2" r="0.68"/><circle cx="267.6" cy="238.5" r="0.68"/><circle cx="248.9" cy="236.6" r="0.68"/><circle cx="271.0" cy="240.0" r="0.68"/><circle cx="242.2" cy="239.0" r="0.68"/><circle cx="247.6" cy="269.7" r="0.68"/><circle cx="239.4" cy="239.6" r="0.68"/><circle cx="262.3" cy="269.4" r="0.68"/><circle cx="252.2" cy="260.8" r="0.68"/><circle cx="236.2" cy="252.3" r="0.68"/><circle cx="287.4" cy="233.2" r="0.68"/><circle cx="245.1" cy="237.7" r="0.68"/><circle cx="249.5" cy="238.2" r="0.68"/><circle cx="258.6" cy="234.9" r="0.68"/><circle cx="282.8" cy="233.4" r="0.68"/><circle cx="248.9" cy="256.3" r="0.68"/><circle cx="264.2" cy="231.1" r="0.68"/><circle cx="253.4" cy="245.7" r="0.68"/><circle cx="225.4" cy="254.6" r="0.68"/><circle cx="265.7" cy="236.7" r="0.68"/><circle cx="269.8" cy="236.9" r="0.68"/><circle cx="247.3" cy="241.9" r="0.68"/><circle cx="251.3" cy="240.8" r="0.68"/><circle cx="224.7" cy="262.4" r="0.68"/><circle cx="224.4" cy="274.8" r="0.68"/><circle cx="244.6" cy="245.1" r="0.68"/><circle cx="262.8" cy="247.0" r="0.68"/><circle cx="243.2" cy="254.5" r="0.68"/><circle cx="256.8" cy="240.1" r="0.68"/><circle cx="268.9" cy="248.6" r="0.68"/><circle cx="253.3" cy="247.8" r="0.68"/><circle cx="261.9" cy="242.2" r="0.68"/><circle cx="277.5" cy="222.6" r="0.68"/><circle cx="229.3" cy="226.8" r="0.68"/><circle cx="264.9" cy="240.5" r="0.68"/><circle cx="217.9" cy="256.4" r="0.68"/><circle cx="259.3" cy="246.2" r="0.68"/><circle cx="255.2" cy="227.2" r="0.68"/><circle cx="241.9" cy="246.3" r="0.68"/><circle cx="232.3" cy="240.3" r="0.68"/><circle cx="250.5" cy="225.4" r="0.68"/><circle cx="244.3" cy="219.5" r="0.68"/><circle cx="253.3" cy="245.0" r="0.68"/><circle cx="235.4" cy="267.6" r="0.68"/><circle cx="261.3" cy="240.6" r="0.68"/><circle cx="233.1" cy="275.4" r="0.68"/><circle cx="246.2" cy="204.4" r="0.68"/><circle cx="244.6" cy="247.5" r="0.68"/><circle cx="274.3" cy="239.9" r="0.68"/><circle cx="224.8" cy="237.6" r="0.68"/><circle cx="244.2" cy="253.1" r="0.68"/><circle cx="272.7" cy="219.1" r="0.68"/><circle cx="239.8" cy="267.6" r="0.68"/><circle cx="229.4" cy="277.3" r="0.68"/><circle cx="256.6" cy="237.7" r="0.68"/><circle cx="246.4" cy="266.7" r="0.68"/><circle cx="266.5" cy="254.7" r="0.68"/><circle cx="235.1" cy="239.1" r="0.68"/><circle cx="255.0" cy="252.0" r="0.68"/><circle cx="263.5" cy="241.4" r="0.68"/><circle cx="270.1" cy="243.2" r="0.68"/><circle cx="231.8" cy="240.2" r="0.68"/><circle cx="277.0" cy="234.4" r="0.68"/><circle cx="235.5" cy="256.0" r="0.68"/><circle cx="224.5" cy="264.9" r="0.68"/><circle cx="234.5" cy="248.5" r="0.68"/><circle cx="254.4" cy="234.6" r="0.68"/><circle cx="245.8" cy="266.5" r="0.68"/><circle cx="259.5" cy="230.1" r="0.68"/><circle cx="260.5" cy="244.2" r="0.68"/><circle cx="257.3" cy="239.1" r="0.68"/><circle cx="247.0" cy="238.3" r="0.68"/><circle cx="284.0" cy="237.6" r="0.68"/><circle cx="220.6" cy="281.1" r="0.68"/><circle cx="242.5" cy="236.6" r="0.68"/><circle cx="229.1" cy="238.7" r="0.68"/><circle cx="237.4" cy="255.0" r="0.68"/><circle cx="238.2" cy="240.9" r="0.68"/><circle cx="266.9" cy="250.8" r="0.68"/><circle cx="274.8" cy="224.7" r="0.68"/><circle cx="273.7" cy="231.3" r="0.68"/><circle cx="242.5" cy="243.4" r="0.68"/><circle cx="254.2" cy="242.5" r="0.68"/><circle cx="231.6" cy="245.0" r="0.68"/><circle cx="255.3" cy="244.6" r="0.68"/><circle cx="239.5" cy="238.3" r="0.68"/><circle cx="258.9" cy="245.6" r="0.68"/><circle cx="245.5" cy="256.3" r="0.68"/><circle cx="270.1" cy="215.0" r="0.68"/><circle cx="266.4" cy="215.0" r="0.68"/><circle cx="273.7" cy="223.3" r="0.68"/><circle cx="222.9" cy="270.7" r="0.68"/><circle cx="219.1" cy="264.4" r="0.68"/><circle cx="258.8" cy="275.4" r="0.68"/><circle cx="241.3" cy="270.6" r="0.68"/><circle cx="258.7" cy="212.9" r="0.68"/><circle cx="256.9" cy="268.3" r="0.68"/><circle cx="254.8" cy="238.9" r="0.68"/><circle cx="268.0" cy="227.8" r="0.68"/><circle cx="261.5" cy="250.6" r="0.68"/><circle cx="260.0" cy="231.3" r="0.68"/><circle cx="235.6" cy="260.9" r="0.68"/><circle cx="282.4" cy="218.5" r="0.68"/><circle cx="253.9" cy="240.9" r="0.68"/><circle cx="271.4" cy="235.8" r="0.68"/><circle cx="257.4" cy="242.7" r="0.68"/><circle cx="274.3" cy="218.4" r="0.68"/><circle cx="254.3" cy="260.2" r="0.68"/><circle cx="255.5" cy="250.8" r="0.68"/><circle cx="254.1" cy="264.4" r="0.68"/><circle cx="238.9" cy="254.5" r="0.68"/><circle cx="241.4" cy="248.0" r="0.68"/><circle cx="249.0" cy="251.3" r="0.68"/><circle cx="249.5" cy="244.4" r="0.68"/><circle cx="234.0" cy="258.7" r="0.68"/><circle cx="234.0" cy="243.0" r="0.68"/><circle cx="246.1" cy="249.4" r="0.68"/><circle cx="295.3" cy="222.3" r="0.68"/><circle cx="239.8" cy="255.2" r="0.68"/><circle cx="265.3" cy="224.1" r="0.68"/><circle cx="263.4" cy="260.3" r="0.68"/><circle cx="247.9" cy="267.6" r="0.68"/><circle cx="226.0" cy="277.0" r="0.68"/><circle cx="223.8" cy="244.7" r="0.68"/><circle cx="251.4" cy="210.6" r="0.68"/><circle cx="259.1" cy="224.6" r="0.68"/><circle cx="213.0" cy="267.8" r="0.68"/><circle cx="254.3" cy="242.9" r="0.68"/><circle cx="239.9" cy="243.6" r="0.68"/><circle cx="267.6" cy="241.6" r="0.68"/><circle cx="254.7" cy="248.6" r="0.68"/><circle cx="237.3" cy="241.9" r="0.68"/><circle cx="244.0" cy="260.1" r="0.68"/><circle cx="252.5" cy="285.6" r="0.68"/><circle cx="275.7" cy="209.3" r="0.68"/><circle cx="258.1" cy="249.6" r="0.68"/><circle cx="253.9" cy="220.1" r="0.68"/><circle cx="264.3" cy="251.5" r="0.68"/><circle cx="252.4" cy="243.3" r="0.68"/><circle cx="264.3" cy="242.2" r="0.68"/><circle cx="260.0" cy="238.6" r="0.68"/><circle cx="253.2" cy="260.8" r="0.68"/><circle cx="239.0" cy="245.7" r="0.68"/><circle cx="256.1" cy="232.4" r="0.68"/><circle cx="269.4" cy="241.5" r="0.68"/><circle cx="254.6" cy="241.2" r="0.68"/><circle cx="280.3" cy="225.4" r="0.68"/><circle cx="270.1" cy="227.2" r="0.68"/><circle cx="251.0" cy="243.1" r="0.68"/><circle cx="284.4" cy="224.3" r="0.68"/><circle cx="233.2" cy="254.4" r="0.68"/><circle cx="274.3" cy="243.1" r="0.68"/><circle cx="286.6" cy="266.2" r="0.68"/><circle cx="248.9" cy="225.2" r="0.68"/><circle cx="251.6" cy="246.6" r="0.68"/><circle cx="270.3" cy="230.5" r="0.68"/><circle cx="279.1" cy="222.3" r="0.68"/><circle cx="261.5" cy="248.5" r="0.68"/><circle cx="257.9" cy="233.7" r="0.68"/><circle cx="270.1" cy="241.7" r="0.68"/><circle cx="258.4" cy="243.1" r="0.68"/><circle cx="232.1" cy="278.5" r="0.68"/><circle cx="250.4" cy="237.9" r="0.68"/><circle cx="253.5" cy="240.3" r="0.68"/><circle cx="226.9" cy="274.8" r="0.68"/><circle cx="260.9" cy="230.7" r="0.68"/><circle cx="240.4" cy="239.2" r="0.68"/><circle cx="267.0" cy="243.8" r="0.68"/><circle cx="227.1" cy="274.9" r="0.68"/><circle cx="237.4" cy="251.5" r="0.68"/><circle cx="227.6" cy="272.9" r="0.68"/><circle cx="276.7" cy="230.6" r="0.68"/><circle cx="276.5" cy="226.9" r="0.68"/><circle cx="279.9" cy="245.6" r="0.68"/><circle cx="280.1" cy="220.1" r="0.68"/><circle cx="269.9" cy="253.8" r="0.68"/><circle cx="269.7" cy="220.0" r="0.68"/><circle cx="223.3" cy="248.4" r="0.68"/><circle cx="259.6" cy="245.1" r="0.68"/><circle cx="244.8" cy="236.9" r="0.68"/><circle cx="248.0" cy="236.8" r="0.68"/><circle cx="231.7" cy="227.3" r="0.68"/><circle cx="277.2" cy="229.2" r="0.68"/><circle cx="256.5" cy="248.1" r="0.68"/><circle cx="227.1" cy="237.4" r="0.68"/><circle cx="262.8" cy="247.9" r="0.68"/><circle cx="252.1" cy="257.1" r="0.68"/><circle cx="234.7" cy="260.4" r="0.68"/><circle cx="247.8" cy="256.2" r="0.68"/><circle cx="239.1" cy="262.4" r="0.68"/><circle cx="225.2" cy="236.8" r="0.68"/><circle cx="261.4" cy="246.2" r="0.68"/><circle cx="258.3" cy="238.8" r="0.68"/><circle cx="256.8" cy="234.5" r="0.68"/><circle cx="230.7" cy="248.0" r="0.68"/><circle cx="241.0" cy="266.5" r="0.68"/><circle cx="252.8" cy="256.7" r="0.68"/><circle cx="263.9" cy="226.8" r="0.68"/><circle cx="236.5" cy="257.4" r="0.68"/><circle cx="232.6" cy="255.4" r="0.68"/><circle cx="272.0" cy="228.9" r="0.68"/><circle cx="252.8" cy="238.9" r="0.68"/><circle cx="244.8" cy="251.7" r="0.68"/><circle cx="238.4" cy="239.0" r="0.68"/><circle cx="239.8" cy="262.0" r="0.68"/><circle cx="279.9" cy="252.7" r="0.68"/><circle cx="268.9" cy="246.0" r="0.68"/><circle cx="244.1" cy="238.5" r="0.68"/><circle cx="229.2" cy="256.6" r="0.68"/><circle cx="281.5" cy="241.7" r="0.68"/><circle cx="279.7" cy="237.4" r="0.68"/><circle cx="273.1" cy="241.6" r="0.68"/><circle cx="266.6" cy="223.5" r="0.68"/><circle cx="217.9" cy="262.8" r="0.68"/><circle cx="228.5" cy="234.6" r="0.68"/><circle cx="261.7" cy="260.0" r="0.68"/><circle cx="246.5" cy="255.3" r="0.68"/><circle cx="256.2" cy="239.0" r="0.68"/><circle cx="242.2" cy="249.1" r="0.68"/><circle cx="239.8" cy="275.7" r="0.68"/><circle cx="261.5" cy="222.0" r="0.68"/><circle cx="244.4" cy="246.5" r="0.68"/><circle cx="251.5" cy="254.2" r="0.68"/><circle cx="256.2" cy="261.1" r="0.68"/><circle cx="255.7" cy="244.4" r="0.68"/><circle cx="272.3" cy="231.4" r="0.68"/><circle cx="276.1" cy="232.7" r="0.68"/><circle cx="227.1" cy="257.0" r="0.68"/><circle cx="246.8" cy="255.1" r="0.68"/><circle cx="240.0" cy="236.2" r="0.68"/><circle cx="265.1" cy="233.3" r="0.68"/><circle cx="232.5" cy="249.7" r="0.68"/><circle cx="265.4" cy="240.0" r="0.68"/><circle cx="264.1" cy="235.0" r="0.68"/><circle cx="261.9" cy="231.6" r="0.68"/><circle cx="234.1" cy="238.2" r="0.68"/><circle cx="247.7" cy="251.3" r="0.68"/><circle cx="232.2" cy="261.2" r="0.68"/><circle cx="258.6" cy="255.9" r="0.68"/><circle cx="268.6" cy="252.9" r="0.68"/><circle cx="224.3" cy="244.7" r="0.68"/><circle cx="236.8" cy="227.1" r="0.68"/><circle cx="248.6" cy="246.5" r="0.68"/><circle cx="242.0" cy="256.2" r="0.68"/><circle cx="278.2" cy="220.8" r="0.68"/><circle cx="248.9" cy="218.0" r="0.68"/><circle cx="256.1" cy="252.9" r="0.68"/><circle cx="231.7" cy="249.6" r="0.68"/><circle cx="279.1" cy="242.2" r="0.68"/><circle cx="254.5" cy="241.8" r="0.68"/><circle cx="265.4" cy="253.0" r="0.68"/><circle cx="253.1" cy="259.1" r="0.68"/><circle cx="213.6" cy="275.2" r="0.68"/><circle cx="223.0" cy="249.3" r="0.68"/><circle cx="228.5" cy="256.0" r="0.68"/><circle cx="260.0" cy="241.6" r="0.68"/><circle cx="242.4" cy="248.9" r="0.68"/><circle cx="259.2" cy="244.9" r="0.68"/><circle cx="256.7" cy="242.2" r="0.68"/><circle cx="256.0" cy="246.3" r="0.68"/><circle cx="268.0" cy="221.0" r="0.68"/><circle cx="254.8" cy="226.4" r="0.68"/><circle cx="222.2" cy="251.8" r="0.68"/><circle cx="239.4" cy="235.2" r="0.68"/><circle cx="281.3" cy="227.6" r="0.68"/><circle cx="232.4" cy="257.5" r="0.68"/><circle cx="275.9" cy="234.5" r="0.68"/><circle cx="281.1" cy="228.3" r="0.68"/><circle cx="241.0" cy="259.8" r="0.68"/><circle cx="257.7" cy="262.3" r="0.68"/><circle cx="226.5" cy="249.9" r="0.68"/><circle cx="265.4" cy="228.6" r="0.68"/><circle cx="237.7" cy="268.7" r="0.68"/><circle cx="228.2" cy="231.4" r="0.68"/><circle cx="244.6" cy="257.0" r="0.68"/><circle cx="243.4" cy="247.0" r="0.68"/><circle cx="241.1" cy="255.6" r="0.68"/><circle cx="255.1" cy="255.6" r="0.68"/><circle cx="248.6" cy="242.3" r="0.68"/><circle cx="239.7" cy="261.2" r="0.68"/><circle cx="268.6" cy="231.2" r="0.68"/><circle cx="294.9" cy="223.0" r="0.68"/><circle cx="252.8" cy="247.7" r="0.68"/><circle cx="239.0" cy="236.9" r="0.68"/><circle cx="233.8" cy="244.8" r="0.68"/><circle cx="262.1" cy="241.1" r="0.68"/><circle cx="247.0" cy="247.0" r="0.68"/><circle cx="251.9" cy="244.4" r="0.68"/><circle cx="215.9" cy="254.1" r="0.68"/><circle cx="231.4" cy="266.5" r="0.68"/><circle cx="230.8" cy="271.5" r="0.68"/><circle cx="268.5" cy="234.8" r="0.68"/><circle cx="246.8" cy="250.3" r="0.68"/><circle cx="260.2" cy="244.0" r="0.68"/><circle cx="271.8" cy="238.4" r="0.68"/><circle cx="274.9" cy="230.7" r="0.68"/><circle cx="254.3" cy="236.1" r="0.68"/><circle cx="266.1" cy="232.3" r="0.68"/><circle cx="262.4" cy="234.7" r="0.68"/><circle cx="247.4" cy="265.8" r="0.68"/><circle cx="219.4" cy="240.8" r="0.68"/><circle cx="243.8" cy="247.0" r="0.68"/><circle cx="245.8" cy="249.6" r="0.68"/><circle cx="261.8" cy="259.3" r="0.68"/><circle cx="263.0" cy="239.8" r="0.68"/><circle cx="247.3" cy="243.6" r="0.68"/><circle cx="266.7" cy="233.6" r="0.68"/><circle cx="232.7" cy="247.0" r="0.68"/><circle cx="239.4" cy="271.7" r="0.68"/><circle cx="251.0" cy="264.7" r="0.68"/><circle cx="261.8" cy="207.2" r="0.68"/><circle cx="245.8" cy="266.9" r="0.68"/><circle cx="273.6" cy="232.9" r="0.68"/><circle cx="258.9" cy="237.4" r="0.68"/><circle cx="234.6" cy="255.4" r="0.68"/><circle cx="253.1" cy="270.7" r="0.68"/><circle cx="235.7" cy="261.7" r="0.68"/><circle cx="234.4" cy="254.5" r="0.68"/><circle cx="276.6" cy="226.9" r="0.68"/><circle cx="267.8" cy="236.8" r="0.68"/><circle cx="223.0" cy="266.2" r="0.68"/><circle cx="271.5" cy="250.9" r="0.68"/><circle cx="268.8" cy="252.2" r="0.68"/><circle cx="245.1" cy="231.8" r="0.68"/><circle cx="260.7" cy="229.3" r="0.68"/><circle cx="291.7" cy="219.5" r="0.68"/><circle cx="256.7" cy="234.1" r="0.68"/><circle cx="259.1" cy="260.6" r="0.68"/><circle cx="271.7" cy="233.7" r="0.68"/><circle cx="233.1" cy="255.2" r="0.68"/><circle cx="229.0" cy="255.5" r="0.68"/><circle cx="226.4" cy="268.4" r="0.68"/><circle cx="250.2" cy="247.1" r="0.68"/><circle cx="267.2" cy="250.2" r="0.68"/><circle cx="236.2" cy="242.5" r="0.68"/><circle cx="227.1" cy="258.8" r="0.68"/><circle cx="255.5" cy="229.5" r="0.68"/><circle cx="245.3" cy="245.9" r="0.68"/><circle cx="262.8" cy="244.4" r="0.68"/><circle cx="249.8" cy="235.8" r="0.68"/><circle cx="248.9" cy="234.1" r="0.68"/><circle cx="250.8" cy="247.4" r="0.68"/><circle cx="252.9" cy="240.2" r="0.68"/><circle cx="235.1" cy="258.1" r="0.68"/><circle cx="232.3" cy="252.1" r="0.68"/><circle cx="280.8" cy="235.3" r="0.68"/><circle cx="272.4" cy="245.1" r="0.68"/><circle cx="223.3" cy="277.9" r="0.68"/><circle cx="253.0" cy="244.1" r="0.68"/><circle cx="273.7" cy="249.3" r="0.68"/><circle cx="223.5" cy="269.2" r="0.68"/><circle cx="243.8" cy="270.4" r="0.68"/><circle cx="245.2" cy="229.7" r="0.68"/><circle cx="236.2" cy="253.4" r="0.68"/><circle cx="237.6" cy="253.9" r="0.68"/><circle cx="270.7" cy="247.0" r="0.68"/><circle cx="244.5" cy="249.4" r="0.68"/><circle cx="248.5" cy="254.4" r="0.68"/><circle cx="283.3" cy="235.3" r="0.68"/><circle cx="237.4" cy="237.3" r="0.68"/><circle cx="218.3" cy="237.6" r="0.68"/><circle cx="264.2" cy="273.2" r="0.68"/><circle cx="288.6" cy="244.5" r="0.68"/><circle cx="256.4" cy="249.5" r="0.68"/><circle cx="258.1" cy="256.8" r="0.68"/><circle cx="229.6" cy="261.5" r="0.68"/><circle cx="235.8" cy="253.4" r="0.68"/><circle cx="278.8" cy="232.8" r="0.68"/><circle cx="275.1" cy="248.2" r="0.68"/><circle cx="263.1" cy="261.4" r="0.68"/><circle cx="241.0" cy="283.5" r="0.68"/><circle cx="231.2" cy="249.7" r="0.68"/><circle cx="233.7" cy="238.8" r="0.68"/><circle cx="231.4" cy="237.2" r="0.68"/><circle cx="263.3" cy="244.8" r="0.68"/><circle cx="238.2" cy="270.9" r="0.68"/><circle cx="243.3" cy="272.0" r="0.68"/><circle cx="264.5" cy="227.1" r="0.68"/><circle cx="264.1" cy="241.0" r="0.68"/><circle cx="252.9" cy="213.6" r="0.68"/><circle cx="260.5" cy="231.3" r="0.68"/><circle cx="252.0" cy="249.5" r="0.68"/><circle cx="217.2" cy="245.9" r="0.68"/><circle cx="250.4" cy="249.5" r="0.68"/><circle cx="244.1" cy="248.3" r="0.68"/><circle cx="245.3" cy="257.1" r="0.68"/><circle cx="256.0" cy="236.5" r="0.68"/><circle cx="241.5" cy="261.2" r="0.68"/><circle cx="273.5" cy="240.1" r="0.68"/><circle cx="248.6" cy="254.6" r="0.68"/><circle cx="254.6" cy="236.6" r="0.68"/><circle cx="257.5" cy="233.3" r="0.68"/><circle cx="248.5" cy="249.9" r="0.68"/><circle cx="263.2" cy="235.4" r="0.68"/><circle cx="265.2" cy="257.8" r="0.68"/><circle cx="262.9" cy="248.8" r="0.68"/><circle cx="238.9" cy="263.5" r="0.68"/><circle cx="235.3" cy="285.3" r="0.68"/><circle cx="240.6" cy="269.2" r="0.68"/><circle cx="251.5" cy="251.4" r="0.68"/><circle cx="217.8" cy="262.8" r="0.68"/><circle cx="236.1" cy="249.1" r="0.68"/><circle cx="230.6" cy="232.9" r="0.68"/><circle cx="239.1" cy="250.4" r="0.68"/><circle cx="234.6" cy="238.0" r="0.68"/><circle cx="265.8" cy="240.7" r="0.68"/><circle cx="259.2" cy="247.3" r="0.68"/><circle cx="268.3" cy="239.1" r="0.68"/><circle cx="233.5" cy="274.5" r="0.68"/><circle cx="237.2" cy="263.3" r="0.68"/><circle cx="245.8" cy="256.3" r="0.68"/><circle cx="280.9" cy="222.1" r="0.68"/><circle cx="281.3" cy="228.9" r="0.68"/><circle cx="240.2" cy="247.7" r="0.68"/><circle cx="262.6" cy="250.5" r="0.68"/><circle cx="289.8" cy="228.3" r="0.68"/><circle cx="232.9" cy="267.9" r="0.68"/><circle cx="248.0" cy="208.3" r="0.68"/><circle cx="274.7" cy="236.1" r="0.68"/><circle cx="264.4" cy="264.6" r="0.68"/><circle cx="233.6" cy="244.4" r="0.68"/><circle cx="278.7" cy="241.9" r="0.68"/><circle cx="269.1" cy="225.2" r="0.68"/><circle cx="263.9" cy="242.3" r="0.68"/><circle cx="229.3" cy="271.7" r="0.68"/><circle cx="248.5" cy="238.7" r="0.68"/><circle cx="275.1" cy="240.9" r="0.68"/><circle cx="260.3" cy="207.6" r="0.68"/><circle cx="265.8" cy="221.3" r="0.68"/><circle cx="246.7" cy="266.0" r="0.68"/><circle cx="278.6" cy="220.3" r="0.68"/><circle cx="247.2" cy="273.4" r="0.68"/><circle cx="268.1" cy="237.0" r="0.68"/><circle cx="257.3" cy="244.0" r="0.68"/><circle cx="234.3" cy="243.6" r="0.68"/><circle cx="278.1" cy="240.9" r="0.68"/><circle cx="229.0" cy="263.9" r="0.68"/><circle cx="238.4" cy="261.3" r="0.68"/><circle cx="254.1" cy="234.4" r="0.68"/><circle cx="226.4" cy="251.6" r="0.68"/><circle cx="219.2" cy="252.6" r="0.68"/><circle cx="249.4" cy="241.5" r="0.68"/><circle cx="243.8" cy="251.8" r="0.68"/><circle cx="246.5" cy="227.6" r="0.68"/><circle cx="260.4" cy="251.2" r="0.68"/><circle cx="291.9" cy="207.9" r="0.68"/><circle cx="243.9" cy="233.8" r="0.68"/><circle cx="295.2" cy="239.8" r="0.68"/><circle cx="255.7" cy="236.1" r="0.68"/><circle cx="249.6" cy="237.9" r="0.68"/><circle cx="214.2" cy="281.6" r="0.68"/><circle cx="218.1" cy="289.0" r="0.68"/><circle cx="256.6" cy="280.2" r="0.68"/><circle cx="260.0" cy="205.8" r="0.68"/><circle cx="282.9" cy="201.9" r="0.68"/><circle cx="303.5" cy="209.2" r="0.68"/><circle cx="317.3" cy="211.5" r="0.68"/><circle cx="329.9" cy="216.8" r="0.68"/><circle cx="319.6" cy="228.2" r="0.68"/><circle cx="312.7" cy="237.4" r="0.68"/><circle cx="302.4" cy="257.3" r="0.68"/><circle cx="285.2" cy="264.9" r="0.68"/><circle cx="305.0" cy="226.0" r="0.68"/><circle cx="310.0" cy="232.0" r="0.68"/><circle cx="298.0" cy="222.0" r="0.68"/></g>
<line x1="208.60" y1="197.90" x2="208.60" y2="294.30" stroke="#bbb" stroke-width="1.4"/>
<line x1="208.10" y1="293.80" x2="342.60" y2="293.80" stroke="#bbb" stroke-width="1.4"/>
<line x1="215.30" y1="263.70" x2="337.40" y2="209.20" stroke="#d66a64" stroke-width="0.85"/>
<text x="214.60" y="299.60" font-size="4.7" text-anchor="middle" fill="#444" stroke="#444" stroke-width="0.18">0.0</text>
<text x="245.80" y="299.60" font-size="4.7" text-anchor="middle" fill="#444" stroke="#444" stroke-width="0.18">2.5</text>
<text x="276.50" y="299.60" font-size="4.7" text-anchor="middle" fill="#444" stroke="#444" stroke-width="0.18">5.0</text>
<text x="307.70" y="299.60" font-size="4.7" text-anchor="middle" fill="#444" stroke="#444" stroke-width="0.18">7.5</text>
<text x="337.90" y="299.60" font-size="4.7" text-anchor="middle" fill="#444" stroke="#444" stroke-width="0.18">10.0</text>
<text x="206.60" y="222.39" font-size="4.7" text-anchor="end" fill="#444" stroke="#444" stroke-width="0.18">2000</text>
<text x="206.60" y="248.89" font-size="4.7" text-anchor="end" fill="#444" stroke="#444" stroke-width="0.18">0</text>
<text x="206.60" y="276.19" font-size="4.7" text-anchor="end" fill="#444" stroke="#444" stroke-width="0.18">-2000</text>
<text x="0.00" y="0.00" font-size="5.7" text-anchor="middle" fill="#1a1a1a" stroke="#1a1a1a" stroke-width="0.18" transform="translate(277.70 307.80) scale(1 1.12)"><tspan font-style="italic">PTGS2</tspan> Expression</text>
<text x="188.80" y="246.40" font-size="5.7" text-anchor="middle" fill="#1a1a1a" stroke="#1a1a1a" stroke-width="0.18" transform="rotate(-90 188.80 246.40)">Inflammatory Response ssGSEA Score</text>
<text x="0.00" y="0.00" font-size="5.85" fill="#1a1a1a" stroke="#1a1a1a" stroke-width="0.18" transform="translate(307.80 283.80) scale(1 1.12)">R = 0.658</text>
<text x="0.00" y="0.00" font-size="5.85" fill="#1a1a1a" stroke="#1a1a1a" stroke-width="0.18" transform="translate(307.80 290.80) scale(1 1.12)">p = 2.2e−11</text>
<g fill="#2f86c4" fill-opacity="0.85"><circle cx="432.2" cy="248.7" r="0.72"/><circle cx="437.2" cy="242.9" r="0.72"/><circle cx="427.5" cy="265.4" r="0.72"/><circle cx="417.1" cy="254.8" r="0.72"/><circle cx="424.5" cy="263.4" r="0.72"/><circle cx="415.4" cy="273.8" r="0.72"/><circle cx="433.2" cy="255.2" r="0.72"/><circle cx="454.8" cy="250.8" r="0.72"/><circle cx="423.9" cy="260.1" r="0.72"/><circle cx="421.7" cy="259.3" r="0.72"/><circle cx="440.4" cy="250.6" r="0.72"/><circle cx="438.2" cy="246.4" r="0.72"/><circle cx="434.0" cy="255.8" r="0.72"/><circle cx="416.5" cy="265.1" r="0.72"/><circle cx="431.7" cy="266.1" r="0.72"/><circle cx="443.9" cy="246.4" r="0.72"/><circle cx="409.5" cy="276.4" r="0.72"/><circle cx="424.4" cy="263.3" r="0.72"/><circle cx="400.1" cy="276.8" r="0.72"/><circle cx="410.4" cy="267.7" r="0.72"/><circle cx="401.1" cy="288.3" r="0.72"/><circle cx="428.2" cy="269.4" r="0.72"/><circle cx="410.8" cy="271.3" r="0.72"/><circle cx="436.8" cy="247.8" r="0.72"/><circle cx="434.8" cy="250.0" r="0.72"/><circle cx="429.0" cy="249.7" r="0.72"/><circle cx="423.1" cy="256.8" r="0.72"/><circle cx="431.4" cy="255.3" r="0.72"/><circle cx="434.1" cy="261.3" r="0.72"/><circle cx="406.3" cy="279.3" r="0.72"/><circle cx="424.1" cy="263.6" r="0.72"/><circle cx="415.7" cy="263.6" r="0.72"/><circle cx="418.5" cy="262.0" r="0.72"/><circle cx="450.1" cy="242.5" r="0.72"/><circle cx="418.5" cy="264.9" r="0.72"/><circle cx="431.6" cy="250.0" r="0.72"/><circle cx="447.1" cy="242.9" r="0.72"/><circle cx="422.3" cy="258.9" r="0.72"/><circle cx="430.3" cy="253.4" r="0.72"/><circle cx="434.0" cy="257.6" r="0.72"/><circle cx="433.3" cy="261.9" r="0.72"/><circle cx="411.5" cy="264.6" r="0.72"/><circle cx="433.5" cy="250.5" r="0.72"/><circle cx="455.1" cy="240.9" r="0.72"/><circle cx="406.1" cy="275.3" r="0.72"/><circle cx="446.7" cy="227.1" r="0.72"/><circle cx="434.2" cy="259.1" r="0.72"/><circle cx="421.3" cy="263.5" r="0.72"/><circle cx="465.9" cy="229.9" r="0.72"/><circle cx="445.0" cy="255.0" r="0.72"/><circle cx="411.9" cy="267.2" r="0.72"/><circle cx="433.4" cy="239.7" r="0.72"/><circle cx="441.9" cy="240.8" r="0.72"/><circle cx="429.0" cy="251.8" r="0.72"/><circle cx="443.7" cy="242.2" r="0.72"/><circle cx="431.1" cy="254.5" r="0.72"/><circle cx="443.4" cy="239.5" r="0.72"/><circle cx="456.5" cy="239.5" r="0.72"/><circle cx="420.8" cy="265.5" r="0.72"/><circle cx="435.6" cy="251.5" r="0.72"/><circle cx="424.4" cy="252.8" r="0.72"/><circle cx="434.3" cy="250.6" r="0.72"/><circle cx="412.1" cy="262.8" r="0.72"/><circle cx="422.4" cy="276.9" r="0.72"/><circle cx="428.9" cy="247.5" r="0.72"/><circle cx="447.3" cy="226.1" r="0.72"/><circle cx="451.5" cy="231.2" r="0.72"/><circle cx="409.8" cy="272.0" r="0.72"/><circle cx="418.8" cy="270.2" r="0.72"/><circle cx="443.1" cy="245.1" r="0.72"/><circle cx="398.5" cy="284.8" r="0.72"/><circle cx="424.4" cy="254.2" r="0.72"/><circle cx="430.5" cy="259.8" r="0.72"/><circle cx="453.4" cy="232.8" r="0.72"/><circle cx="443.8" cy="236.1" r="0.72"/><circle cx="426.7" cy="274.1" r="0.72"/><circle cx="426.0" cy="256.5" r="0.72"/><circle cx="428.0" cy="262.9" r="0.72"/><circle cx="457.9" cy="248.3" r="0.72"/><circle cx="424.9" cy="264.2" r="0.72"/><circle cx="427.0" cy="259.7" r="0.72"/><circle cx="438.1" cy="242.5" r="0.72"/><circle cx="430.1" cy="267.8" r="0.72"/><circle cx="428.8" cy="248.6" r="0.72"/><circle cx="413.4" cy="251.5" r="0.72"/><circle cx="432.0" cy="250.0" r="0.72"/><circle cx="424.7" cy="255.3" r="0.72"/><circle cx="451.9" cy="241.5" r="0.72"/><circle cx="443.2" cy="256.3" r="0.72"/><circle cx="431.8" cy="250.7" r="0.72"/><circle cx="443.5" cy="244.0" r="0.72"/><circle cx="426.4" cy="252.7" r="0.72"/><circle cx="449.9" cy="222.6" r="0.72"/><circle cx="432.1" cy="249.0" r="0.72"/><circle cx="442.0" cy="244.7" r="0.72"/><circle cx="410.4" cy="257.0" r="0.72"/><circle cx="438.0" cy="261.1" r="0.72"/><circle cx="403.7" cy="282.6" r="0.72"/><circle cx="397.8" cy="280.6" r="0.72"/><circle cx="427.0" cy="263.1" r="0.72"/><circle cx="417.0" cy="259.4" r="0.72"/><circle cx="434.9" cy="255.2" r="0.72"/><circle cx="470.1" cy="215.6" r="0.72"/><circle cx="418.1" cy="252.1" r="0.72"/><circle cx="421.6" cy="255.6" r="0.72"/><circle cx="435.6" cy="255.3" r="0.72"/><circle cx="440.5" cy="244.2" r="0.72"/><circle cx="429.2" cy="250.2" r="0.72"/><circle cx="428.7" cy="265.2" r="0.72"/><circle cx="444.0" cy="243.9" r="0.72"/><circle cx="441.0" cy="243.2" r="0.72"/><circle cx="414.7" cy="264.6" r="0.72"/><circle cx="430.8" cy="243.2" r="0.72"/><circle cx="432.8" cy="244.7" r="0.72"/><circle cx="414.4" cy="273.0" r="0.72"/><circle cx="436.6" cy="250.7" r="0.72"/><circle cx="417.7" cy="270.8" r="0.72"/><circle cx="448.6" cy="239.0" r="0.72"/><circle cx="435.4" cy="259.2" r="0.72"/><circle cx="433.7" cy="246.4" r="0.72"/><circle cx="422.2" cy="258.2" r="0.72"/><circle cx="430.2" cy="248.3" r="0.72"/><circle cx="398.4" cy="278.3" r="0.72"/><circle cx="413.1" cy="278.8" r="0.72"/><circle cx="438.3" cy="236.7" r="0.72"/><circle cx="446.5" cy="234.3" r="0.72"/><circle cx="402.7" cy="271.0" r="0.72"/><circle cx="445.0" cy="240.8" r="0.72"/><circle cx="417.9" cy="249.9" r="0.72"/><circle cx="445.3" cy="243.1" r="0.72"/><circle cx="434.4" cy="242.2" r="0.72"/><circle cx="406.2" cy="283.6" r="0.72"/><circle cx="453.3" cy="233.6" r="0.72"/><circle cx="456.5" cy="240.1" r="0.72"/><circle cx="431.1" cy="256.4" r="0.72"/><circle cx="427.6" cy="257.6" r="0.72"/><circle cx="429.5" cy="253.7" r="0.72"/><circle cx="415.7" cy="252.7" r="0.72"/><circle cx="450.7" cy="256.6" r="0.72"/><circle cx="423.0" cy="260.4" r="0.72"/><circle cx="431.3" cy="260.7" r="0.72"/><circle cx="418.8" cy="254.5" r="0.72"/><circle cx="421.6" cy="265.0" r="0.72"/><circle cx="410.6" cy="265.5" r="0.72"/><circle cx="453.4" cy="243.4" r="0.72"/><circle cx="429.6" cy="251.1" r="0.72"/><circle cx="448.5" cy="235.7" r="0.72"/><circle cx="432.4" cy="257.5" r="0.72"/><circle cx="420.5" cy="262.1" r="0.72"/><circle cx="426.7" cy="269.4" r="0.72"/><circle cx="422.7" cy="258.5" r="0.72"/><circle cx="432.3" cy="247.8" r="0.72"/><circle cx="425.8" cy="263.2" r="0.72"/><circle cx="427.1" cy="249.2" r="0.72"/><circle cx="408.9" cy="286.4" r="0.72"/><circle cx="418.6" cy="278.2" r="0.72"/><circle cx="460.1" cy="246.7" r="0.72"/><circle cx="420.8" cy="266.0" r="0.72"/><circle cx="414.4" cy="266.4" r="0.72"/><circle cx="437.9" cy="251.4" r="0.72"/><circle cx="455.9" cy="239.2" r="0.72"/><circle cx="407.6" cy="265.4" r="0.72"/><circle cx="428.7" cy="260.6" r="0.72"/><circle cx="421.5" cy="271.6" r="0.72"/><circle cx="402.4" cy="284.2" r="0.72"/><circle cx="444.6" cy="229.8" r="0.72"/><circle cx="431.8" cy="273.2" r="0.72"/><circle cx="433.4" cy="255.1" r="0.72"/><circle cx="419.5" cy="251.7" r="0.72"/><circle cx="439.9" cy="245.7" r="0.72"/><circle cx="423.1" cy="267.2" r="0.72"/><circle cx="429.8" cy="256.2" r="0.72"/><circle cx="413.5" cy="260.4" r="0.72"/><circle cx="411.6" cy="258.9" r="0.72"/><circle cx="454.7" cy="246.5" r="0.72"/><circle cx="423.6" cy="254.4" r="0.72"/><circle cx="437.1" cy="249.3" r="0.72"/><circle cx="431.6" cy="246.3" r="0.72"/><circle cx="424.7" cy="248.7" r="0.72"/><circle cx="423.6" cy="263.0" r="0.72"/><circle cx="442.8" cy="258.8" r="0.72"/><circle cx="427.1" cy="254.9" r="0.72"/><circle cx="429.6" cy="242.4" r="0.72"/><circle cx="432.6" cy="249.0" r="0.72"/><circle cx="452.0" cy="239.5" r="0.72"/><circle cx="443.7" cy="228.1" r="0.72"/><circle cx="438.6" cy="258.4" r="0.72"/><circle cx="422.7" cy="253.9" r="0.72"/><circle cx="408.8" cy="274.7" r="0.72"/><circle cx="448.2" cy="243.4" r="0.72"/><circle cx="448.5" cy="242.9" r="0.72"/><circle cx="429.8" cy="244.4" r="0.72"/><circle cx="441.3" cy="255.7" r="0.72"/><circle cx="445.4" cy="249.9" r="0.72"/><circle cx="446.2" cy="257.6" r="0.72"/><circle cx="447.7" cy="240.3" r="0.72"/><circle cx="424.5" cy="263.3" r="0.72"/><circle cx="457.8" cy="234.1" r="0.72"/><circle cx="411.1" cy="277.1" r="0.72"/><circle cx="446.7" cy="247.6" r="0.72"/><circle cx="440.5" cy="240.9" r="0.72"/><circle cx="446.9" cy="246.0" r="0.72"/><circle cx="463.9" cy="228.4" r="0.72"/><circle cx="457.2" cy="233.6" r="0.72"/><circle cx="412.8" cy="270.3" r="0.72"/><circle cx="403.7" cy="285.9" r="0.72"/><circle cx="446.0" cy="237.6" r="0.72"/><circle cx="415.0" cy="264.7" r="0.72"/><circle cx="432.0" cy="247.0" r="0.72"/><circle cx="446.4" cy="260.8" r="0.72"/><circle cx="404.4" cy="286.1" r="0.72"/><circle cx="436.6" cy="258.5" r="0.72"/><circle cx="432.9" cy="245.9" r="0.72"/><circle cx="428.0" cy="252.9" r="0.72"/><circle cx="432.8" cy="254.4" r="0.72"/><circle cx="417.6" cy="263.3" r="0.72"/><circle cx="406.6" cy="265.8" r="0.72"/><circle cx="429.4" cy="258.8" r="0.72"/><circle cx="415.8" cy="262.5" r="0.72"/><circle cx="404.4" cy="272.1" r="0.72"/><circle cx="440.7" cy="265.9" r="0.72"/><circle cx="431.1" cy="258.3" r="0.72"/><circle cx="439.0" cy="239.4" r="0.72"/><circle cx="415.5" cy="268.9" r="0.72"/><circle cx="421.1" cy="263.1" r="0.72"/><circle cx="415.3" cy="270.6" r="0.72"/><circle cx="417.2" cy="268.4" r="0.72"/><circle cx="435.5" cy="243.6" r="0.72"/><circle cx="419.0" cy="265.5" r="0.72"/><circle cx="438.2" cy="258.5" r="0.72"/><circle cx="437.9" cy="275.0" r="0.72"/><circle cx="466.4" cy="236.1" r="0.72"/><circle cx="408.7" cy="285.7" r="0.72"/><circle cx="447.2" cy="258.8" r="0.72"/><circle cx="430.7" cy="249.4" r="0.72"/><circle cx="431.9" cy="249.2" r="0.72"/><circle cx="407.7" cy="286.0" r="0.72"/><circle cx="424.4" cy="253.1" r="0.72"/><circle cx="444.7" cy="242.6" r="0.72"/><circle cx="430.8" cy="261.6" r="0.72"/><circle cx="433.5" cy="247.9" r="0.72"/><circle cx="427.3" cy="270.6" r="0.72"/><circle cx="451.7" cy="250.9" r="0.72"/><circle cx="431.8" cy="266.1" r="0.72"/><circle cx="420.5" cy="255.6" r="0.72"/><circle cx="398.9" cy="287.3" r="0.72"/><circle cx="423.2" cy="268.0" r="0.72"/><circle cx="454.7" cy="238.0" r="0.72"/><circle cx="433.0" cy="256.7" r="0.72"/><circle cx="412.4" cy="261.1" r="0.72"/><circle cx="416.3" cy="270.8" r="0.72"/><circle cx="451.3" cy="251.8" r="0.72"/><circle cx="434.8" cy="256.7" r="0.72"/><circle cx="433.0" cy="253.8" r="0.72"/><circle cx="431.3" cy="262.5" r="0.72"/><circle cx="432.8" cy="252.0" r="0.72"/><circle cx="445.8" cy="231.3" r="0.72"/><circle cx="441.5" cy="252.9" r="0.72"/><circle cx="435.8" cy="251.9" r="0.72"/><circle cx="414.6" cy="255.9" r="0.72"/><circle cx="440.8" cy="253.9" r="0.72"/><circle cx="420.6" cy="269.0" r="0.72"/><circle cx="450.6" cy="250.8" r="0.72"/><circle cx="410.7" cy="266.0" r="0.72"/><circle cx="429.9" cy="252.2" r="0.72"/><circle cx="432.1" cy="255.9" r="0.72"/><circle cx="409.8" cy="269.4" r="0.72"/><circle cx="461.2" cy="225.3" r="0.72"/><circle cx="456.8" cy="231.4" r="0.72"/><circle cx="424.3" cy="270.9" r="0.72"/><circle cx="445.2" cy="246.1" r="0.72"/><circle cx="438.6" cy="249.6" r="0.72"/><circle cx="436.4" cy="253.7" r="0.72"/><circle cx="431.1" cy="260.5" r="0.72"/><circle cx="433.6" cy="257.4" r="0.72"/><circle cx="414.0" cy="280.8" r="0.72"/><circle cx="427.6" cy="258.0" r="0.72"/><circle cx="429.2" cy="261.5" r="0.72"/><circle cx="452.2" cy="237.7" r="0.72"/><circle cx="437.8" cy="259.0" r="0.72"/><circle cx="432.1" cy="258.3" r="0.72"/><circle cx="458.0" cy="245.1" r="0.72"/><circle cx="422.8" cy="269.4" r="0.72"/><circle cx="425.6" cy="253.8" r="0.72"/><circle cx="401.5" cy="279.0" r="0.72"/><circle cx="458.7" cy="233.6" r="0.72"/><circle cx="448.5" cy="252.7" r="0.72"/><circle cx="447.7" cy="243.7" r="0.72"/><circle cx="443.5" cy="260.5" r="0.72"/><circle cx="434.0" cy="257.4" r="0.72"/><circle cx="435.8" cy="256.4" r="0.72"/><circle cx="427.9" cy="253.2" r="0.72"/><circle cx="428.7" cy="255.8" r="0.72"/><circle cx="433.1" cy="255.6" r="0.72"/><circle cx="457.7" cy="231.2" r="0.72"/><circle cx="441.6" cy="247.1" r="0.72"/><circle cx="431.2" cy="251.4" r="0.72"/><circle cx="422.4" cy="255.5" r="0.72"/><circle cx="421.5" cy="262.6" r="0.72"/><circle cx="459.2" cy="239.1" r="0.72"/><circle cx="440.7" cy="246.6" r="0.72"/><circle cx="433.3" cy="257.4" r="0.72"/><circle cx="426.3" cy="255.8" r="0.72"/><circle cx="413.5" cy="258.8" r="0.72"/><circle cx="431.0" cy="249.0" r="0.72"/><circle cx="446.9" cy="248.0" r="0.72"/><circle cx="425.5" cy="269.4" r="0.72"/><circle cx="428.3" cy="257.9" r="0.72"/><circle cx="428.4" cy="258.4" r="0.72"/><circle cx="434.0" cy="245.1" r="0.72"/><circle cx="405.3" cy="276.0" r="0.72"/><circle cx="428.2" cy="259.2" r="0.72"/><circle cx="417.8" cy="258.9" r="0.72"/><circle cx="447.1" cy="248.6" r="0.72"/><circle cx="419.2" cy="264.9" r="0.72"/><circle cx="441.9" cy="235.1" r="0.72"/><circle cx="457.9" cy="226.1" r="0.72"/><circle cx="426.9" cy="253.6" r="0.72"/><circle cx="422.0" cy="259.7" r="0.72"/><circle cx="435.4" cy="260.3" r="0.72"/><circle cx="432.1" cy="250.6" r="0.72"/><circle cx="415.4" cy="265.7" r="0.72"/><circle cx="440.0" cy="248.0" r="0.72"/><circle cx="466.2" cy="236.2" r="0.72"/><circle cx="427.8" cy="258.0" r="0.72"/><circle cx="428.8" cy="258.7" r="0.72"/><circle cx="414.5" cy="264.3" r="0.72"/><circle cx="437.6" cy="240.2" r="0.72"/><circle cx="411.1" cy="266.3" r="0.72"/><circle cx="413.5" cy="280.4" r="0.72"/><circle cx="453.8" cy="248.0" r="0.72"/><circle cx="416.9" cy="277.5" r="0.72"/><circle cx="450.4" cy="248.9" r="0.72"/><circle cx="457.9" cy="233.3" r="0.72"/><circle cx="436.6" cy="248.9" r="0.72"/><circle cx="441.5" cy="253.3" r="0.72"/><circle cx="465.1" cy="230.8" r="0.72"/><circle cx="428.9" cy="263.1" r="0.72"/><circle cx="422.2" cy="272.7" r="0.72"/><circle cx="409.3" cy="281.2" r="0.72"/><circle cx="432.9" cy="261.2" r="0.72"/><circle cx="457.1" cy="227.1" r="0.72"/><circle cx="448.4" cy="254.5" r="0.72"/><circle cx="416.3" cy="255.9" r="0.72"/><circle cx="417.7" cy="254.3" r="0.72"/><circle cx="423.7" cy="262.1" r="0.72"/><circle cx="437.1" cy="252.0" r="0.72"/><circle cx="428.7" cy="262.1" r="0.72"/><circle cx="435.8" cy="252.7" r="0.72"/><circle cx="437.2" cy="246.5" r="0.72"/><circle cx="427.1" cy="258.3" r="0.72"/><circle cx="431.5" cy="247.7" r="0.72"/><circle cx="435.7" cy="243.4" r="0.72"/><circle cx="430.8" cy="253.3" r="0.72"/><circle cx="440.7" cy="246.7" r="0.72"/><circle cx="463.8" cy="234.3" r="0.72"/><circle cx="442.2" cy="245.6" r="0.72"/><circle cx="433.1" cy="263.0" r="0.72"/><circle cx="403.7" cy="270.9" r="0.72"/><circle cx="438.7" cy="249.0" r="0.72"/><circle cx="399.3" cy="283.7" r="0.72"/><circle cx="408.4" cy="254.2" r="0.72"/><circle cx="446.6" cy="252.9" r="0.72"/><circle cx="444.1" cy="253.8" r="0.72"/><circle cx="429.6" cy="254.5" r="0.72"/><circle cx="403.3" cy="289.4" r="0.72"/><circle cx="425.9" cy="265.4" r="0.72"/><circle cx="420.7" cy="274.5" r="0.72"/><circle cx="442.9" cy="255.3" r="0.72"/><circle cx="470.3" cy="230.5" r="0.72"/><circle cx="435.8" cy="250.0" r="0.72"/><circle cx="419.0" cy="255.2" r="0.72"/><circle cx="412.4" cy="262.0" r="0.72"/><circle cx="431.2" cy="246.4" r="0.72"/><circle cx="429.2" cy="252.4" r="0.72"/><circle cx="412.7" cy="271.7" r="0.72"/><circle cx="434.1" cy="245.0" r="0.72"/><circle cx="412.7" cy="271.8" r="0.72"/><circle cx="450.9" cy="247.2" r="0.72"/><circle cx="450.1" cy="231.1" r="0.72"/><circle cx="450.5" cy="236.6" r="0.72"/><circle cx="424.2" cy="258.7" r="0.72"/><circle cx="440.9" cy="243.3" r="0.72"/><circle cx="429.9" cy="249.7" r="0.72"/><circle cx="425.6" cy="270.0" r="0.72"/><circle cx="426.4" cy="259.6" r="0.72"/><circle cx="410.2" cy="278.9" r="0.72"/><circle cx="407.8" cy="270.4" r="0.72"/><circle cx="445.6" cy="251.2" r="0.72"/><circle cx="428.9" cy="246.6" r="0.72"/><circle cx="435.8" cy="248.5" r="0.72"/><circle cx="449.1" cy="250.0" r="0.72"/><circle cx="402.9" cy="274.8" r="0.72"/><circle cx="418.9" cy="273.3" r="0.72"/><circle cx="435.1" cy="252.7" r="0.72"/><circle cx="438.8" cy="246.3" r="0.72"/><circle cx="425.8" cy="257.2" r="0.72"/><circle cx="449.5" cy="258.4" r="0.72"/><circle cx="435.7" cy="255.2" r="0.72"/><circle cx="411.7" cy="264.8" r="0.72"/><circle cx="416.5" cy="263.2" r="0.72"/><circle cx="445.8" cy="236.9" r="0.72"/><circle cx="440.0" cy="259.8" r="0.72"/><circle cx="400.1" cy="272.4" r="0.72"/><circle cx="454.9" cy="244.8" r="0.72"/><circle cx="442.3" cy="246.7" r="0.72"/><circle cx="454.9" cy="236.6" r="0.72"/><circle cx="425.7" cy="254.0" r="0.72"/><circle cx="427.2" cy="262.9" r="0.72"/><circle cx="413.2" cy="266.3" r="0.72"/><circle cx="475.0" cy="235.4" r="0.72"/><circle cx="429.2" cy="268.0" r="0.72"/><circle cx="459.0" cy="232.7" r="0.72"/><circle cx="421.2" cy="262.8" r="0.72"/><circle cx="434.9" cy="265.8" r="0.72"/><circle cx="404.0" cy="280.6" r="0.72"/><circle cx="425.7" cy="259.2" r="0.72"/><circle cx="448.8" cy="231.8" r="0.72"/><circle cx="411.0" cy="261.1" r="0.72"/><circle cx="450.3" cy="236.7" r="0.72"/><circle cx="437.9" cy="265.1" r="0.72"/><circle cx="414.6" cy="267.6" r="0.72"/><circle cx="423.7" cy="257.0" r="0.72"/><circle cx="424.4" cy="257.2" r="0.72"/><circle cx="431.3" cy="252.3" r="0.72"/><circle cx="423.1" cy="262.9" r="0.72"/><circle cx="418.2" cy="250.7" r="0.72"/><circle cx="427.0" cy="247.0" r="0.72"/><circle cx="414.8" cy="267.4" r="0.72"/><circle cx="410.4" cy="277.3" r="0.72"/><circle cx="431.4" cy="239.6" r="0.72"/><circle cx="447.1" cy="249.3" r="0.72"/><circle cx="406.4" cy="263.0" r="0.72"/><circle cx="432.2" cy="240.1" r="0.72"/><circle cx="421.2" cy="269.8" r="0.72"/><circle cx="415.7" cy="263.8" r="0.72"/><circle cx="446.6" cy="248.1" r="0.72"/><circle cx="423.4" cy="256.9" r="0.72"/><circle cx="457.5" cy="235.6" r="0.72"/><circle cx="419.0" cy="248.7" r="0.72"/><circle cx="438.7" cy="246.1" r="0.72"/><circle cx="428.3" cy="257.7" r="0.72"/><circle cx="419.4" cy="254.8" r="0.72"/><circle cx="442.1" cy="250.5" r="0.72"/><circle cx="429.6" cy="259.6" r="0.72"/><circle cx="442.4" cy="230.7" r="0.72"/><circle cx="431.4" cy="262.0" r="0.72"/><circle cx="413.8" cy="271.1" r="0.72"/><circle cx="430.5" cy="255.8" r="0.72"/><circle cx="433.1" cy="262.7" r="0.72"/><circle cx="448.4" cy="260.6" r="0.72"/><circle cx="416.9" cy="257.1" r="0.72"/><circle cx="431.5" cy="261.6" r="0.72"/><circle cx="403.1" cy="278.8" r="0.72"/><circle cx="443.2" cy="250.6" r="0.72"/><circle cx="413.9" cy="274.9" r="0.72"/><circle cx="401.7" cy="283.9" r="0.72"/><circle cx="431.2" cy="254.5" r="0.72"/><circle cx="450.8" cy="223.8" r="0.72"/><circle cx="406.4" cy="266.6" r="0.72"/><circle cx="413.8" cy="261.5" r="0.72"/><circle cx="419.6" cy="275.2" r="0.72"/><circle cx="413.1" cy="268.0" r="0.72"/><circle cx="438.6" cy="260.0" r="0.72"/><circle cx="418.5" cy="258.2" r="0.72"/><circle cx="420.0" cy="265.0" r="0.72"/><circle cx="442.0" cy="248.1" r="0.72"/><circle cx="419.4" cy="264.3" r="0.72"/><circle cx="439.5" cy="254.7" r="0.72"/><circle cx="415.8" cy="277.9" r="0.72"/><circle cx="411.7" cy="264.2" r="0.72"/><circle cx="401.2" cy="286.6" r="0.72"/><circle cx="463.6" cy="243.2" r="0.72"/><circle cx="426.8" cy="261.0" r="0.72"/><circle cx="436.3" cy="257.8" r="0.72"/><circle cx="431.7" cy="253.3" r="0.72"/><circle cx="434.9" cy="245.3" r="0.72"/><circle cx="433.0" cy="252.5" r="0.72"/><circle cx="464.4" cy="231.9" r="0.72"/><circle cx="414.6" cy="266.6" r="0.72"/><circle cx="405.9" cy="266.0" r="0.72"/><circle cx="415.1" cy="280.9" r="0.72"/><circle cx="409.6" cy="267.3" r="0.72"/><circle cx="444.8" cy="253.9" r="0.72"/><circle cx="446.0" cy="255.4" r="0.72"/><circle cx="415.9" cy="265.9" r="0.72"/><circle cx="408.7" cy="273.8" r="0.72"/><circle cx="426.2" cy="254.5" r="0.72"/><circle cx="455.7" cy="230.7" r="0.72"/><circle cx="441.1" cy="249.6" r="0.72"/><circle cx="414.0" cy="251.9" r="0.72"/><circle cx="449.7" cy="236.5" r="0.72"/><circle cx="414.0" cy="256.0" r="0.72"/><circle cx="427.4" cy="257.5" r="0.72"/><circle cx="406.7" cy="283.3" r="0.72"/><circle cx="415.7" cy="274.9" r="0.72"/><circle cx="455.6" cy="233.8" r="0.72"/><circle cx="446.0" cy="238.3" r="0.72"/><circle cx="425.4" cy="265.3" r="0.72"/><circle cx="417.5" cy="267.0" r="0.72"/><circle cx="400.2" cy="274.4" r="0.72"/><circle cx="425.5" cy="273.1" r="0.72"/><circle cx="431.7" cy="258.1" r="0.72"/><circle cx="430.8" cy="243.4" r="0.72"/><circle cx="430.6" cy="239.0" r="0.72"/><circle cx="413.2" cy="268.6" r="0.72"/><circle cx="431.1" cy="241.5" r="0.72"/><circle cx="431.5" cy="259.6" r="0.72"/><circle cx="454.0" cy="246.7" r="0.72"/><circle cx="463.7" cy="251.4" r="0.72"/><circle cx="429.9" cy="249.1" r="0.72"/><circle cx="419.2" cy="266.6" r="0.72"/><circle cx="431.1" cy="237.5" r="0.72"/><circle cx="421.9" cy="259.3" r="0.72"/><circle cx="419.6" cy="262.0" r="0.72"/><circle cx="431.2" cy="269.8" r="0.72"/><circle cx="414.6" cy="255.1" r="0.72"/><circle cx="442.4" cy="251.0" r="0.72"/><circle cx="430.4" cy="257.5" r="0.72"/><circle cx="436.4" cy="269.4" r="0.72"/><circle cx="429.1" cy="249.9" r="0.72"/><circle cx="419.9" cy="255.6" r="0.72"/><circle cx="416.2" cy="270.5" r="0.72"/><circle cx="428.2" cy="257.0" r="0.72"/><circle cx="422.9" cy="258.2" r="0.72"/><circle cx="436.1" cy="244.9" r="0.72"/><circle cx="432.1" cy="254.3" r="0.72"/><circle cx="409.2" cy="257.0" r="0.72"/><circle cx="433.3" cy="256.2" r="0.72"/><circle cx="409.5" cy="275.0" r="0.72"/><circle cx="421.8" cy="265.6" r="0.72"/><circle cx="427.2" cy="278.1" r="0.72"/><circle cx="397.1" cy="284.8" r="0.72"/><circle cx="433.7" cy="246.1" r="0.72"/><circle cx="434.7" cy="251.2" r="0.72"/><circle cx="429.5" cy="263.2" r="0.72"/><circle cx="425.0" cy="257.1" r="0.72"/><circle cx="425.9" cy="275.0" r="0.72"/><circle cx="415.7" cy="268.3" r="0.72"/><circle cx="427.6" cy="254.0" r="0.72"/><circle cx="422.8" cy="255.8" r="0.72"/><circle cx="433.7" cy="260.0" r="0.72"/><circle cx="411.8" cy="261.5" r="0.72"/><circle cx="436.2" cy="237.8" r="0.72"/><circle cx="434.6" cy="256.7" r="0.72"/><circle cx="429.8" cy="250.8" r="0.72"/><circle cx="424.8" cy="272.1" r="0.72"/><circle cx="441.5" cy="264.1" r="0.72"/><circle cx="404.1" cy="269.1" r="0.72"/><circle cx="439.9" cy="249.4" r="0.72"/><circle cx="436.3" cy="250.7" r="0.72"/><circle cx="437.0" cy="256.3" r="0.72"/><circle cx="438.6" cy="252.9" r="0.72"/><circle cx="421.1" cy="256.1" r="0.72"/><circle cx="427.8" cy="244.5" r="0.72"/><circle cx="442.9" cy="249.5" r="0.72"/><circle cx="439.4" cy="263.0" r="0.72"/><circle cx="435.7" cy="242.7" r="0.72"/><circle cx="406.6" cy="267.4" r="0.72"/><circle cx="441.3" cy="243.6" r="0.72"/><circle cx="451.9" cy="240.3" r="0.72"/><circle cx="449.2" cy="225.4" r="0.72"/><circle cx="436.1" cy="251.7" r="0.72"/><circle cx="405.9" cy="268.6" r="0.72"/><circle cx="448.1" cy="258.8" r="0.72"/><circle cx="429.7" cy="261.2" r="0.72"/><circle cx="438.5" cy="250.9" r="0.72"/><circle cx="407.0" cy="269.2" r="0.72"/><circle cx="410.3" cy="275.5" r="0.72"/><circle cx="421.5" cy="248.7" r="0.72"/><circle cx="453.7" cy="248.9" r="0.72"/><circle cx="425.9" cy="262.7" r="0.72"/><circle cx="436.7" cy="250.0" r="0.72"/><circle cx="461.7" cy="244.9" r="0.72"/><circle cx="459.1" cy="232.5" r="0.72"/><circle cx="430.4" cy="251.2" r="0.72"/><circle cx="428.1" cy="260.0" r="0.72"/><circle cx="410.9" cy="254.4" r="0.72"/><circle cx="420.5" cy="262.2" r="0.72"/><circle cx="439.4" cy="248.0" r="0.72"/><circle cx="438.9" cy="258.0" r="0.72"/><circle cx="434.0" cy="266.8" r="0.72"/><circle cx="449.0" cy="248.6" r="0.72"/><circle cx="419.1" cy="266.2" r="0.72"/><circle cx="431.2" cy="259.2" r="0.72"/><circle cx="444.5" cy="240.7" r="0.72"/><circle cx="442.0" cy="267.0" r="0.72"/><circle cx="450.3" cy="251.7" r="0.72"/><circle cx="438.9" cy="264.7" r="0.72"/><circle cx="427.0" cy="248.0" r="0.72"/><circle cx="438.3" cy="255.3" r="0.72"/><circle cx="415.2" cy="270.3" r="0.72"/><circle cx="404.5" cy="282.1" r="0.72"/><circle cx="442.0" cy="241.4" r="0.72"/><circle cx="431.2" cy="258.8" r="0.72"/><circle cx="437.4" cy="249.8" r="0.72"/><circle cx="403.5" cy="290.1" r="0.72"/><circle cx="426.0" cy="250.0" r="0.72"/><circle cx="422.0" cy="258.7" r="0.72"/><circle cx="417.6" cy="260.4" r="0.72"/><circle cx="426.5" cy="260.3" r="0.72"/><circle cx="447.3" cy="246.1" r="0.72"/><circle cx="438.6" cy="245.0" r="0.72"/><circle cx="422.0" cy="258.4" r="0.72"/><circle cx="431.9" cy="257.0" r="0.72"/><circle cx="445.0" cy="246.1" r="0.72"/><circle cx="430.1" cy="250.8" r="0.72"/><circle cx="441.3" cy="241.5" r="0.72"/><circle cx="443.7" cy="247.2" r="0.72"/><circle cx="460.9" cy="221.0" r="0.72"/><circle cx="451.3" cy="254.1" r="0.72"/><circle cx="437.5" cy="253.2" r="0.72"/><circle cx="437.3" cy="238.2" r="0.72"/><circle cx="445.5" cy="249.3" r="0.72"/><circle cx="423.1" cy="273.6" r="0.72"/><circle cx="431.5" cy="244.5" r="0.72"/><circle cx="447.5" cy="240.4" r="0.72"/><circle cx="465.2" cy="242.1" r="0.72"/><circle cx="429.5" cy="250.7" r="0.72"/><circle cx="431.4" cy="263.5" r="0.72"/><circle cx="435.5" cy="263.2" r="0.72"/><circle cx="454.9" cy="240.9" r="0.72"/><circle cx="431.7" cy="259.1" r="0.72"/><circle cx="457.0" cy="246.9" r="0.72"/><circle cx="415.9" cy="268.8" r="0.72"/><circle cx="429.0" cy="264.9" r="0.72"/><circle cx="428.8" cy="256.7" r="0.72"/><circle cx="445.5" cy="246.2" r="0.72"/><circle cx="449.8" cy="237.3" r="0.72"/><circle cx="406.7" cy="275.6" r="0.72"/><circle cx="416.7" cy="275.7" r="0.72"/><circle cx="437.9" cy="261.5" r="0.72"/><circle cx="421.1" cy="264.3" r="0.72"/><circle cx="406.5" cy="260.2" r="0.72"/><circle cx="449.7" cy="236.6" r="0.72"/><circle cx="440.5" cy="254.4" r="0.72"/><circle cx="440.5" cy="242.0" r="0.72"/><circle cx="424.1" cy="269.4" r="0.72"/><circle cx="449.5" cy="235.4" r="0.72"/><circle cx="428.1" cy="260.7" r="0.72"/><circle cx="450.7" cy="236.5" r="0.72"/><circle cx="416.8" cy="260.4" r="0.72"/><circle cx="417.8" cy="266.8" r="0.72"/><circle cx="435.6" cy="250.1" r="0.72"/><circle cx="420.3" cy="271.2" r="0.72"/><circle cx="443.6" cy="247.9" r="0.72"/><circle cx="436.6" cy="243.5" r="0.72"/><circle cx="416.6" cy="233.3" r="0.72"/><circle cx="433.4" cy="248.6" r="0.72"/><circle cx="426.2" cy="258.2" r="0.72"/><circle cx="447.6" cy="252.5" r="0.72"/><circle cx="421.5" cy="253.8" r="0.72"/><circle cx="424.8" cy="272.9" r="0.72"/><circle cx="452.6" cy="247.5" r="0.72"/><circle cx="470.0" cy="226.8" r="0.72"/><circle cx="465.9" cy="241.7" r="0.72"/><circle cx="433.2" cy="242.2" r="0.72"/><circle cx="435.9" cy="243.9" r="0.72"/><circle cx="458.1" cy="242.0" r="0.72"/><circle cx="430.1" cy="260.7" r="0.72"/><circle cx="415.7" cy="276.3" r="0.72"/><circle cx="434.1" cy="264.6" r="0.72"/><circle cx="439.8" cy="246.4" r="0.72"/><circle cx="418.2" cy="259.4" r="0.72"/><circle cx="404.4" cy="270.8" r="0.72"/><circle cx="407.9" cy="269.1" r="0.72"/><circle cx="443.4" cy="251.8" r="0.72"/><circle cx="419.4" cy="260.7" r="0.72"/><circle cx="429.8" cy="268.1" r="0.72"/><circle cx="435.8" cy="252.5" r="0.72"/><circle cx="442.6" cy="236.4" r="0.72"/><circle cx="426.5" cy="248.4" r="0.72"/><circle cx="440.6" cy="252.9" r="0.72"/><circle cx="417.1" cy="267.6" r="0.72"/><circle cx="426.1" cy="248.2" r="0.72"/><circle cx="414.9" cy="252.5" r="0.72"/><circle cx="451.3" cy="253.8" r="0.72"/><circle cx="431.7" cy="258.6" r="0.72"/><circle cx="419.7" cy="261.5" r="0.72"/><circle cx="426.2" cy="249.4" r="0.72"/><circle cx="428.4" cy="264.0" r="0.72"/><circle cx="444.0" cy="242.0" r="0.72"/><circle cx="405.2" cy="275.4" r="0.72"/><circle cx="414.7" cy="248.1" r="0.72"/><circle cx="425.8" cy="255.8" r="0.72"/><circle cx="474.9" cy="227.3" r="0.72"/><circle cx="448.3" cy="246.7" r="0.72"/><circle cx="430.3" cy="247.9" r="0.72"/><circle cx="444.2" cy="241.6" r="0.72"/><circle cx="466.9" cy="240.1" r="0.72"/><circle cx="428.2" cy="255.9" r="0.72"/><circle cx="426.0" cy="269.6" r="0.72"/><circle cx="452.6" cy="247.1" r="0.72"/><circle cx="440.5" cy="259.5" r="0.72"/><circle cx="443.5" cy="257.7" r="0.72"/><circle cx="423.6" cy="266.1" r="0.72"/><circle cx="464.7" cy="240.8" r="0.72"/><circle cx="461.0" cy="231.4" r="0.72"/><circle cx="441.7" cy="242.3" r="0.72"/><circle cx="443.7" cy="249.1" r="0.72"/><circle cx="398.0" cy="286.7" r="0.72"/><circle cx="442.9" cy="241.4" r="0.72"/><circle cx="428.9" cy="273.0" r="0.72"/><circle cx="439.5" cy="265.1" r="0.72"/><circle cx="443.7" cy="241.5" r="0.72"/><circle cx="426.4" cy="253.7" r="0.72"/><circle cx="403.6" cy="266.4" r="0.72"/><circle cx="438.4" cy="252.5" r="0.72"/><circle cx="419.7" cy="273.2" r="0.72"/><circle cx="426.6" cy="262.7" r="0.72"/><circle cx="422.0" cy="257.3" r="0.72"/><circle cx="426.4" cy="264.8" r="0.72"/><circle cx="452.7" cy="252.1" r="0.72"/><circle cx="436.5" cy="261.2" r="0.72"/><circle cx="450.9" cy="235.7" r="0.72"/><circle cx="465.6" cy="228.9" r="0.72"/><circle cx="432.6" cy="263.8" r="0.72"/><circle cx="401.7" cy="283.8" r="0.72"/><circle cx="417.1" cy="269.5" r="0.72"/><circle cx="411.8" cy="264.3" r="0.72"/><circle cx="423.7" cy="269.8" r="0.72"/><circle cx="433.5" cy="255.3" r="0.72"/><circle cx="438.0" cy="260.9" r="0.72"/><circle cx="406.7" cy="268.7" r="0.72"/><circle cx="437.2" cy="244.5" r="0.72"/><circle cx="430.3" cy="265.2" r="0.72"/><circle cx="426.9" cy="264.5" r="0.72"/><circle cx="430.9" cy="249.5" r="0.72"/><circle cx="423.1" cy="264.1" r="0.72"/><circle cx="421.8" cy="266.1" r="0.72"/><circle cx="403.8" cy="269.9" r="0.72"/><circle cx="431.7" cy="253.7" r="0.72"/><circle cx="463.3" cy="225.3" r="0.72"/><circle cx="465.6" cy="226.3" r="0.72"/><circle cx="454.5" cy="244.5" r="0.72"/><circle cx="444.1" cy="247.9" r="0.72"/><circle cx="420.8" cy="263.1" r="0.72"/><circle cx="456.5" cy="249.2" r="0.72"/><circle cx="431.2" cy="263.2" r="0.72"/><circle cx="431.0" cy="248.1" r="0.72"/><circle cx="427.3" cy="270.6" r="0.72"/><circle cx="433.7" cy="246.1" r="0.72"/><circle cx="424.8" cy="257.6" r="0.72"/><circle cx="430.8" cy="257.0" r="0.72"/><circle cx="413.9" cy="263.0" r="0.72"/><circle cx="425.9" cy="255.4" r="0.72"/><circle cx="470.7" cy="219.6" r="0.72"/><circle cx="431.0" cy="258.8" r="0.72"/><circle cx="428.1" cy="259.4" r="0.72"/><circle cx="441.2" cy="250.8" r="0.72"/><circle cx="444.1" cy="232.2" r="0.72"/><circle cx="413.4" cy="260.1" r="0.72"/><circle cx="428.7" cy="264.5" r="0.72"/><circle cx="447.7" cy="247.1" r="0.72"/><circle cx="436.7" cy="257.4" r="0.72"/><circle cx="434.2" cy="253.4" r="0.72"/><circle cx="458.4" cy="235.6" r="0.72"/><circle cx="420.7" cy="244.6" r="0.72"/><circle cx="433.6" cy="268.3" r="0.72"/><circle cx="423.4" cy="252.7" r="0.72"/><circle cx="457.3" cy="234.6" r="0.72"/><circle cx="399.2" cy="282.5" r="0.72"/><circle cx="420.9" cy="263.7" r="0.72"/><circle cx="423.2" cy="264.8" r="0.72"/><circle cx="443.4" cy="247.0" r="0.72"/><circle cx="442.4" cy="240.1" r="0.72"/><circle cx="455.7" cy="251.0" r="0.72"/><circle cx="405.6" cy="262.4" r="0.72"/><circle cx="444.8" cy="249.3" r="0.72"/><circle cx="427.2" cy="246.4" r="0.72"/><circle cx="420.9" cy="259.2" r="0.72"/><circle cx="441.3" cy="239.1" r="0.72"/><circle cx="416.6" cy="260.9" r="0.72"/><circle cx="397.1" cy="269.9" r="0.72"/><circle cx="425.9" cy="258.6" r="0.72"/><circle cx="406.9" cy="278.3" r="0.72"/><circle cx="421.2" cy="257.0" r="0.72"/><circle cx="438.4" cy="245.1" r="0.72"/><circle cx="437.4" cy="234.9" r="0.72"/><circle cx="459.0" cy="252.6" r="0.72"/><circle cx="428.8" cy="258.7" r="0.72"/><circle cx="406.3" cy="263.9" r="0.72"/><circle cx="419.4" cy="273.2" r="0.72"/><circle cx="416.7" cy="267.0" r="0.72"/><circle cx="411.6" cy="252.1" r="0.72"/><circle cx="439.5" cy="238.8" r="0.72"/><circle cx="421.3" cy="269.0" r="0.72"/><circle cx="398.8" cy="266.1" r="0.72"/><circle cx="443.9" cy="237.7" r="0.72"/><circle cx="430.3" cy="250.0" r="0.72"/><circle cx="438.2" cy="247.8" r="0.72"/><circle cx="434.0" cy="251.8" r="0.72"/><circle cx="442.8" cy="254.5" r="0.72"/><circle cx="432.8" cy="258.4" r="0.72"/><circle cx="453.0" cy="235.1" r="0.72"/><circle cx="439.3" cy="248.9" r="0.72"/><circle cx="438.8" cy="235.9" r="0.72"/><circle cx="439.1" cy="252.8" r="0.72"/><circle cx="407.6" cy="290.1" r="0.72"/><circle cx="429.4" cy="259.3" r="0.72"/><circle cx="427.8" cy="255.6" r="0.72"/><circle cx="435.7" cy="249.5" r="0.72"/><circle cx="409.2" cy="269.7" r="0.72"/><circle cx="459.8" cy="242.7" r="0.72"/><circle cx="433.9" cy="241.9" r="0.72"/><circle cx="411.7" cy="273.7" r="0.72"/><circle cx="403.3" cy="268.6" r="0.72"/><circle cx="427.4" cy="260.2" r="0.72"/><circle cx="430.7" cy="265.2" r="0.72"/><circle cx="420.0" cy="251.9" r="0.72"/><circle cx="433.7" cy="273.4" r="0.72"/><circle cx="421.4" cy="268.7" r="0.72"/><circle cx="441.5" cy="245.2" r="0.72"/><circle cx="419.9" cy="265.8" r="0.72"/><circle cx="431.5" cy="249.4" r="0.72"/><circle cx="448.7" cy="244.5" r="0.72"/><circle cx="475.6" cy="229.2" r="0.72"/><circle cx="415.2" cy="249.3" r="0.72"/><circle cx="424.3" cy="261.7" r="0.72"/><circle cx="418.0" cy="265.5" r="0.72"/><circle cx="445.4" cy="254.3" r="0.72"/><circle cx="412.8" cy="273.6" r="0.72"/><circle cx="424.0" cy="255.2" r="0.72"/><circle cx="431.7" cy="250.7" r="0.72"/><circle cx="415.7" cy="265.8" r="0.72"/><circle cx="416.0" cy="271.1" r="0.72"/><circle cx="424.1" cy="254.8" r="0.72"/><circle cx="407.8" cy="273.8" r="0.72"/><circle cx="425.2" cy="261.4" r="0.72"/><circle cx="434.7" cy="259.7" r="0.72"/><circle cx="429.0" cy="255.6" r="0.72"/><circle cx="402.2" cy="280.0" r="0.72"/><circle cx="424.3" cy="266.2" r="0.72"/><circle cx="445.7" cy="231.6" r="0.72"/><circle cx="441.6" cy="242.6" r="0.72"/><circle cx="430.8" cy="246.2" r="0.72"/><circle cx="417.2" cy="264.3" r="0.72"/><circle cx="442.8" cy="240.0" r="0.72"/><circle cx="422.4" cy="255.2" r="0.72"/><circle cx="412.4" cy="258.5" r="0.72"/><circle cx="418.6" cy="245.3" r="0.72"/><circle cx="456.6" cy="240.0" r="0.72"/><circle cx="435.9" cy="250.2" r="0.72"/><circle cx="451.7" cy="241.9" r="0.72"/><circle cx="424.1" cy="287.5" r="0.72"/><circle cx="448.0" cy="254.9" r="0.72"/><circle cx="422.0" cy="261.3" r="0.72"/><circle cx="429.5" cy="251.5" r="0.72"/><circle cx="474.1" cy="231.0" r="0.72"/><circle cx="445.1" cy="237.1" r="0.72"/><circle cx="423.7" cy="250.3" r="0.72"/><circle cx="430.7" cy="258.8" r="0.72"/><circle cx="437.7" cy="239.8" r="0.72"/><circle cx="452.6" cy="227.3" r="0.72"/><circle cx="423.9" cy="256.5" r="0.72"/><circle cx="402.8" cy="282.0" r="0.72"/><circle cx="427.5" cy="246.3" r="0.72"/><circle cx="432.4" cy="255.7" r="0.72"/><circle cx="434.0" cy="256.3" r="0.72"/><circle cx="454.4" cy="238.8" r="0.72"/><circle cx="437.5" cy="255.2" r="0.72"/><circle cx="445.9" cy="237.0" r="0.72"/><circle cx="413.6" cy="261.0" r="0.72"/><circle cx="446.8" cy="235.2" r="0.72"/><circle cx="467.6" cy="226.3" r="0.72"/><circle cx="445.2" cy="252.0" r="0.72"/><circle cx="436.5" cy="253.0" r="0.72"/><circle cx="434.8" cy="246.0" r="0.72"/><circle cx="462.3" cy="237.5" r="0.72"/><circle cx="416.5" cy="242.3" r="0.72"/><circle cx="430.3" cy="257.7" r="0.72"/><circle cx="439.9" cy="253.9" r="0.72"/><circle cx="444.7" cy="237.2" r="0.72"/><circle cx="424.8" cy="253.7" r="0.72"/><circle cx="437.4" cy="251.3" r="0.72"/><circle cx="427.5" cy="259.5" r="0.72"/><circle cx="434.2" cy="249.9" r="0.72"/><circle cx="429.9" cy="249.6" r="0.72"/><circle cx="412.9" cy="261.6" r="0.72"/><circle cx="431.8" cy="257.2" r="0.72"/><circle cx="447.0" cy="241.3" r="0.72"/><circle cx="415.8" cy="258.9" r="0.72"/><circle cx="428.1" cy="251.3" r="0.72"/><circle cx="443.4" cy="271.1" r="0.72"/><circle cx="414.1" cy="273.6" r="0.72"/><circle cx="435.3" cy="258.6" r="0.72"/><circle cx="414.3" cy="268.4" r="0.72"/><circle cx="451.3" cy="240.3" r="0.72"/><circle cx="471.2" cy="221.2" r="0.72"/><circle cx="466.3" cy="226.9" r="0.72"/><circle cx="428.5" cy="258.1" r="0.72"/><circle cx="444.7" cy="246.0" r="0.72"/><circle cx="434.2" cy="239.5" r="0.72"/><circle cx="433.9" cy="258.2" r="0.72"/><circle cx="458.3" cy="234.7" r="0.72"/><circle cx="409.9" cy="257.3" r="0.72"/><circle cx="450.0" cy="239.9" r="0.72"/><circle cx="431.3" cy="271.1" r="0.72"/><circle cx="456.0" cy="235.7" r="0.72"/><circle cx="435.3" cy="255.5" r="0.72"/><circle cx="469.0" cy="214.5" r="0.72"/><circle cx="476.0" cy="215.0" r="0.72"/><circle cx="484.0" cy="218.0" r="0.72"/><circle cx="488.0" cy="233.0" r="0.72"/><circle cx="478.0" cy="240.0" r="0.72"/><circle cx="492.0" cy="216.0" r="0.72"/><circle cx="498.0" cy="214.0" r="0.72"/><circle cx="500.0" cy="223.0" r="0.72"/><circle cx="482.0" cy="246.0" r="0.72"/><circle cx="479.0" cy="233.5" r="0.72"/><circle cx="472.0" cy="229.0" r="0.72"/><circle cx="493.5" cy="238.0" r="0.72"/><circle cx="485.0" cy="224.0" r="0.72"/><circle cx="394.4" cy="288.4" r="0.72"/><circle cx="398.5" cy="290.6" r="0.72"/><circle cx="401.4" cy="291.0" r="0.72"/><circle cx="398.3" cy="285.5" r="0.72"/><circle cx="404.9" cy="288.4" r="0.72"/><circle cx="407.3" cy="285.3" r="0.72"/><circle cx="400.0" cy="281.7" r="0.72"/><circle cx="402.8" cy="280.2" r="0.72"/></g>
<line x1="389.50" y1="204.40" x2="389.50" y2="296.00" stroke="#555" stroke-width="0.9"/>
<line x1="389.00" y1="295.50" x2="506.70" y2="295.50" stroke="#555" stroke-width="0.9"/>
<line x1="394.90" y1="279.50" x2="500.90" y2="208.40" stroke="#111" stroke-width="0.95"/>
<text x="423.00" y="301.00" font-size="4.7" text-anchor="middle" fill="#666" stroke="#666" stroke-width="0.18">2</text>
<text x="459.50" y="301.00" font-size="4.7" text-anchor="middle" fill="#666" stroke="#666" stroke-width="0.18">4</text>
<text x="496.40" y="301.00" font-size="4.7" text-anchor="middle" fill="#666" stroke="#666" stroke-width="0.18">6</text>
<text x="387.40" y="287.69" font-size="4.7" text-anchor="end" fill="#666" stroke="#666" stroke-width="0.18">4000</text>
<text x="387.40" y="265.99" font-size="4.7" text-anchor="end" fill="#666" stroke="#666" stroke-width="0.18">5000</text>
<text x="387.40" y="243.99" font-size="4.7" text-anchor="end" fill="#666" stroke="#666" stroke-width="0.18">6000</text>
<text x="387.40" y="222.69" font-size="4.7" text-anchor="end" fill="#666" stroke="#666" stroke-width="0.18">7000</text>
<text x="0.00" y="0.00" font-size="5.7" text-anchor="middle" fill="#1a1a1a" stroke="#1a1a1a" stroke-width="0.18" transform="translate(453.60 307.80) scale(1 1.12)"><tspan font-style="italic">CD274</tspan> Expression</text>
<text x="373.40" y="245.30" font-size="5.95" text-anchor="middle" fill="#1a1a1a" stroke="#1a1a1a" stroke-width="0.18" transform="rotate(-90 373.40 245.30)">IFN−γ ssGSEA Score</text>
<text x="0.00" y="0.00" font-size="5.85" fill="#1a1a1a" stroke="#1a1a1a" stroke-width="0.18" transform="translate(475.10 283.80) scale(1 1.12)">R = 0.82</text>
<text x="0.00" y="0.00" font-size="5.85" fill="#1a1a1a" stroke="#1a1a1a" stroke-width="0.18" transform="translate(475.10 290.80) scale(1 1.12)">p = 2.4e−14</text>
<g fill="#e03a3a" fill-opacity="0.72"><circle cx="567.8" cy="264.7" r="0.88"/><circle cx="576.1" cy="263.2" r="0.88"/><circle cx="575.5" cy="265.9" r="0.88"/><circle cx="596.3" cy="242.7" r="0.88"/><circle cx="556.0" cy="276.9" r="0.88"/><circle cx="599.6" cy="240.7" r="0.88"/><circle cx="583.8" cy="278.3" r="0.88"/><circle cx="621.9" cy="236.7" r="0.88"/><circle cx="623.2" cy="221.8" r="0.88"/><circle cx="632.1" cy="235.6" r="0.88"/><circle cx="619.3" cy="225.2" r="0.88"/><circle cx="602.4" cy="243.1" r="0.88"/><circle cx="621.2" cy="250.7" r="0.88"/><circle cx="634.4" cy="223.5" r="0.88"/><circle cx="590.1" cy="266.1" r="0.88"/><circle cx="616.1" cy="244.7" r="0.88"/><circle cx="602.6" cy="242.7" r="0.88"/><circle cx="633.1" cy="223.7" r="0.88"/><circle cx="586.3" cy="247.6" r="0.88"/><circle cx="597.3" cy="252.6" r="0.88"/><circle cx="611.0" cy="255.9" r="0.88"/><circle cx="608.8" cy="241.9" r="0.88"/><circle cx="569.8" cy="279.5" r="0.88"/><circle cx="610.9" cy="244.1" r="0.88"/><circle cx="601.1" cy="238.6" r="0.88"/><circle cx="598.6" cy="240.2" r="0.88"/><circle cx="600.3" cy="252.8" r="0.88"/><circle cx="608.0" cy="237.1" r="0.88"/><circle cx="566.2" cy="228.2" r="0.88"/><circle cx="635.4" cy="229.1" r="0.88"/><circle cx="585.8" cy="246.2" r="0.88"/><circle cx="557.5" cy="271.5" r="0.88"/><circle cx="601.8" cy="244.2" r="0.88"/><circle cx="633.5" cy="243.3" r="0.88"/><circle cx="592.9" cy="245.7" r="0.88"/><circle cx="635.4" cy="226.9" r="0.88"/><circle cx="635.5" cy="231.4" r="0.88"/><circle cx="585.8" cy="262.9" r="0.88"/><circle cx="578.1" cy="280.3" r="0.88"/><circle cx="627.9" cy="221.3" r="0.88"/><circle cx="586.7" cy="242.4" r="0.88"/><circle cx="572.5" cy="260.2" r="0.88"/><circle cx="576.0" cy="284.4" r="0.88"/><circle cx="603.5" cy="240.2" r="0.88"/><circle cx="603.0" cy="242.1" r="0.88"/><circle cx="621.4" cy="228.6" r="0.88"/><circle cx="623.8" cy="235.0" r="0.88"/><circle cx="584.4" cy="264.2" r="0.88"/><circle cx="600.3" cy="235.3" r="0.88"/><circle cx="580.2" cy="262.2" r="0.88"/><circle cx="605.0" cy="259.3" r="0.88"/><circle cx="579.9" cy="261.8" r="0.88"/><circle cx="578.9" cy="261.4" r="0.88"/><circle cx="647.1" cy="240.4" r="0.88"/><circle cx="604.2" cy="247.7" r="0.88"/><circle cx="616.7" cy="249.5" r="0.88"/><circle cx="655.7" cy="227.1" r="0.88"/><circle cx="619.7" cy="250.7" r="0.88"/><circle cx="601.2" cy="254.4" r="0.88"/><circle cx="604.6" cy="250.5" r="0.88"/><circle cx="588.2" cy="251.2" r="0.88"/><circle cx="626.0" cy="223.6" r="0.88"/><circle cx="596.7" cy="246.0" r="0.88"/><circle cx="596.4" cy="230.1" r="0.88"/><circle cx="596.2" cy="238.7" r="0.88"/><circle cx="594.9" cy="255.2" r="0.88"/><circle cx="616.4" cy="244.3" r="0.88"/><circle cx="607.4" cy="256.1" r="0.88"/><circle cx="631.7" cy="215.2" r="0.88"/><circle cx="592.1" cy="264.5" r="0.88"/><circle cx="609.5" cy="227.3" r="0.88"/><circle cx="643.3" cy="224.9" r="0.88"/><circle cx="598.6" cy="253.7" r="0.88"/><circle cx="614.5" cy="238.1" r="0.88"/><circle cx="635.8" cy="238.1" r="0.88"/><circle cx="614.9" cy="239.1" r="0.88"/><circle cx="590.5" cy="253.8" r="0.88"/><circle cx="561.1" cy="269.5" r="0.88"/><circle cx="652.7" cy="210.7" r="0.88"/><circle cx="612.4" cy="229.0" r="0.88"/><circle cx="629.4" cy="243.2" r="0.88"/><circle cx="593.7" cy="244.4" r="0.88"/><circle cx="640.9" cy="226.7" r="0.88"/><circle cx="614.2" cy="250.9" r="0.88"/><circle cx="604.5" cy="264.8" r="0.88"/><circle cx="585.0" cy="248.0" r="0.88"/><circle cx="611.1" cy="246.7" r="0.88"/><circle cx="593.5" cy="252.7" r="0.88"/><circle cx="598.9" cy="232.0" r="0.88"/><circle cx="570.2" cy="259.0" r="0.88"/><circle cx="593.4" cy="255.9" r="0.88"/><circle cx="606.8" cy="231.4" r="0.88"/><circle cx="577.8" cy="268.5" r="0.88"/><circle cx="605.0" cy="226.5" r="0.88"/><circle cx="617.1" cy="238.3" r="0.88"/><circle cx="597.2" cy="268.1" r="0.88"/><circle cx="590.8" cy="249.3" r="0.88"/><circle cx="590.8" cy="243.8" r="0.88"/><circle cx="622.8" cy="232.8" r="0.88"/><circle cx="572.0" cy="267.1" r="0.88"/><circle cx="597.3" cy="245.6" r="0.88"/><circle cx="594.9" cy="239.8" r="0.88"/><circle cx="606.5" cy="237.2" r="0.88"/><circle cx="602.1" cy="246.6" r="0.88"/><circle cx="580.8" cy="247.1" r="0.88"/><circle cx="645.4" cy="235.4" r="0.88"/><circle cx="607.2" cy="237.7" r="0.88"/><circle cx="575.9" cy="264.1" r="0.88"/><circle cx="585.2" cy="241.9" r="0.88"/><circle cx="605.5" cy="238.2" r="0.88"/><circle cx="616.1" cy="228.1" r="0.88"/><circle cx="575.9" cy="264.4" r="0.88"/><circle cx="618.1" cy="250.4" r="0.88"/><circle cx="575.3" cy="255.3" r="0.88"/><circle cx="587.2" cy="261.8" r="0.88"/><circle cx="621.0" cy="249.4" r="0.88"/><circle cx="638.5" cy="234.0" r="0.88"/><circle cx="601.8" cy="251.4" r="0.88"/><circle cx="597.2" cy="244.4" r="0.88"/><circle cx="629.6" cy="218.9" r="0.88"/><circle cx="581.5" cy="250.6" r="0.88"/><circle cx="609.2" cy="232.2" r="0.88"/><circle cx="608.3" cy="243.1" r="0.88"/><circle cx="624.2" cy="234.4" r="0.88"/><circle cx="609.6" cy="241.5" r="0.88"/><circle cx="598.0" cy="251.1" r="0.88"/><circle cx="616.1" cy="248.3" r="0.88"/><circle cx="580.4" cy="257.5" r="0.88"/><circle cx="620.2" cy="233.5" r="0.88"/><circle cx="589.7" cy="278.0" r="0.88"/><circle cx="584.8" cy="262.2" r="0.88"/><circle cx="596.0" cy="239.4" r="0.88"/><circle cx="604.5" cy="254.2" r="0.88"/><circle cx="618.1" cy="223.4" r="0.88"/><circle cx="599.1" cy="256.0" r="0.88"/><circle cx="618.6" cy="242.4" r="0.88"/><circle cx="623.5" cy="241.1" r="0.88"/><circle cx="601.3" cy="238.1" r="0.88"/><circle cx="583.3" cy="257.2" r="0.88"/><circle cx="622.4" cy="231.9" r="0.88"/><circle cx="609.2" cy="259.3" r="0.88"/><circle cx="560.1" cy="255.5" r="0.88"/><circle cx="583.2" cy="253.1" r="0.88"/><circle cx="606.5" cy="247.2" r="0.88"/><circle cx="575.3" cy="268.7" r="0.88"/><circle cx="589.5" cy="269.1" r="0.88"/><circle cx="568.3" cy="256.9" r="0.88"/><circle cx="611.8" cy="225.0" r="0.88"/><circle cx="608.5" cy="243.6" r="0.88"/><circle cx="607.1" cy="252.3" r="0.88"/><circle cx="633.2" cy="234.4" r="0.88"/><circle cx="596.3" cy="256.0" r="0.88"/><circle cx="597.6" cy="246.4" r="0.88"/><circle cx="645.0" cy="220.0" r="0.88"/><circle cx="576.8" cy="266.3" r="0.88"/><circle cx="618.5" cy="234.0" r="0.88"/><circle cx="576.5" cy="253.2" r="0.88"/><circle cx="608.4" cy="234.5" r="0.88"/><circle cx="647.0" cy="228.9" r="0.88"/><circle cx="609.1" cy="242.0" r="0.88"/><circle cx="587.7" cy="249.1" r="0.88"/><circle cx="652.5" cy="234.5" r="0.88"/><circle cx="592.3" cy="256.7" r="0.88"/><circle cx="599.3" cy="242.6" r="0.88"/><circle cx="609.8" cy="248.9" r="0.88"/><circle cx="575.9" cy="268.1" r="0.88"/><circle cx="626.4" cy="247.5" r="0.88"/><circle cx="636.8" cy="226.4" r="0.88"/><circle cx="619.1" cy="241.0" r="0.88"/><circle cx="610.3" cy="239.7" r="0.88"/><circle cx="600.4" cy="258.0" r="0.88"/><circle cx="621.7" cy="231.9" r="0.88"/><circle cx="600.9" cy="246.4" r="0.88"/><circle cx="608.8" cy="248.1" r="0.88"/><circle cx="562.7" cy="270.0" r="0.88"/><circle cx="612.3" cy="240.2" r="0.88"/><circle cx="600.9" cy="235.9" r="0.88"/><circle cx="602.8" cy="253.0" r="0.88"/><circle cx="605.6" cy="253.1" r="0.88"/><circle cx="615.3" cy="225.4" r="0.88"/><circle cx="612.9" cy="242.1" r="0.88"/><circle cx="582.2" cy="238.9" r="0.88"/><circle cx="601.1" cy="239.2" r="0.88"/><circle cx="599.8" cy="229.0" r="0.88"/><circle cx="604.3" cy="262.6" r="0.88"/><circle cx="591.4" cy="252.8" r="0.88"/><circle cx="623.4" cy="246.1" r="0.88"/><circle cx="630.3" cy="223.3" r="0.88"/><circle cx="634.8" cy="248.3" r="0.88"/><circle cx="642.7" cy="233.0" r="0.88"/><circle cx="634.2" cy="248.4" r="0.88"/><circle cx="594.1" cy="251.7" r="0.88"/><circle cx="590.9" cy="268.7" r="0.88"/><circle cx="595.3" cy="254.1" r="0.88"/><circle cx="615.0" cy="244.3" r="0.88"/><circle cx="600.8" cy="241.0" r="0.88"/><circle cx="623.9" cy="231.0" r="0.88"/><circle cx="637.4" cy="231.8" r="0.88"/><circle cx="594.7" cy="251.6" r="0.88"/><circle cx="623.6" cy="244.8" r="0.88"/><circle cx="595.4" cy="232.1" r="0.88"/><circle cx="577.5" cy="251.5" r="0.88"/><circle cx="577.4" cy="254.1" r="0.88"/><circle cx="597.0" cy="261.2" r="0.88"/><circle cx="564.5" cy="260.0" r="0.88"/><circle cx="613.8" cy="225.4" r="0.88"/><circle cx="634.5" cy="218.7" r="0.88"/><circle cx="579.6" cy="250.1" r="0.88"/><circle cx="596.6" cy="240.3" r="0.88"/><circle cx="610.6" cy="240.5" r="0.88"/><circle cx="607.5" cy="233.5" r="0.88"/><circle cx="598.1" cy="252.9" r="0.88"/><circle cx="624.4" cy="220.3" r="0.88"/><circle cx="610.3" cy="240.1" r="0.88"/><circle cx="581.2" cy="277.2" r="0.88"/><circle cx="553.5" cy="286.5" r="0.88"/><circle cx="617.0" cy="239.2" r="0.88"/><circle cx="598.0" cy="272.1" r="0.88"/><circle cx="633.3" cy="224.9" r="0.88"/><circle cx="614.0" cy="258.2" r="0.88"/><circle cx="577.4" cy="257.5" r="0.88"/><circle cx="609.5" cy="254.8" r="0.88"/><circle cx="628.0" cy="224.7" r="0.88"/><circle cx="585.0" cy="248.3" r="0.88"/><circle cx="593.1" cy="243.6" r="0.88"/><circle cx="639.3" cy="233.0" r="0.88"/><circle cx="567.6" cy="252.3" r="0.88"/><circle cx="581.1" cy="260.6" r="0.88"/><circle cx="625.1" cy="237.9" r="0.88"/><circle cx="607.6" cy="261.1" r="0.88"/><circle cx="580.0" cy="255.9" r="0.88"/><circle cx="573.6" cy="253.5" r="0.88"/><circle cx="613.0" cy="238.1" r="0.88"/><circle cx="628.5" cy="227.9" r="0.88"/><circle cx="620.5" cy="230.9" r="0.88"/><circle cx="612.0" cy="249.3" r="0.88"/><circle cx="634.2" cy="209.6" r="0.88"/><circle cx="609.9" cy="230.2" r="0.88"/><circle cx="586.4" cy="248.7" r="0.88"/><circle cx="645.3" cy="223.4" r="0.88"/><circle cx="578.2" cy="254.7" r="0.88"/><circle cx="600.7" cy="262.8" r="0.88"/><circle cx="602.0" cy="260.2" r="0.88"/><circle cx="632.9" cy="240.4" r="0.88"/><circle cx="587.8" cy="265.2" r="0.88"/><circle cx="597.8" cy="257.9" r="0.88"/><circle cx="566.9" cy="280.2" r="0.88"/><circle cx="610.4" cy="237.0" r="0.88"/><circle cx="612.7" cy="228.1" r="0.88"/><circle cx="616.9" cy="230.5" r="0.88"/><circle cx="584.5" cy="254.5" r="0.88"/><circle cx="608.4" cy="250.1" r="0.88"/><circle cx="585.3" cy="262.3" r="0.88"/><circle cx="593.7" cy="238.8" r="0.88"/><circle cx="601.9" cy="246.1" r="0.88"/><circle cx="630.1" cy="236.3" r="0.88"/><circle cx="594.5" cy="246.5" r="0.88"/><circle cx="607.1" cy="237.9" r="0.88"/><circle cx="586.1" cy="253.2" r="0.88"/><circle cx="591.7" cy="243.6" r="0.88"/><circle cx="589.0" cy="275.6" r="0.88"/><circle cx="600.2" cy="238.2" r="0.88"/><circle cx="619.2" cy="259.5" r="0.88"/><circle cx="580.7" cy="267.3" r="0.88"/><circle cx="618.2" cy="241.1" r="0.88"/><circle cx="583.8" cy="289.5" r="0.88"/><circle cx="610.2" cy="222.7" r="0.88"/><circle cx="592.0" cy="266.9" r="0.88"/><circle cx="597.1" cy="254.0" r="0.88"/><circle cx="595.2" cy="254.7" r="0.88"/><circle cx="625.8" cy="237.8" r="0.88"/><circle cx="608.4" cy="243.8" r="0.88"/><circle cx="625.2" cy="218.8" r="0.88"/><circle cx="595.6" cy="256.0" r="0.88"/><circle cx="598.2" cy="234.6" r="0.88"/><circle cx="636.2" cy="247.1" r="0.88"/><circle cx="569.2" cy="268.3" r="0.88"/><circle cx="585.0" cy="245.0" r="0.88"/><circle cx="599.4" cy="261.3" r="0.88"/><circle cx="640.4" cy="224.8" r="0.88"/><circle cx="590.5" cy="257.9" r="0.88"/><circle cx="619.3" cy="229.8" r="0.88"/><circle cx="635.5" cy="224.5" r="0.88"/><circle cx="598.2" cy="255.3" r="0.88"/><circle cx="599.4" cy="243.3" r="0.88"/><circle cx="637.3" cy="232.8" r="0.88"/><circle cx="591.6" cy="269.2" r="0.88"/><circle cx="581.4" cy="273.8" r="0.88"/><circle cx="620.0" cy="232.7" r="0.88"/><circle cx="592.4" cy="256.7" r="0.88"/><circle cx="629.6" cy="236.0" r="0.88"/><circle cx="614.1" cy="231.0" r="0.88"/><circle cx="566.9" cy="263.8" r="0.88"/><circle cx="608.7" cy="220.4" r="0.88"/><circle cx="603.2" cy="263.3" r="0.88"/><circle cx="589.4" cy="242.2" r="0.88"/><circle cx="625.7" cy="249.6" r="0.88"/><circle cx="566.6" cy="281.1" r="0.88"/><circle cx="577.2" cy="244.7" r="0.88"/><circle cx="592.8" cy="260.8" r="0.88"/><circle cx="619.3" cy="242.3" r="0.88"/><circle cx="571.3" cy="265.0" r="0.88"/><circle cx="589.8" cy="252.4" r="0.88"/><circle cx="588.2" cy="266.4" r="0.88"/><circle cx="571.8" cy="260.7" r="0.88"/><circle cx="594.9" cy="236.3" r="0.88"/><circle cx="579.2" cy="271.7" r="0.88"/><circle cx="593.5" cy="267.3" r="0.88"/><circle cx="608.6" cy="256.5" r="0.88"/><circle cx="583.9" cy="247.6" r="0.88"/><circle cx="584.7" cy="271.4" r="0.88"/><circle cx="582.3" cy="275.4" r="0.88"/><circle cx="585.2" cy="241.8" r="0.88"/><circle cx="570.3" cy="266.7" r="0.88"/><circle cx="578.3" cy="272.8" r="0.88"/><circle cx="605.1" cy="251.1" r="0.88"/><circle cx="584.5" cy="268.1" r="0.88"/><circle cx="585.8" cy="279.8" r="0.88"/><circle cx="612.1" cy="238.9" r="0.88"/><circle cx="571.6" cy="256.0" r="0.88"/><circle cx="597.1" cy="248.7" r="0.88"/><circle cx="591.4" cy="236.4" r="0.88"/><circle cx="601.0" cy="261.6" r="0.88"/><circle cx="630.1" cy="244.3" r="0.88"/><circle cx="599.2" cy="268.1" r="0.88"/><circle cx="577.8" cy="239.4" r="0.88"/><circle cx="605.2" cy="235.1" r="0.88"/><circle cx="582.9" cy="251.1" r="0.88"/><circle cx="600.4" cy="255.7" r="0.88"/><circle cx="635.8" cy="217.2" r="0.88"/><circle cx="622.6" cy="236.9" r="0.88"/><circle cx="625.4" cy="237.7" r="0.88"/><circle cx="614.2" cy="246.7" r="0.88"/><circle cx="602.9" cy="258.3" r="0.88"/><circle cx="571.5" cy="273.2" r="0.88"/><circle cx="593.6" cy="262.5" r="0.88"/><circle cx="592.4" cy="247.4" r="0.88"/><circle cx="617.4" cy="236.3" r="0.88"/><circle cx="623.9" cy="237.5" r="0.88"/><circle cx="613.3" cy="251.1" r="0.88"/><circle cx="587.1" cy="248.8" r="0.88"/><circle cx="641.5" cy="220.1" r="0.88"/><circle cx="632.7" cy="238.5" r="0.88"/><circle cx="599.0" cy="256.4" r="0.88"/><circle cx="607.6" cy="234.2" r="0.88"/><circle cx="616.7" cy="238.3" r="0.88"/><circle cx="605.6" cy="255.4" r="0.88"/><circle cx="601.5" cy="246.9" r="0.88"/><circle cx="613.7" cy="239.3" r="0.88"/><circle cx="603.7" cy="240.1" r="0.88"/><circle cx="607.7" cy="244.4" r="0.88"/><circle cx="570.4" cy="266.4" r="0.88"/><circle cx="570.5" cy="257.5" r="0.88"/><circle cx="639.3" cy="222.6" r="0.88"/><circle cx="572.2" cy="267.6" r="0.88"/><circle cx="613.5" cy="246.1" r="0.88"/><circle cx="610.1" cy="251.4" r="0.88"/><circle cx="608.1" cy="255.2" r="0.88"/><circle cx="589.3" cy="259.7" r="0.88"/><circle cx="624.4" cy="238.3" r="0.88"/><circle cx="610.7" cy="220.4" r="0.88"/><circle cx="596.5" cy="234.0" r="0.88"/><circle cx="574.6" cy="262.6" r="0.88"/><circle cx="598.8" cy="252.1" r="0.88"/><circle cx="591.2" cy="268.4" r="0.88"/><circle cx="577.7" cy="267.3" r="0.88"/><circle cx="611.3" cy="236.9" r="0.88"/><circle cx="615.5" cy="238.9" r="0.88"/><circle cx="620.7" cy="253.1" r="0.88"/><circle cx="606.1" cy="240.3" r="0.88"/><circle cx="598.6" cy="246.2" r="0.88"/><circle cx="627.1" cy="236.4" r="0.88"/><circle cx="619.6" cy="228.9" r="0.88"/><circle cx="651.2" cy="209.0" r="0.88"/><circle cx="615.4" cy="247.2" r="0.88"/><circle cx="584.7" cy="258.8" r="0.88"/><circle cx="623.8" cy="244.7" r="0.88"/><circle cx="651.9" cy="222.6" r="0.88"/><circle cx="609.7" cy="247.5" r="0.88"/><circle cx="600.3" cy="243.3" r="0.88"/><circle cx="591.8" cy="254.9" r="0.88"/><circle cx="643.4" cy="224.5" r="0.88"/><circle cx="600.4" cy="242.3" r="0.88"/><circle cx="599.2" cy="256.6" r="0.88"/><circle cx="610.5" cy="230.6" r="0.88"/><circle cx="575.0" cy="257.5" r="0.88"/><circle cx="598.7" cy="247.3" r="0.88"/><circle cx="578.3" cy="260.7" r="0.88"/><circle cx="601.5" cy="245.8" r="0.88"/><circle cx="614.7" cy="249.3" r="0.88"/><circle cx="623.5" cy="241.4" r="0.88"/><circle cx="595.9" cy="237.7" r="0.88"/><circle cx="621.4" cy="245.6" r="0.88"/><circle cx="596.5" cy="227.4" r="0.88"/><circle cx="570.5" cy="255.7" r="0.88"/><circle cx="616.4" cy="235.4" r="0.88"/><circle cx="600.4" cy="238.7" r="0.88"/><circle cx="606.9" cy="249.9" r="0.88"/><circle cx="609.1" cy="251.1" r="0.88"/><circle cx="609.9" cy="241.0" r="0.88"/><circle cx="609.9" cy="232.2" r="0.88"/><circle cx="626.3" cy="247.3" r="0.88"/><circle cx="597.5" cy="258.8" r="0.88"/><circle cx="649.2" cy="220.1" r="0.88"/><circle cx="620.0" cy="220.1" r="0.88"/><circle cx="616.3" cy="226.6" r="0.88"/><circle cx="553.8" cy="273.1" r="0.88"/><circle cx="564.6" cy="254.6" r="0.88"/><circle cx="636.1" cy="225.3" r="0.88"/><circle cx="613.3" cy="233.5" r="0.88"/><circle cx="624.5" cy="243.0" r="0.88"/><circle cx="597.5" cy="254.7" r="0.88"/><circle cx="603.0" cy="260.8" r="0.88"/><circle cx="617.6" cy="241.0" r="0.88"/><circle cx="589.3" cy="252.3" r="0.88"/><circle cx="632.9" cy="228.5" r="0.88"/><circle cx="582.9" cy="266.9" r="0.88"/><circle cx="610.3" cy="217.9" r="0.88"/><circle cx="600.3" cy="253.7" r="0.88"/><circle cx="613.2" cy="245.6" r="0.88"/><circle cx="631.7" cy="230.5" r="0.88"/><circle cx="583.0" cy="274.0" r="0.88"/><circle cx="615.5" cy="260.3" r="0.88"/><circle cx="608.7" cy="229.3" r="0.88"/><circle cx="623.6" cy="238.2" r="0.88"/><circle cx="605.9" cy="270.8" r="0.88"/><circle cx="596.3" cy="242.1" r="0.88"/><circle cx="616.8" cy="241.6" r="0.88"/><circle cx="633.9" cy="234.1" r="0.88"/><circle cx="623.3" cy="235.0" r="0.88"/><circle cx="609.7" cy="246.6" r="0.88"/><circle cx="615.3" cy="249.9" r="0.88"/><circle cx="574.9" cy="235.6" r="0.88"/><circle cx="595.5" cy="248.8" r="0.88"/><circle cx="601.4" cy="250.3" r="0.88"/><circle cx="595.6" cy="254.9" r="0.88"/><circle cx="592.2" cy="248.4" r="0.88"/><circle cx="605.6" cy="250.0" r="0.88"/><circle cx="614.8" cy="244.6" r="0.88"/><circle cx="646.5" cy="215.3" r="0.88"/><circle cx="592.2" cy="271.0" r="0.88"/><circle cx="587.9" cy="259.5" r="0.88"/><circle cx="627.1" cy="224.0" r="0.88"/><circle cx="609.8" cy="237.7" r="0.88"/><circle cx="588.3" cy="262.7" r="0.88"/><circle cx="638.0" cy="228.5" r="0.88"/><circle cx="602.3" cy="247.4" r="0.88"/><circle cx="599.8" cy="245.2" r="0.88"/><circle cx="593.9" cy="246.0" r="0.88"/><circle cx="587.6" cy="258.8" r="0.88"/><circle cx="608.6" cy="250.9" r="0.88"/><circle cx="586.8" cy="252.0" r="0.88"/><circle cx="613.2" cy="250.2" r="0.88"/><circle cx="601.2" cy="233.5" r="0.88"/><circle cx="590.3" cy="271.2" r="0.88"/><circle cx="611.4" cy="235.9" r="0.88"/><circle cx="626.5" cy="243.5" r="0.88"/><circle cx="611.0" cy="243.9" r="0.88"/><circle cx="582.5" cy="255.5" r="0.88"/><circle cx="601.2" cy="256.0" r="0.88"/><circle cx="570.8" cy="262.9" r="0.88"/><circle cx="635.3" cy="229.7" r="0.88"/><circle cx="619.8" cy="234.7" r="0.88"/><circle cx="610.0" cy="238.6" r="0.88"/><circle cx="611.8" cy="234.9" r="0.88"/><circle cx="594.1" cy="256.3" r="0.88"/><circle cx="602.8" cy="246.9" r="0.88"/><circle cx="625.5" cy="224.7" r="0.88"/><circle cx="604.8" cy="254.0" r="0.88"/><circle cx="617.8" cy="228.9" r="0.88"/><circle cx="610.3" cy="249.9" r="0.88"/><circle cx="610.5" cy="253.9" r="0.88"/><circle cx="612.3" cy="241.1" r="0.88"/><circle cx="627.2" cy="232.7" r="0.88"/><circle cx="599.8" cy="243.0" r="0.88"/><circle cx="619.8" cy="224.7" r="0.88"/><circle cx="589.6" cy="253.3" r="0.88"/><circle cx="593.9" cy="268.5" r="0.88"/><circle cx="591.2" cy="240.5" r="0.88"/><circle cx="623.4" cy="243.2" r="0.88"/><circle cx="599.7" cy="260.3" r="0.88"/><circle cx="631.2" cy="239.1" r="0.88"/><circle cx="585.0" cy="246.1" r="0.88"/><circle cx="613.9" cy="253.1" r="0.88"/><circle cx="582.3" cy="252.3" r="0.88"/><circle cx="629.1" cy="240.1" r="0.88"/><circle cx="591.8" cy="252.8" r="0.88"/><circle cx="615.4" cy="247.9" r="0.88"/><circle cx="591.9" cy="264.7" r="0.88"/><circle cx="590.3" cy="264.7" r="0.88"/><circle cx="611.0" cy="248.0" r="0.88"/><circle cx="570.8" cy="260.7" r="0.88"/><circle cx="581.6" cy="259.4" r="0.88"/><circle cx="637.1" cy="217.0" r="0.88"/><circle cx="589.2" cy="242.1" r="0.88"/><circle cx="622.8" cy="236.8" r="0.88"/><circle cx="588.4" cy="247.2" r="0.88"/><circle cx="572.3" cy="256.2" r="0.88"/><circle cx="597.5" cy="255.9" r="0.88"/><circle cx="623.8" cy="229.7" r="0.88"/><circle cx="605.5" cy="225.2" r="0.88"/><circle cx="599.9" cy="244.8" r="0.88"/><circle cx="623.5" cy="259.1" r="0.88"/><circle cx="590.4" cy="242.6" r="0.88"/><circle cx="620.8" cy="240.5" r="0.88"/><circle cx="612.3" cy="246.0" r="0.88"/><circle cx="584.8" cy="266.4" r="0.88"/><circle cx="624.8" cy="231.2" r="0.88"/><circle cx="628.9" cy="237.0" r="0.88"/><circle cx="600.8" cy="225.7" r="0.88"/><circle cx="608.2" cy="258.9" r="0.88"/><circle cx="600.0" cy="253.5" r="0.88"/><circle cx="582.7" cy="238.3" r="0.88"/><circle cx="621.9" cy="242.4" r="0.88"/><circle cx="584.9" cy="252.2" r="0.88"/><circle cx="616.4" cy="240.8" r="0.88"/><circle cx="594.6" cy="243.4" r="0.88"/><circle cx="584.4" cy="249.4" r="0.88"/><circle cx="618.1" cy="228.5" r="0.88"/><circle cx="610.3" cy="244.9" r="0.88"/><circle cx="643.4" cy="216.7" r="0.88"/><circle cx="604.0" cy="244.8" r="0.88"/><circle cx="608.5" cy="237.0" r="0.88"/><circle cx="607.9" cy="250.5" r="0.88"/><circle cx="600.4" cy="273.9" r="0.88"/><circle cx="632.5" cy="249.4" r="0.88"/><circle cx="636.4" cy="223.3" r="0.88"/><circle cx="619.5" cy="242.0" r="0.88"/><circle cx="584.8" cy="266.2" r="0.88"/><circle cx="614.8" cy="234.9" r="0.88"/><circle cx="606.8" cy="237.4" r="0.88"/><circle cx="596.4" cy="249.3" r="0.88"/><circle cx="573.8" cy="281.1" r="0.88"/><circle cx="623.8" cy="227.4" r="0.88"/><circle cx="630.3" cy="240.4" r="0.88"/><circle cx="612.1" cy="248.9" r="0.88"/><circle cx="615.0" cy="245.3" r="0.88"/><circle cx="641.8" cy="227.1" r="0.88"/><circle cx="645.4" cy="242.5" r="0.88"/><circle cx="610.2" cy="245.2" r="0.88"/><circle cx="620.3" cy="250.1" r="0.88"/><circle cx="608.8" cy="261.2" r="0.88"/><circle cx="619.7" cy="239.7" r="0.88"/><circle cx="595.0" cy="255.7" r="0.88"/><circle cx="585.1" cy="248.4" r="0.88"/><circle cx="616.1" cy="250.1" r="0.88"/><circle cx="599.5" cy="244.2" r="0.88"/><circle cx="607.7" cy="245.9" r="0.88"/><circle cx="614.1" cy="231.5" r="0.88"/><circle cx="607.6" cy="256.1" r="0.88"/><circle cx="576.0" cy="273.4" r="0.88"/><circle cx="617.2" cy="239.1" r="0.88"/><circle cx="595.4" cy="246.1" r="0.88"/><circle cx="601.0" cy="241.5" r="0.88"/><circle cx="614.0" cy="227.8" r="0.88"/><circle cx="575.4" cy="253.3" r="0.88"/><circle cx="599.7" cy="241.3" r="0.88"/><circle cx="567.6" cy="240.7" r="0.88"/><circle cx="593.6" cy="252.4" r="0.88"/><circle cx="611.9" cy="227.8" r="0.88"/><circle cx="601.9" cy="249.7" r="0.88"/><circle cx="598.9" cy="242.0" r="0.88"/><circle cx="616.4" cy="239.0" r="0.88"/><circle cx="596.2" cy="250.6" r="0.88"/><circle cx="571.6" cy="246.8" r="0.88"/><circle cx="626.0" cy="218.2" r="0.88"/><circle cx="608.3" cy="244.0" r="0.88"/><circle cx="620.1" cy="240.0" r="0.88"/><circle cx="595.4" cy="253.6" r="0.88"/><circle cx="594.8" cy="268.4" r="0.88"/><circle cx="588.4" cy="240.4" r="0.88"/><circle cx="564.0" cy="265.5" r="0.88"/><circle cx="593.8" cy="240.9" r="0.88"/><circle cx="590.9" cy="239.9" r="0.88"/><circle cx="635.6" cy="233.6" r="0.88"/><circle cx="564.0" cy="259.4" r="0.88"/><circle cx="603.6" cy="254.8" r="0.88"/><circle cx="599.1" cy="265.9" r="0.88"/><circle cx="601.1" cy="255.2" r="0.88"/><circle cx="599.5" cy="252.3" r="0.88"/><circle cx="606.9" cy="244.4" r="0.88"/><circle cx="619.9" cy="242.0" r="0.88"/><circle cx="568.4" cy="274.4" r="0.88"/><circle cx="619.3" cy="248.5" r="0.88"/><circle cx="596.3" cy="248.5" r="0.88"/><circle cx="581.8" cy="272.3" r="0.88"/><circle cx="563.8" cy="266.1" r="0.88"/><circle cx="564.4" cy="268.0" r="0.88"/><circle cx="600.2" cy="246.4" r="0.88"/><circle cx="578.6" cy="284.7" r="0.88"/><circle cx="578.5" cy="245.3" r="0.88"/><circle cx="591.4" cy="277.1" r="0.88"/><circle cx="601.9" cy="244.6" r="0.88"/><circle cx="591.9" cy="258.6" r="0.88"/><circle cx="578.3" cy="262.1" r="0.88"/><circle cx="588.7" cy="259.1" r="0.88"/><circle cx="598.0" cy="251.4" r="0.88"/><circle cx="580.1" cy="265.3" r="0.88"/><circle cx="620.2" cy="224.7" r="0.88"/><circle cx="627.8" cy="222.6" r="0.88"/><circle cx="628.3" cy="221.0" r="0.88"/><circle cx="595.3" cy="246.5" r="0.88"/><circle cx="594.9" cy="255.4" r="0.88"/><circle cx="583.2" cy="229.5" r="0.88"/><circle cx="630.3" cy="231.0" r="0.88"/><circle cx="592.3" cy="269.5" r="0.88"/><circle cx="560.4" cy="246.1" r="0.88"/><circle cx="606.8" cy="258.9" r="0.88"/><circle cx="612.6" cy="238.9" r="0.88"/><circle cx="602.4" cy="251.0" r="0.88"/><circle cx="614.3" cy="227.3" r="0.88"/><circle cx="643.3" cy="246.7" r="0.88"/><circle cx="601.6" cy="250.9" r="0.88"/><circle cx="619.4" cy="238.2" r="0.88"/><circle cx="593.4" cy="248.2" r="0.88"/><circle cx="576.9" cy="271.2" r="0.88"/><circle cx="580.9" cy="246.2" r="0.88"/><circle cx="619.8" cy="252.5" r="0.88"/><circle cx="609.2" cy="236.8" r="0.88"/><circle cx="573.3" cy="231.2" r="0.88"/><circle cx="609.2" cy="268.6" r="0.88"/><circle cx="615.2" cy="235.8" r="0.88"/><circle cx="612.9" cy="230.0" r="0.88"/><circle cx="626.1" cy="253.1" r="0.88"/><circle cx="573.2" cy="258.3" r="0.88"/><circle cx="583.7" cy="257.9" r="0.88"/><circle cx="581.2" cy="262.9" r="0.88"/><circle cx="606.1" cy="260.2" r="0.88"/><circle cx="630.0" cy="239.8" r="0.88"/><circle cx="594.3" cy="255.0" r="0.88"/><circle cx="610.4" cy="262.5" r="0.88"/><circle cx="621.2" cy="260.7" r="0.88"/><circle cx="594.0" cy="264.5" r="0.88"/><circle cx="620.0" cy="249.9" r="0.88"/><circle cx="601.1" cy="253.0" r="0.88"/><circle cx="639.7" cy="228.7" r="0.88"/><circle cx="632.3" cy="228.4" r="0.88"/><circle cx="594.5" cy="257.4" r="0.88"/><circle cx="592.7" cy="244.2" r="0.88"/><circle cx="641.6" cy="224.0" r="0.88"/><circle cx="586.0" cy="260.4" r="0.88"/><circle cx="627.6" cy="226.9" r="0.88"/><circle cx="595.5" cy="250.0" r="0.88"/><circle cx="580.3" cy="255.3" r="0.88"/><circle cx="639.4" cy="209.9" r="0.88"/><circle cx="613.0" cy="257.2" r="0.88"/><circle cx="582.9" cy="262.9" r="0.88"/><circle cx="599.2" cy="252.7" r="0.88"/><circle cx="589.1" cy="247.7" r="0.88"/><circle cx="584.3" cy="271.0" r="0.88"/><circle cx="601.9" cy="258.8" r="0.88"/><circle cx="626.5" cy="253.7" r="0.88"/><circle cx="575.1" cy="287.6" r="0.88"/><circle cx="614.3" cy="253.5" r="0.88"/><circle cx="574.3" cy="278.4" r="0.88"/><circle cx="602.6" cy="249.5" r="0.88"/><circle cx="574.3" cy="251.6" r="0.88"/><circle cx="576.5" cy="258.8" r="0.88"/><circle cx="589.7" cy="268.3" r="0.88"/><circle cx="624.0" cy="225.0" r="0.88"/><circle cx="620.6" cy="222.6" r="0.88"/><circle cx="600.6" cy="244.3" r="0.88"/><circle cx="596.9" cy="246.7" r="0.88"/><circle cx="605.8" cy="251.7" r="0.88"/><circle cx="610.5" cy="228.0" r="0.88"/><circle cx="600.7" cy="257.4" r="0.88"/><circle cx="593.4" cy="239.7" r="0.88"/><circle cx="597.0" cy="257.6" r="0.88"/><circle cx="616.1" cy="246.0" r="0.88"/><circle cx="615.2" cy="211.7" r="0.88"/><circle cx="554.3" cy="261.3" r="0.88"/><circle cx="612.4" cy="258.4" r="0.88"/><circle cx="601.4" cy="231.4" r="0.88"/><circle cx="571.6" cy="266.8" r="0.88"/><circle cx="577.7" cy="251.5" r="0.88"/><circle cx="626.3" cy="238.6" r="0.88"/><circle cx="603.4" cy="246.1" r="0.88"/><circle cx="621.5" cy="248.2" r="0.88"/><circle cx="628.6" cy="222.6" r="0.88"/><circle cx="640.9" cy="227.7" r="0.88"/><circle cx="617.1" cy="250.7" r="0.88"/><circle cx="590.3" cy="254.5" r="0.88"/><circle cx="569.0" cy="276.9" r="0.88"/><circle cx="606.2" cy="246.8" r="0.88"/><circle cx="567.2" cy="267.0" r="0.88"/><circle cx="604.6" cy="258.1" r="0.88"/><circle cx="587.0" cy="263.0" r="0.88"/><circle cx="611.2" cy="211.9" r="0.88"/><circle cx="617.7" cy="228.8" r="0.88"/><circle cx="602.5" cy="247.9" r="0.88"/><circle cx="575.0" cy="283.7" r="0.88"/><circle cx="606.4" cy="247.2" r="0.88"/><circle cx="588.5" cy="277.8" r="0.88"/><circle cx="609.7" cy="228.8" r="0.88"/><circle cx="593.9" cy="249.9" r="0.88"/><circle cx="592.0" cy="244.5" r="0.88"/><circle cx="563.7" cy="263.7" r="0.88"/><circle cx="584.5" cy="255.4" r="0.88"/><circle cx="605.0" cy="256.3" r="0.88"/><circle cx="660.5" cy="216.4" r="0.88"/><circle cx="632.2" cy="255.7" r="0.88"/><circle cx="591.1" cy="257.0" r="0.88"/><circle cx="603.4" cy="220.8" r="0.88"/><circle cx="578.5" cy="269.6" r="0.88"/><circle cx="573.2" cy="255.5" r="0.88"/><circle cx="622.7" cy="226.5" r="0.88"/><circle cx="611.8" cy="256.5" r="0.88"/><circle cx="587.7" cy="242.8" r="0.88"/><circle cx="588.5" cy="261.7" r="0.88"/><circle cx="612.1" cy="242.9" r="0.88"/><circle cx="617.3" cy="259.3" r="0.88"/><circle cx="586.7" cy="272.2" r="0.88"/><circle cx="567.9" cy="268.0" r="0.88"/><circle cx="621.8" cy="244.5" r="0.88"/><circle cx="588.1" cy="265.1" r="0.88"/><circle cx="565.5" cy="252.6" r="0.88"/><circle cx="599.3" cy="250.3" r="0.88"/><circle cx="607.6" cy="259.5" r="0.88"/><circle cx="623.1" cy="250.5" r="0.88"/><circle cx="594.3" cy="263.7" r="0.88"/><circle cx="609.0" cy="234.7" r="0.88"/><circle cx="577.1" cy="260.4" r="0.88"/><circle cx="612.9" cy="237.7" r="0.88"/><circle cx="571.4" cy="268.4" r="0.88"/><circle cx="615.8" cy="242.3" r="0.88"/><circle cx="606.8" cy="245.9" r="0.88"/><circle cx="571.8" cy="253.8" r="0.88"/><circle cx="590.3" cy="252.2" r="0.88"/><circle cx="637.5" cy="229.1" r="0.88"/><circle cx="581.4" cy="246.5" r="0.88"/><circle cx="569.2" cy="265.7" r="0.88"/><circle cx="597.3" cy="240.1" r="0.88"/><circle cx="606.7" cy="246.9" r="0.88"/><circle cx="620.2" cy="231.5" r="0.88"/><circle cx="600.2" cy="257.8" r="0.88"/><circle cx="593.6" cy="249.6" r="0.88"/><circle cx="598.4" cy="243.1" r="0.88"/><circle cx="619.2" cy="246.1" r="0.88"/><circle cx="599.6" cy="247.7" r="0.88"/><circle cx="614.8" cy="239.0" r="0.88"/><circle cx="566.3" cy="274.7" r="0.88"/><circle cx="595.8" cy="257.4" r="0.88"/><circle cx="601.5" cy="258.2" r="0.88"/><circle cx="624.6" cy="224.5" r="0.88"/><circle cx="612.8" cy="240.3" r="0.88"/><circle cx="607.7" cy="237.3" r="0.88"/><circle cx="625.7" cy="243.7" r="0.88"/><circle cx="606.9" cy="249.6" r="0.88"/><circle cx="584.5" cy="248.1" r="0.88"/><circle cx="606.0" cy="258.2" r="0.88"/><circle cx="641.5" cy="238.5" r="0.88"/><circle cx="619.6" cy="228.1" r="0.88"/><circle cx="610.0" cy="252.8" r="0.88"/><circle cx="624.4" cy="236.8" r="0.88"/><circle cx="593.9" cy="255.9" r="0.88"/><circle cx="606.0" cy="230.1" r="0.88"/><circle cx="607.3" cy="244.9" r="0.88"/><circle cx="643.8" cy="236.7" r="0.88"/><circle cx="610.4" cy="230.4" r="0.88"/><circle cx="646.6" cy="229.6" r="0.88"/><circle cx="603.2" cy="244.6" r="0.88"/><circle cx="609.2" cy="252.6" r="0.88"/><circle cx="568.5" cy="279.0" r="0.88"/><circle cx="616.7" cy="236.6" r="0.88"/><circle cx="562.8" cy="269.3" r="0.88"/><circle cx="617.6" cy="225.0" r="0.88"/><circle cx="624.0" cy="238.6" r="0.88"/><circle cx="612.0" cy="250.9" r="0.88"/><circle cx="582.0" cy="242.3" r="0.88"/><circle cx="597.8" cy="246.5" r="0.88"/><circle cx="588.7" cy="244.8" r="0.88"/><circle cx="608.4" cy="248.1" r="0.88"/><circle cx="603.6" cy="230.5" r="0.88"/><circle cx="595.8" cy="238.8" r="0.88"/><circle cx="630.5" cy="233.0" r="0.88"/><circle cx="610.6" cy="243.6" r="0.88"/><circle cx="603.3" cy="250.3" r="0.88"/><circle cx="607.2" cy="246.9" r="0.88"/><circle cx="581.2" cy="266.5" r="0.88"/><circle cx="599.5" cy="244.0" r="0.88"/><circle cx="562.7" cy="290.9" r="0.88"/><circle cx="595.8" cy="256.7" r="0.88"/><circle cx="622.1" cy="234.6" r="0.88"/><circle cx="580.2" cy="256.9" r="0.88"/><circle cx="611.0" cy="240.5" r="0.88"/><circle cx="566.7" cy="233.1" r="0.88"/><circle cx="602.3" cy="268.9" r="0.88"/><circle cx="603.3" cy="259.6" r="0.88"/><circle cx="602.8" cy="248.9" r="0.88"/><circle cx="573.1" cy="254.5" r="0.88"/><circle cx="614.3" cy="255.6" r="0.88"/><circle cx="617.3" cy="222.6" r="0.88"/><circle cx="614.2" cy="257.6" r="0.88"/><circle cx="650.1" cy="227.4" r="0.88"/><circle cx="595.8" cy="251.6" r="0.88"/><circle cx="607.1" cy="248.7" r="0.88"/><circle cx="628.3" cy="230.9" r="0.88"/><circle cx="575.5" cy="249.3" r="0.88"/><circle cx="584.3" cy="258.6" r="0.88"/><circle cx="626.0" cy="227.8" r="0.88"/><circle cx="596.1" cy="238.3" r="0.88"/><circle cx="586.7" cy="260.4" r="0.88"/><circle cx="613.5" cy="240.2" r="0.88"/><circle cx="575.3" cy="280.3" r="0.88"/><circle cx="606.4" cy="249.6" r="0.88"/><circle cx="581.9" cy="255.1" r="0.88"/><circle cx="589.9" cy="236.6" r="0.88"/><circle cx="607.8" cy="242.7" r="0.88"/><circle cx="608.5" cy="249.2" r="0.88"/><circle cx="599.7" cy="262.7" r="0.88"/><circle cx="589.6" cy="264.2" r="0.88"/><circle cx="608.2" cy="244.6" r="0.88"/><circle cx="633.9" cy="221.5" r="0.88"/><circle cx="621.6" cy="243.0" r="0.88"/><circle cx="588.8" cy="244.6" r="0.88"/><circle cx="608.5" cy="254.4" r="0.88"/><circle cx="598.3" cy="256.3" r="0.88"/><circle cx="614.7" cy="239.3" r="0.88"/><circle cx="587.0" cy="249.4" r="0.88"/><circle cx="634.4" cy="224.2" r="0.88"/><circle cx="587.5" cy="265.2" r="0.88"/><circle cx="583.0" cy="252.2" r="0.88"/><circle cx="610.9" cy="244.2" r="0.88"/><circle cx="637.6" cy="217.5" r="0.88"/><circle cx="569.0" cy="266.7" r="0.88"/><circle cx="605.0" cy="238.4" r="0.88"/><circle cx="616.8" cy="232.0" r="0.88"/><circle cx="659.5" cy="217.1" r="0.88"/><circle cx="572.8" cy="280.7" r="0.88"/><circle cx="627.2" cy="255.9" r="0.88"/><circle cx="588.8" cy="260.8" r="0.88"/><circle cx="597.1" cy="251.4" r="0.88"/><circle cx="623.6" cy="236.2" r="0.88"/><circle cx="605.0" cy="253.1" r="0.88"/><circle cx="575.8" cy="277.5" r="0.88"/><circle cx="599.3" cy="245.3" r="0.88"/><circle cx="595.8" cy="266.4" r="0.88"/><circle cx="607.5" cy="242.5" r="0.88"/><circle cx="584.3" cy="236.7" r="0.88"/><circle cx="589.4" cy="254.3" r="0.88"/><circle cx="596.7" cy="233.2" r="0.88"/><circle cx="604.1" cy="251.2" r="0.88"/><circle cx="600.1" cy="251.0" r="0.88"/><circle cx="612.4" cy="231.5" r="0.88"/><circle cx="616.7" cy="239.5" r="0.88"/><circle cx="610.2" cy="236.1" r="0.88"/><circle cx="589.8" cy="265.1" r="0.88"/><circle cx="571.4" cy="267.9" r="0.88"/><circle cx="585.0" cy="253.8" r="0.88"/><circle cx="589.2" cy="261.0" r="0.88"/><circle cx="597.8" cy="243.7" r="0.88"/><circle cx="621.8" cy="215.3" r="0.88"/><circle cx="601.2" cy="251.5" r="0.88"/><circle cx="583.0" cy="258.8" r="0.88"/><circle cx="575.4" cy="251.2" r="0.88"/><circle cx="600.0" cy="257.1" r="0.88"/><circle cx="597.1" cy="244.7" r="0.88"/><circle cx="580.3" cy="259.9" r="0.88"/><circle cx="568.4" cy="261.2" r="0.88"/><circle cx="595.0" cy="235.4" r="0.88"/><circle cx="610.1" cy="257.7" r="0.88"/><circle cx="606.4" cy="240.3" r="0.88"/><circle cx="572.1" cy="259.1" r="0.88"/><circle cx="593.0" cy="250.3" r="0.88"/><circle cx="598.0" cy="247.5" r="0.88"/><circle cx="582.0" cy="238.8" r="0.88"/><circle cx="600.1" cy="229.2" r="0.88"/><circle cx="588.7" cy="246.6" r="0.88"/><circle cx="620.9" cy="236.6" r="0.88"/><circle cx="588.5" cy="261.8" r="0.88"/><circle cx="635.3" cy="232.4" r="0.88"/><circle cx="622.9" cy="241.9" r="0.88"/><circle cx="610.2" cy="235.3" r="0.88"/><circle cx="607.9" cy="251.9" r="0.88"/><circle cx="631.7" cy="224.4" r="0.88"/><circle cx="595.5" cy="251.2" r="0.88"/><circle cx="611.7" cy="258.2" r="0.88"/><circle cx="598.0" cy="242.8" r="0.88"/><circle cx="634.8" cy="226.8" r="0.88"/><circle cx="597.1" cy="241.2" r="0.88"/><circle cx="598.1" cy="258.9" r="0.88"/><circle cx="608.3" cy="245.8" r="0.88"/><circle cx="595.8" cy="262.0" r="0.88"/><circle cx="614.9" cy="229.0" r="0.88"/><circle cx="573.0" cy="256.3" r="0.88"/><circle cx="585.3" cy="271.2" r="0.88"/><circle cx="587.4" cy="242.9" r="0.88"/><circle cx="607.2" cy="247.4" r="0.88"/><circle cx="622.0" cy="247.1" r="0.88"/><circle cx="604.8" cy="251.3" r="0.88"/><circle cx="604.5" cy="245.6" r="0.88"/><circle cx="628.1" cy="214.2" r="0.88"/><circle cx="592.3" cy="258.3" r="0.88"/><circle cx="615.1" cy="254.5" r="0.88"/><circle cx="597.8" cy="258.7" r="0.88"/><circle cx="580.1" cy="259.3" r="0.88"/><circle cx="604.3" cy="266.2" r="0.88"/><circle cx="630.7" cy="239.5" r="0.88"/><circle cx="599.9" cy="253.0" r="0.88"/><circle cx="589.1" cy="248.6" r="0.88"/></g>
<line x1="549.80" y1="204.00" x2="549.80" y2="295.70" stroke="#555" stroke-width="0.9"/>
<line x1="549.30" y1="295.20" x2="667.40" y2="295.20" stroke="#555" stroke-width="0.9"/>
<line x1="555.70" y1="270.70" x2="661.70" y2="217.50" stroke="#111" stroke-width="0.9"/>
<text x="580.40" y="301.20" font-size="4.7" text-anchor="middle" fill="#777" stroke="#777" stroke-width="0.18">2.5</text>
<text x="612.60" y="301.20" font-size="4.7" text-anchor="middle" fill="#777" stroke="#777" stroke-width="0.18">5.0</text>
<text x="644.40" y="301.20" font-size="4.7" text-anchor="middle" fill="#777" stroke="#777" stroke-width="0.18">7.5</text>
<text x="547.90" y="284.59" font-size="4.7" text-anchor="end" fill="#777" stroke="#777" stroke-width="0.18">2000</text>
<text x="547.90" y="264.29" font-size="4.7" text-anchor="end" fill="#777" stroke="#777" stroke-width="0.18">3000</text>
<text x="547.90" y="243.99" font-size="4.7" text-anchor="end" fill="#777" stroke="#777" stroke-width="0.18">4000</text>
<text x="547.90" y="223.29" font-size="4.7" text-anchor="end" fill="#777" stroke="#777" stroke-width="0.18">5000</text>
<text x="0.00" y="0.00" font-size="5.6" text-anchor="middle" fill="#1a1a1a" stroke="#1a1a1a" stroke-width="0.18" transform="translate(614.30 307.80) scale(1 1.12)"><tspan font-style="italic">PTGS2</tspan> Expression</text>
<text x="531.90" y="245.00" font-size="5.75" text-anchor="middle" fill="#1a1a1a" stroke="#1a1a1a" stroke-width="0.18" transform="rotate(-90 531.90 245.00)">Inflammatory Response ssGSEA Score</text>
<text x="0.00" y="0.00" font-size="5.85" fill="#1a1a1a" stroke="#1a1a1a" stroke-width="0.18" transform="translate(651.00 283.80) scale(1 1.12)">R = 0.582</text>
<text x="0.00" y="0.00" font-size="5.85" fill="#1a1a1a" stroke="#1a1a1a" stroke-width="0.18" transform="translate(651.00 290.80) scale(1 1.12)">p = 2.12e−22</text>
<text x="0.00" y="0.00" font-size="7.75" text-anchor="middle" fill="#1a1a1a" stroke="#1a1a1a" stroke-width="0.18" transform="translate(164.00 333.70) scale(1 1.2)">TCGA-COAD (ssGSEA)</text>
<text x="0.00" y="0.00" font-size="7.75" text-anchor="middle" fill="#1a1a1a" stroke="#1a1a1a" stroke-width="0.18" transform="translate(520.30 333.70) scale(1 1.2)">E-MTAB-12862 (ssGSEA)</text>
<line x1="56.80" y1="376.20" x2="56.80" y2="435.30" stroke="#b0b0b0" stroke-width="1.2"/>
<rect x="42.00" y="399.30" width="29.60" height="15.60" fill="#4a86c8" stroke="#505050" stroke-width="0.7"/>
<line x1="42.00" y1="406.30" x2="71.60" y2="406.30" stroke="#333" stroke-width="1.2"/>
<circle cx="56.80" cy="374.60" r="1.15" fill="#4a86c8"/>
<line x1="95.95" y1="377.20" x2="95.95" y2="425.60" stroke="#b0b0b0" stroke-width="1.2"/>
<rect x="81.10" y="392.90" width="29.70" height="14.40" fill="#8e4e9e" stroke="#505050" stroke-width="0.7"/>
<line x1="81.10" y1="399.80" x2="110.80" y2="399.80" stroke="#333" stroke-width="1.2"/>
<circle cx="95.95" cy="433.30" r="1.15" fill="#8e4e9e"/>
<line x1="134.90" y1="370.10" x2="134.90" y2="420.40" stroke="#b0b0b0" stroke-width="1.2"/>
<rect x="120.20" y="390.00" width="29.40" height="14.30" fill="#e0564e" stroke="#505050" stroke-width="0.7"/>
<line x1="120.20" y1="396.40" x2="149.60" y2="396.40" stroke="#333" stroke-width="1.2"/>
<circle cx="134.90" cy="428.80" r="1.15" fill="#e0564e"/>
<line x1="33.50" y1="346.80" x2="33.50" y2="441.00" stroke="#555" stroke-width="0.9"/>
<line x1="33.00" y1="440.50" x2="158.20" y2="440.50" stroke="#555" stroke-width="0.9"/>
<line x1="32.20" y1="432.60" x2="33.50" y2="432.60" stroke="#555" stroke-width="0.7"/>
<text x="0.00" y="0.00" font-size="5.85" text-anchor="end" fill="#333" stroke="#333" stroke-width="0.18" transform="translate(31.40 435.20) scale(1 1.25)">0</text>
<line x1="32.20" y1="409.20" x2="33.50" y2="409.20" stroke="#555" stroke-width="0.7"/>
<text x="0.00" y="0.00" font-size="5.85" text-anchor="end" fill="#333" stroke="#333" stroke-width="0.18" transform="translate(31.40 411.80) scale(1 1.25)">2000</text>
<line x1="32.20" y1="386.20" x2="33.50" y2="386.20" stroke="#555" stroke-width="0.7"/>
<text x="0.00" y="0.00" font-size="5.85" text-anchor="end" fill="#333" stroke="#333" stroke-width="0.18" transform="translate(31.40 388.80) scale(1 1.25)">4000</text>
<line x1="32.20" y1="362.80" x2="33.50" y2="362.80" stroke="#555" stroke-width="0.7"/>
<text x="0.00" y="0.00" font-size="5.85" text-anchor="end" fill="#333" stroke="#333" stroke-width="0.18" transform="translate(31.40 365.40) scale(1 1.25)">6000</text>
<line x1="56.80" y1="440.50" x2="56.80" y2="442.30" stroke="#555" stroke-width="0.7"/>
<text x="56.80" y="447.60" font-size="5.65" text-anchor="middle" fill="#222" stroke="#222" stroke-width="0.18">Low</text>
<line x1="95.90" y1="440.50" x2="95.90" y2="442.30" stroke="#555" stroke-width="0.7"/>
<text x="95.90" y="447.60" font-size="5.65" text-anchor="middle" fill="#222" stroke="#222" stroke-width="0.18">Medium</text>
<line x1="134.90" y1="440.50" x2="134.90" y2="442.30" stroke="#555" stroke-width="0.7"/>
<text x="134.90" y="447.60" font-size="5.65" text-anchor="middle" fill="#222" stroke="#222" stroke-width="0.18">High</text>
<path d="M56.80 352.20V350.90H134.90V352.20" fill="none" stroke="#8a8a8a" stroke-width="0.9"/>
<text x="96.00" y="350.45" font-size="7.5" text-anchor="middle" font-weight="bold" fill="#222" stroke="#222" stroke-width="0.35">****</text>
<path d="M95.90 360.40V359.10H134.90V360.40" fill="none" stroke="#8a8a8a" stroke-width="0.9"/>
<text x="114.40" y="358.65" font-size="7.5" text-anchor="middle" font-weight="bold" fill="#222" stroke="#222" stroke-width="0.35">**</text>
<path d="M56.80 368.30V367.00H95.90V368.30" fill="none" stroke="#8a8a8a" stroke-width="0.9"/>
<text x="76.30" y="366.55" font-size="7.5" text-anchor="middle" font-weight="bold" fill="#222" stroke="#222" stroke-width="0.35">****</text>
<text x="95.30" y="456.20" font-size="5.75" text-anchor="middle" fill="#1a1a1a" stroke="#1a1a1a" stroke-width="0.18"><tspan font-style="italic">P7GS2</tspan> Expression</text>
<text x="13.30" y="393.10" font-size="5.3" text-anchor="middle" fill="#1a1a1a" stroke="#1a1a1a" stroke-width="0.18" transform="rotate(-90 13.30 393.10)">Hallmark IFN−γ Response Score</text>
<line x1="223.60" y1="390.00" x2="223.60" y2="435.30" stroke="#b0b0b0" stroke-width="1.2"/>
<rect x="209.20" y="404.00" width="28.80" height="13.50" fill="#4a86c8" stroke="#505050" stroke-width="0.7"/>
<line x1="209.20" y1="411.40" x2="238.00" y2="411.40" stroke="#333" stroke-width="1.2"/>
<line x1="262.65" y1="379.70" x2="262.65" y2="428.80" stroke="#b0b0b0" stroke-width="1.2"/>
<rect x="248.30" y="395.90" width="28.70" height="13.20" fill="#8e4e9e" stroke="#505050" stroke-width="0.7"/>
<line x1="248.30" y1="403.30" x2="277.00" y2="403.30" stroke="#333" stroke-width="1.2"/>
<circle cx="262.65" cy="373.00" r="1.15" fill="#8e4e9e"/>
<line x1="301.25" y1="376.20" x2="301.25" y2="420.40" stroke="#b0b0b0" stroke-width="1.2"/>
<rect x="286.70" y="389.80" width="29.10" height="12.50" fill="#e0564e" stroke="#505050" stroke-width="0.7"/>
<line x1="286.70" y1="396.20" x2="315.80" y2="396.20" stroke="#333" stroke-width="1.2"/>
<circle cx="301.25" cy="370.00" r="1.15" fill="#e0564e"/>
<line x1="199.90" y1="346.80" x2="199.90" y2="441.00" stroke="#555" stroke-width="0.9"/>
<line x1="199.40" y1="440.50" x2="324.80" y2="440.50" stroke="#555" stroke-width="0.9"/>
<line x1="198.60" y1="424.60" x2="199.90" y2="424.60" stroke="#555" stroke-width="0.7"/>
<text x="0.00" y="0.00" font-size="5.75" text-anchor="end" fill="#333" stroke="#333" stroke-width="0.18" transform="translate(196.90 427.15) scale(1 1.25)">−2000</text>
<line x1="198.60" y1="404.30" x2="199.90" y2="404.30" stroke="#555" stroke-width="0.7"/>
<text x="0.00" y="0.00" font-size="5.75" text-anchor="end" fill="#333" stroke="#333" stroke-width="0.18" transform="translate(196.90 406.85) scale(1 1.25)">0</text>
<line x1="198.60" y1="384.30" x2="199.90" y2="384.30" stroke="#555" stroke-width="0.7"/>
<text x="0.00" y="0.00" font-size="5.75" text-anchor="end" fill="#333" stroke="#333" stroke-width="0.18" transform="translate(196.90 386.85) scale(1 1.25)">2000</text>
<line x1="198.60" y1="363.90" x2="199.90" y2="363.90" stroke="#555" stroke-width="0.7"/>
<text x="0.00" y="0.00" font-size="5.75" text-anchor="end" fill="#333" stroke="#333" stroke-width="0.18" transform="translate(196.90 366.45) scale(1 1.25)">4000</text>
<line x1="223.60" y1="440.50" x2="223.60" y2="442.30" stroke="#555" stroke-width="0.7"/>
<text x="223.60" y="447.60" font-size="5.65" text-anchor="middle" fill="#222" stroke="#222" stroke-width="0.18">Low</text>
<line x1="262.60" y1="440.50" x2="262.60" y2="442.30" stroke="#555" stroke-width="0.7"/>
<text x="262.60" y="447.60" font-size="5.65" text-anchor="middle" fill="#222" stroke="#222" stroke-width="0.18">Medium</text>
<line x1="301.20" y1="440.50" x2="301.20" y2="442.30" stroke="#555" stroke-width="0.7"/>
<text x="301.20" y="447.60" font-size="5.65" text-anchor="middle" fill="#222" stroke="#222" stroke-width="0.18">High</text>
<path d="M223.60 352.20V350.90H301.20V352.20" fill="none" stroke="#8a8a8a" stroke-width="0.9"/>
<text x="263.50" y="350.45" font-size="7.5" text-anchor="middle" font-weight="bold" fill="#222" stroke="#222" stroke-width="0.35">****</text>
<path d="M262.60 360.40V359.10H301.20V360.40" fill="none" stroke="#8a8a8a" stroke-width="0.9"/>
<text x="282.90" y="358.65" font-size="7.5" text-anchor="middle" font-weight="bold" fill="#222" stroke="#222" stroke-width="0.35">****</text>
<path d="M223.60 368.30V367.00H262.60V368.30" fill="none" stroke="#8a8a8a" stroke-width="0.9"/>
<text x="244.10" y="366.55" font-size="7.5" text-anchor="middle" font-weight="bold" fill="#222" stroke="#222" stroke-width="0.35">****</text>
<text x="260.90" y="456.20" font-size="5.75" text-anchor="middle" fill="#1a1a1a" stroke="#1a1a1a" stroke-width="0.18"><tspan font-style="italic">PTGS2</tspan> Expression</text>
<text x="178.00" y="390.80" font-size="4.8" text-anchor="middle" fill="#1a1a1a" stroke="#1a1a1a" stroke-width="0.18" transform="rotate(-90 178.00 390.80)">Hallmark Inflammatory Response Score</text>
<line x1="413.30" y1="381.70" x2="413.30" y2="435.30" stroke="#b0b0b0" stroke-width="1.2"/>
<rect x="398.80" y="402.00" width="29.00" height="14.60" fill="#4a86c8" stroke="#505050" stroke-width="0.7"/>
<line x1="398.80" y1="407.80" x2="427.80" y2="407.80" stroke="#333" stroke-width="1.2"/>
<circle cx="413.30" cy="374.60" r="1.15" fill="#4a86c8"/>
<line x1="452.05" y1="379.40" x2="452.05" y2="426.90" stroke="#b0b0b0" stroke-width="1.2"/>
<rect x="437.50" y="398.10" width="29.10" height="13.30" fill="#8e4e9e" stroke="#505050" stroke-width="0.7"/>
<line x1="437.50" y1="405.30" x2="466.60" y2="405.30" stroke="#333" stroke-width="1.2"/>
<circle cx="452.05" cy="368.80" r="1.15" fill="#8e4e9e"/>
<circle cx="452.05" cy="371.30" r="1.15" fill="#8e4e9e"/>
<circle cx="452.05" cy="373.00" r="1.15" fill="#8e4e9e"/>
<line x1="491.10" y1="372.30" x2="491.10" y2="423.00" stroke="#b0b0b0" stroke-width="1.2"/>
<rect x="476.60" y="391.40" width="29.00" height="14.20" fill="#e0564e" stroke="#505050" stroke-width="0.7"/>
<line x1="476.60" y1="399.10" x2="505.60" y2="399.10" stroke="#333" stroke-width="1.2"/>
<circle cx="491.10" cy="369.70" r="1.15" fill="#e0564e"/>
<line x1="389.50" y1="344.90" x2="389.50" y2="441.00" stroke="#555" stroke-width="0.9"/>
<line x1="389.00" y1="440.50" x2="514.80" y2="440.50" stroke="#555" stroke-width="0.9"/>
<line x1="388.20" y1="431.70" x2="389.50" y2="431.70" stroke="#555" stroke-width="0.7"/>
<text x="0.00" y="0.00" font-size="5.8" text-anchor="end" fill="#333" stroke="#333" stroke-width="0.18" transform="translate(387.10 434.27) scale(1 1.25)">4000</text>
<line x1="388.20" y1="412.40" x2="389.50" y2="412.40" stroke="#555" stroke-width="0.7"/>
<text x="0.00" y="0.00" font-size="5.8" text-anchor="end" fill="#333" stroke="#333" stroke-width="0.18" transform="translate(387.10 414.97) scale(1 1.25)">5000</text>
<line x1="388.20" y1="393.30" x2="389.50" y2="393.30" stroke="#555" stroke-width="0.7"/>
<text x="0.00" y="0.00" font-size="5.8" text-anchor="end" fill="#333" stroke="#333" stroke-width="0.18" transform="translate(387.10 395.87) scale(1 1.25)">6000</text>
<line x1="388.20" y1="374.60" x2="389.50" y2="374.60" stroke="#555" stroke-width="0.7"/>
<text x="0.00" y="0.00" font-size="5.8" text-anchor="end" fill="#333" stroke="#333" stroke-width="0.18" transform="translate(387.10 377.17) scale(1 1.25)">7000</text>
<line x1="388.20" y1="355.20" x2="389.50" y2="355.20" stroke="#555" stroke-width="0.7"/>
<text x="0.00" y="0.00" font-size="5.8" text-anchor="end" fill="#333" stroke="#333" stroke-width="0.18" transform="translate(387.10 357.77) scale(1 1.25)">8000</text>
<line x1="413.30" y1="440.50" x2="413.30" y2="442.30" stroke="#555" stroke-width="0.7"/>
<text x="413.30" y="447.60" font-size="5.65" text-anchor="middle" fill="#222" stroke="#222" stroke-width="0.18">Low</text>
<line x1="452.00" y1="440.50" x2="452.00" y2="442.30" stroke="#555" stroke-width="0.7"/>
<text x="452.00" y="447.60" font-size="5.65" text-anchor="middle" fill="#222" stroke="#222" stroke-width="0.18">Medium</text>
<line x1="491.10" y1="440.50" x2="491.10" y2="442.30" stroke="#555" stroke-width="0.7"/>
<text x="491.10" y="447.60" font-size="5.65" text-anchor="middle" fill="#222" stroke="#222" stroke-width="0.18">High</text>
<path d="M413.30 350.40V349.10H491.10V350.40" fill="none" stroke="#8a8a8a" stroke-width="0.9"/>
<text x="452.40" y="348.65" font-size="8.4" text-anchor="middle" font-weight="bold" fill="#222" stroke="#222" stroke-width="0.35">****</text>
<path d="M452.00 358.50V357.20H491.10V358.50" fill="none" stroke="#8a8a8a" stroke-width="0.9"/>
<text x="473.40" y="356.75" font-size="8.4" text-anchor="middle" font-weight="bold" fill="#222" stroke="#222" stroke-width="0.35">****</text>
<path d="M413.30 366.50V365.20H452.00V366.50" fill="none" stroke="#8a8a8a" stroke-width="0.9"/>
<text x="433.60" y="364.75" font-size="8.4" text-anchor="middle" font-weight="bold" fill="#222" stroke="#222" stroke-width="0.35">***</text>
<text x="452.40" y="456.20" font-size="5.75" text-anchor="middle" fill="#1a1a1a" stroke="#1a1a1a" stroke-width="0.18"><tspan font-style="italic">PTGS2</tspan> Expression</text>
<text x="370.20" y="394.40" font-size="5.3" text-anchor="middle" fill="#1a1a1a" stroke="#1a1a1a" stroke-width="0.18" transform="rotate(-90 370.20 394.40)">Hallmark IFN−γ Response Score</text>
<line x1="579.10" y1="386.50" x2="579.10" y2="435.00" stroke="#b0b0b0" stroke-width="1.2"/>
<rect x="564.20" y="401.00" width="29.80" height="13.90" fill="#4a86c8" stroke="#505050" stroke-width="0.7"/>
<line x1="564.20" y1="406.90" x2="594.00" y2="406.90" stroke="#333" stroke-width="1.2"/>
<circle cx="579.10" cy="376.80" r="1.15" fill="#4a86c8"/>
<line x1="618.45" y1="377.80" x2="618.45" y2="423.70" stroke="#b0b0b0" stroke-width="1.2"/>
<rect x="603.60" y="394.00" width="29.70" height="11.60" fill="#8e4e9e" stroke="#505050" stroke-width="0.7"/>
<line x1="603.60" y1="400.40" x2="633.30" y2="400.40" stroke="#333" stroke-width="1.2"/>
<circle cx="618.45" cy="373.90" r="1.15" fill="#8e4e9e"/>
<circle cx="618.45" cy="375.50" r="1.15" fill="#8e4e9e"/>
<circle cx="618.45" cy="435.90" r="1.15" fill="#8e4e9e"/>
<line x1="657.70" y1="368.80" x2="657.70" y2="416.50" stroke="#b0b0b0" stroke-width="1.2"/>
<rect x="643.00" y="384.90" width="29.40" height="13.20" fill="#e0564e" stroke="#505050" stroke-width="0.7"/>
<line x1="643.00" y1="390.70" x2="672.40" y2="390.70" stroke="#333" stroke-width="1.2"/>
<circle cx="657.70" cy="419.80" r="1.15" fill="#e0564e"/>
<circle cx="657.70" cy="425.60" r="1.15" fill="#e0564e"/>
<line x1="555.50" y1="344.60" x2="555.50" y2="441.00" stroke="#555" stroke-width="0.9"/>
<line x1="555.00" y1="440.50" x2="679.50" y2="440.50" stroke="#555" stroke-width="0.9"/>
<line x1="554.20" y1="429.10" x2="555.50" y2="429.10" stroke="#555" stroke-width="0.7"/>
<text x="0.00" y="0.00" font-size="5.6" text-anchor="end" fill="#333" stroke="#333" stroke-width="0.18" transform="translate(553.40 431.59) scale(1 1.25)">2000</text>
<line x1="554.20" y1="412.30" x2="555.50" y2="412.30" stroke="#555" stroke-width="0.7"/>
<text x="0.00" y="0.00" font-size="5.6" text-anchor="end" fill="#333" stroke="#333" stroke-width="0.18" transform="translate(553.40 414.79) scale(1 1.25)">3000</text>
<line x1="554.20" y1="395.70" x2="555.50" y2="395.70" stroke="#555" stroke-width="0.7"/>
<text x="0.00" y="0.00" font-size="5.6" text-anchor="end" fill="#333" stroke="#333" stroke-width="0.18" transform="translate(553.40 398.19) scale(1 1.25)">4000</text>
<line x1="554.20" y1="378.90" x2="555.50" y2="378.90" stroke="#555" stroke-width="0.7"/>
<text x="0.00" y="0.00" font-size="5.6" text-anchor="end" fill="#333" stroke="#333" stroke-width="0.18" transform="translate(553.40 381.38) scale(1 1.25)">5000</text>
<line x1="554.20" y1="362.10" x2="555.50" y2="362.10" stroke="#555" stroke-width="0.7"/>
<text x="0.00" y="0.00" font-size="5.6" text-anchor="end" fill="#333" stroke="#333" stroke-width="0.18" transform="translate(553.40 364.59) scale(1 1.25)">6000</text>
<line x1="554.20" y1="345.60" x2="555.50" y2="345.60" stroke="#555" stroke-width="0.7"/>
<text x="0.00" y="0.00" font-size="5.6" text-anchor="end" fill="#333" stroke="#333" stroke-width="0.18" transform="translate(553.40 348.09) scale(1 1.25)">7000</text>
<line x1="579.10" y1="440.50" x2="579.10" y2="442.30" stroke="#555" stroke-width="0.7"/>
<text x="579.10" y="447.60" font-size="5.65" text-anchor="middle" fill="#222" stroke="#222" stroke-width="0.18">Low</text>
<line x1="618.40" y1="440.50" x2="618.40" y2="442.30" stroke="#555" stroke-width="0.7"/>
<text x="618.40" y="447.60" font-size="5.65" text-anchor="middle" fill="#222" stroke="#222" stroke-width="0.18">Medium</text>
<line x1="657.70" y1="440.50" x2="657.70" y2="442.30" stroke="#555" stroke-width="0.7"/>
<text x="657.70" y="447.60" font-size="5.65" text-anchor="middle" fill="#222" stroke="#222" stroke-width="0.18">High</text>
<path d="M579.10 349.70V348.40H657.70V349.70" fill="none" stroke="#8a8a8a" stroke-width="0.9"/>
<text x="617.50" y="347.95" font-size="8.4" text-anchor="middle" font-weight="bold" fill="#222" stroke="#222" stroke-width="0.35">****</text>
<path d="M618.40 358.10V356.80H657.70V358.10" fill="none" stroke="#8a8a8a" stroke-width="0.9"/>
<text x="639.80" y="356.35" font-size="8.4" text-anchor="middle" font-weight="bold" fill="#222" stroke="#222" stroke-width="0.35">****</text>
<path d="M579.10 366.20V364.90H618.40V366.20" fill="none" stroke="#8a8a8a" stroke-width="0.9"/>
<text x="601.40" y="364.45" font-size="8.4" text-anchor="middle" font-weight="bold" fill="#222" stroke="#222" stroke-width="0.35">****</text>
<text x="617.20" y="456.20" font-size="5.75" text-anchor="middle" fill="#1a1a1a" stroke="#1a1a1a" stroke-width="0.18"><tspan font-style="italic">PTGS2</tspan> Expression</text>
<text x="535.60" y="391.40" font-size="5.77" text-anchor="middle" fill="#1a1a1a" stroke="#1a1a1a" stroke-width="0.18" transform="rotate(-90 535.60 391.40)">Hallmark Inflammatory Response Score</text>
</svg>
</body></html>
